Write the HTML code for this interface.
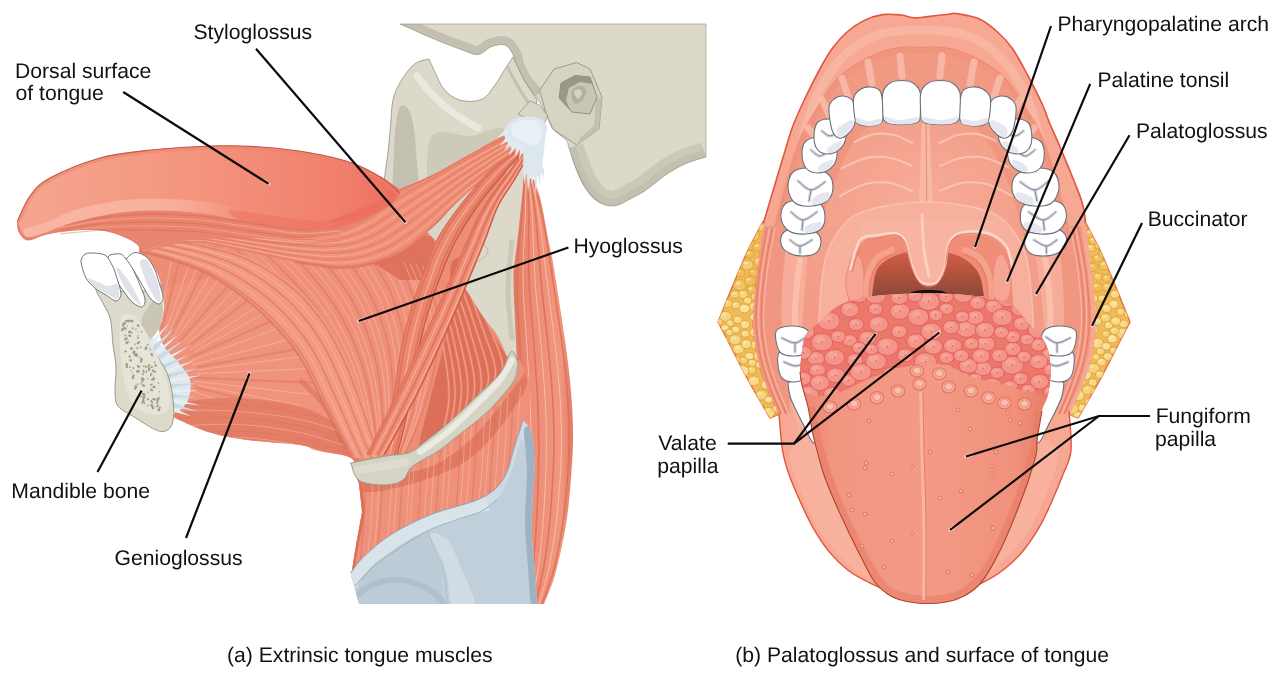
<!DOCTYPE html>
<html><head><meta charset="utf-8"><title>Tongue muscles</title>
<style>
html,body{margin:0;padding:0;background:#fff;}
body{width:1280px;height:677px;overflow:hidden;font-family:"Liberation Sans",sans-serif;}
svg{display:block;}
svg text{text-rendering:geometricPrecision;}
text{font-family:"Liberation Sans",sans-serif;font-size:21.15px;fill:#111;}
</style></head><body>
<svg width="1280" height="677" viewBox="0 0 1280 677">
<clipPath id="cSk"><path d="M400,24C405.5,26.4 423.1,34.4 433,38.6C442.9,42.8 452.2,46.4 459.7,49C467.2,51.6 472.7,54.9 478,54.5C483.3,54.1 487.1,48.2 491.6,46.6C496.1,45 501.4,43.7 505,45C508.6,46.3 511.2,51.2 513,54.5C514.8,57.8 513.9,60.6 515.6,65C517.4,69.4 520.1,75.8 523.5,81C526.9,86.2 533.9,93.5 536,96L546,113C547.2,115.7 549.7,124.5 553,129C556.3,133.5 563.3,136.8 566,140C568.7,143.2 567.5,143.7 569,148C570.5,152.3 572.5,159.7 575,166C577.5,172.3 580.3,180.2 584,186C587.7,191.8 592,197.7 597,201C602,204.3 608.2,206.5 614,206C619.8,205.5 626.7,200.7 632,198C637.3,195.3 640.2,194 646,190C651.8,186 660.3,178.4 667,174C673.7,169.6 679.5,166.3 686,163.5C692.5,160.7 702.7,158.1 706,157L706,24Z"/></clipPath>
<path d="M400,24C405.5,26.4 423.1,34.4 433,38.6C442.9,42.8 452.2,46.4 459.7,49C467.2,51.6 472.7,54.9 478,54.5C483.3,54.1 487.1,48.2 491.6,46.6C496.1,45 501.4,43.7 505,45C508.6,46.3 511.2,51.2 513,54.5C514.8,57.8 513.9,60.6 515.6,65C517.4,69.4 520.1,75.8 523.5,81C526.9,86.2 533.9,93.5 536,96L546,113C547.2,115.7 549.7,124.5 553,129C556.3,133.5 563.3,136.8 566,140C568.7,143.2 567.5,143.7 569,148C570.5,152.3 572.5,159.7 575,166C577.5,172.3 580.3,180.2 584,186C587.7,191.8 592,197.7 597,201C602,204.3 608.2,206.5 614,206C619.8,205.5 626.7,200.7 632,198C637.3,195.3 640.2,194 646,190C651.8,186 660.3,178.4 667,174C673.7,169.6 679.5,166.3 686,163.5C692.5,160.7 702.7,158.1 706,157L706,24Z" fill="#dcd9ca"/>
<g clip-path="url(#cSk)">
<path d="M400,24C405.5,26.4 423.1,34.4 433,38.6C442.9,42.8 452.2,46.4 459.7,49C467.2,51.6 472.7,54.9 478,54.5C483.3,54.1 487.1,48.2 491.6,46.6C496.1,45 501.4,43.7 505,45C508.6,46.3 511.2,51.2 513,54.5C514.8,57.8 513.9,60.6 515.6,65C517.4,69.4 520.1,75.8 523.5,81C526.9,86.2 533.9,93.5 536,96" fill="none" stroke="#c3c0b0" stroke-width="17" stroke-linejoin="round"/>
<path d="M569,148C570,151 572.5,159.7 575,166C577.5,172.3 580.3,180.2 584,186C587.7,191.8 592,197.7 597,201C602,204.3 608.2,206.5 614,206C619.8,205.5 626.7,200.7 632,198C637.3,195.3 640.2,194 646,190C651.8,186 660.3,178.4 667,174C673.7,169.6 679.5,166.3 686,163.5C692.5,160.7 702.7,158.1 706,157" fill="none" stroke="#cbc8b8" stroke-width="30"/>
<path d="M569,148C570,151 572.5,159.7 575,166C577.5,172.3 580.3,180.2 584,186C587.7,191.8 592,197.7 597,201C602,204.3 608.2,206.5 614,206C619.8,205.5 626.7,200.7 632,198C637.3,195.3 640.2,194 646,190C651.8,186 660.3,178.4 667,174C673.7,169.6 679.5,166.3 686,163.5C692.5,160.7 702.7,158.1 706,157" fill="none" stroke="#c3c0b0" stroke-width="14"/>
<path d="M560,140C562.5,145 570,160.7 575,170C580,179.3 583.5,189.3 590,196C596.5,202.7 605.7,209.3 614,210C622.3,210.7 635.7,201.7 640,200" fill="none" stroke="#b9b6a6" stroke-width="5"/>
</g>
<path d="M400,24C405.5,26.4 423.1,34.4 433,38.6C442.9,42.8 452.2,46.4 459.7,49C467.2,51.6 472.7,54.9 478,54.5C483.3,54.1 487.1,48.2 491.6,46.6C496.1,45 501.4,43.7 505,45C508.6,46.3 511.2,51.2 513,54.5C514.8,57.8 513.9,60.6 515.6,65C517.4,69.4 520.1,75.8 523.5,81C526.9,86.2 533.9,93.5 536,96L546,113C547.2,115.7 549.7,124.5 553,129C556.3,133.5 563.3,136.8 566,140C568.7,143.2 567.5,143.7 569,148C570.5,152.3 572.5,159.7 575,166C577.5,172.3 580.3,180.2 584,186C587.7,191.8 592,197.7 597,201C602,204.3 608.2,206.5 614,206C619.8,205.5 626.7,200.7 632,198C637.3,195.3 640.2,194 646,190C651.8,186 660.3,178.4 667,174C673.7,169.6 679.5,166.3 686,163.5C692.5,160.7 702.7,158.1 706,157L706,24Z" fill="none" stroke="#8e8d80" stroke-width="0.6"/>
<path d="M539.5,90.4L554,69L576.7,62.5L590,69L602,97L599,129L576.7,145L552.8,129L546,113Z" fill="#d6d3c3" stroke="#8e8d80" stroke-width="0.8" stroke-linejoin="round"/>
<path d="M602,97L599,129L576.7,145L580,138L594,126L596,99Z" fill="#c3c0b0"/>
<path d="M561,83L575,75.5L590,77L597,97L590,114L572,112L559,98Z" fill="#c9c6b6" stroke="#8a887b" stroke-width="0.9" stroke-linejoin="round"/>
<path d="M561,83L575,75.5L590,77L593,84L580,82L569,88L566,100L570,110L559,98Z" fill="#9a9787"/>
<path d="M572,90C573.3,88 577.7,86 580,86C582.3,86 585.3,88 586,90C586.7,92 585.7,95.7 584,98C582.3,100.3 578,104 576,104C574,104 572.7,100.3 572,98C571.3,95.7 570.7,92 572,90Z" fill="#b3b0a0"/>
<path d="M574,92C574.2,90.3 577.7,88.8 579,89C580.3,89.2 582.2,91.3 582,93C581.8,94.7 579.3,99.2 578,99C576.7,98.8 573.8,93.7 574,92Z" fill="#d5d2c3"/>
<clipPath id="cRam"><path d="M429,59C426.6,59.8 419.2,60.3 414.5,64C409.8,67.7 404.6,75 401,81C397.4,87 394.7,92.2 393,99.7C391.3,107.2 391.4,117.1 390.6,126C389.8,134.9 388.9,145 388,153C387.1,161 386,164.5 385,174C384,183.5 382.2,189 382,210C381.8,231 383.7,285 384,300L520,372L524,300L524,200L531,128L537,100L524,80L513,57L513,57C512.1,58.3 510.8,60.1 507.6,65C504.4,69.9 498.4,80.7 494,86.5C489.6,92.3 486.7,97.5 481,99.7C475.3,102 465.9,101.8 459.7,100C453.5,98.2 448.2,94.4 443.8,89C439.4,83.6 435.5,72.8 433,67.8C430.5,62.8 429.7,60.5 429,59Z"/></clipPath>
<path d="M429,59C426.6,59.8 419.2,60.3 414.5,64C409.8,67.7 404.6,75 401,81C397.4,87 394.7,92.2 393,99.7C391.3,107.2 391.4,117.1 390.6,126C389.8,134.9 388.9,145 388,153C387.1,161 386,164.5 385,174C384,183.5 382.2,189 382,210C381.8,231 383.7,285 384,300L520,372L524,300L524,200L531,128L537,100L524,80L513,57L513,57C512.1,58.3 510.8,60.1 507.6,65C504.4,69.9 498.4,80.7 494,86.5C489.6,92.3 486.7,97.5 481,99.7C475.3,102 465.9,101.8 459.7,100C453.5,98.2 448.2,94.4 443.8,89C439.4,83.6 435.5,72.8 433,67.8C430.5,62.8 429.7,60.5 429,59Z" fill="#dcd9ca" stroke="#8e8d80" stroke-width="0.8"/>
<g clip-path="url(#cRam)">
<path d="M398,112C399.8,104.7 402.7,105 405,106C407.3,107 410.2,110.7 412,118C413.8,125.3 415.2,136.3 416,150C416.8,163.7 420.5,191.7 417,200C413.5,208.3 398.8,208.3 395,200C391.2,191.7 393.5,164.7 394,150C394.5,135.3 396.2,119.3 398,112Z" fill="#c3c0b0"/>
<path d="M432,136C439,125.3 458.7,137.3 470,136C481.3,134.7 493,127.3 500,128C507,128.7 512,131.3 512,140C512,148.7 507,165 500,180C493,195 480,216.7 470,230C460,243.3 447,265 440,260C433,255 429.3,220.7 428,200C426.7,179.3 425,146.7 432,136Z" fill="#cdcab9"/>
<path d="M417,76C419.2,78.7 424.2,86 430,92C435.8,98 444,106 452,112C460,118 473.7,125.3 478,128" fill="none" stroke="#ebe9df" stroke-width="7" stroke-linecap="round"/>
<path d="M507,66C509.2,70 515.8,83 520,90C524.2,97 530,105 532,108" fill="none" stroke="#c3c0b0" stroke-width="3"/>
<path d="M512,240C511.3,248.3 508,273.3 508,290C508,306.7 511.3,331.7 512,340" fill="none" stroke="#cbc8b8" stroke-width="5"/>
<path d="M470,232C473,235 486.7,245 488,250C489.3,255 479.7,260 478,262" fill="none" stroke="#b9b6a6" stroke-width="1"/>
</g>
<path d="M518,114L530,101L539.5,105L547.5,115.7L543.5,126L530,120Z" fill="#d9d6c6" stroke="#8e8d80" stroke-width="0.7" stroke-linejoin="round"/>
<defs>
<linearGradient id="gTongue" x1="0" y1="0" x2="1" y2="0"><stop offset="0" stop-color="#f5a690"/><stop offset="0.45" stop-color="#f4957e"/><stop offset="0.8" stop-color="#f1826e"/><stop offset="1" stop-color="#ee6f60"/></linearGradient>
<linearGradient id="gCart" x1="0" y1="0" x2="1" y2="0"><stop offset="0" stop-color="#c9d6de"/><stop offset="0.6" stop-color="#bccbd5"/><stop offset="1" stop-color="#a9bcc9"/></linearGradient>
<linearGradient id="gB3" x1="0" y1="0" x2="1" y2="0"><stop offset="0" stop-color="#e07860"/><stop offset="0.3" stop-color="#ee8d76"/><stop offset="0.8" stop-color="#f19680"/><stop offset="1" stop-color="#e27a62"/></linearGradient>
</defs>
<path d="M524,176C523.2,184.3 520.5,212 519,226C517.5,240 515.9,250.8 515,260C514.1,269.2 513.3,267.7 513.5,281C513.7,294.3 515.2,322.3 516,340C516.8,357.7 517.3,368.7 518,387C518.7,405.3 519.7,413.8 520,450C520.3,486.2 520,578.3 520,604L544,604C545.8,599.2 551.5,587.3 555,575C558.5,562.7 562.5,544.2 565,530C567.5,515.8 568.7,505 570,490C571.3,475 572.8,456.3 573,440C573.2,423.7 572.3,408.7 571,392C569.7,375.3 567.5,358.5 565,340C562.5,321.5 558.1,294.3 556,281C553.9,267.7 553.7,266.7 552.5,260C551.3,253.3 550.5,250.8 548.6,241C546.7,231.2 543.4,211.2 541,201C538.6,190.8 535.2,183.5 534,180Z" fill="url(#gB3)"/>
<path d="M524.7,176.3C524.2,182.7 523,202.1 521.9,215C520.8,227.9 519.1,240.8 518.3,253.7C517.5,266.6 516.9,279.6 517,292.5C517.1,305.5 518.4,318.5 519.1,331.4C519.7,344.4 520.4,357.4 521,370.4C521.7,383.4 522.4,396.3 522.8,409.3C523.3,422.3 523.6,435.3 523.7,448.3C523.9,461.3 523.8,474.3 523.7,487.3C523.6,500.3 523.5,513.3 523.4,526.2C523.2,539.2 523,552.2 522.7,565.2C522.4,578.1 521.9,597.5 521.7,604" fill="none" stroke="#dc6f57" stroke-width="1.6" opacity="0.85"/>
<path d="M526.1,176.9C526,183.3 525.8,202.5 525.3,215.4C524.9,228.3 523.8,241.2 523.4,254.1C523.1,267 522.9,279.9 523.3,292.9C523.8,305.8 525.1,318.8 526,331.8C526.9,344.7 527.7,357.7 528.4,370.7C529.2,383.7 530,396.7 530.4,409.7C530.9,422.7 531.2,435.7 531.3,448.7C531.3,461.7 531.1,474.7 530.8,487.7C530.6,500.7 530.3,513.7 529.8,526.6C529.3,539.6 528.8,552.6 528,565.5C527.2,578.4 525.6,597.6 525.1,604" fill="none" stroke="#fbc9b6" stroke-width="0.9" opacity="0.85"/>
<path d="M527.6,177.4C527.8,183.8 528.6,203 528.8,215.8C529,228.7 528.4,241.6 528.6,254.5C528.7,267.4 528.9,280.3 529.7,293.2C530.4,306.2 531.9,319.2 532.9,332.1C534,345.1 535,358 535.8,371C536.7,384 537.6,397 538.1,410C538.6,423 538.8,436 538.8,449.1C538.8,462.1 538.4,475.1 538,488.1C537.5,501.1 537,514.1 536.2,527C535.5,540 534.6,552.9 533.3,565.8C532,578.6 529.4,597.6 528.6,604" fill="none" stroke="#dc6f57" stroke-width="1.6" opacity="0.85"/>
<path d="M529,178C529.5,184.4 531.5,203.4 532.3,216.2C533.1,229.1 533.1,242 533.7,254.9C534.4,267.7 535,280.7 536,293.6C537,306.5 538.7,319.5 539.9,332.5C541.1,345.4 542.3,358.4 543.2,371.4C544.2,384.3 545.2,397.3 545.7,410.4C546.2,423.4 546.5,436.4 546.4,449.4C546.3,462.5 545.7,475.5 545.1,488.5C544.5,501.5 543.8,514.5 542.7,527.4C541.6,540.3 540.4,553.3 538.6,566.1C536.8,578.8 533.1,597.7 532,604" fill="none" stroke="#fbc9b6" stroke-width="0.9" opacity="0.85"/>
<path d="M530.4,178.6C531.3,184.9 534.3,203.9 535.7,216.7C537.1,229.4 537.8,242.4 538.9,255.2C540,268.1 541,281 542.3,294C543.7,306.9 545.4,319.8 546.8,332.8C548.2,345.7 549.5,358.7 550.6,371.7C551.7,384.7 552.7,397.7 553.3,410.7C553.8,423.7 554.1,436.8 553.9,449.8C553.7,462.8 553,475.9 552.2,488.9C551.4,501.9 550.5,514.9 549.1,527.8C547.7,540.7 546.2,553.7 543.9,566.4C541.6,579.1 536.8,597.7 535.4,604" fill="none" stroke="#dc6f57" stroke-width="1.6" opacity="0.85"/>
<path d="M531.9,179.1C533.1,185.5 537.2,204.3 539.2,217.1C541.2,229.8 542.5,242.8 544,255.6C545.6,268.5 547.1,281.4 548.7,294.3C550.3,307.2 552.2,320.2 553.7,333.1C555.3,346.1 556.8,359 558,372C559.2,385 560.3,398 560.9,411.1C561.5,424.1 561.7,437.2 561.4,450.2C561.2,463.2 560.3,476.3 559.3,489.3C558.3,502.3 557.2,515.3 555.6,528.2C553.9,541.1 551.9,554 549.2,566.7C546.4,579.3 540.6,597.8 538.9,604" fill="none" stroke="#fbc9b6" stroke-width="0.9" opacity="0.85"/>
<path d="M533.3,179.7C534.8,186 540,204.8 542.6,217.5C545.3,230.2 547.1,243.1 549.2,256C551.3,268.9 553.1,281.8 555,294.7C556.9,307.6 558.9,320.5 560.6,333.5C562.4,346.4 564.1,359.4 565.4,372.3C566.7,385.3 567.9,398.4 568.5,411.4C569.1,424.4 569.3,437.5 569,450.6C568.6,463.6 567.6,476.7 566.4,489.7C565.3,502.7 564,515.7 562,528.6C560,541.5 557.7,554.4 554.5,567C551.2,579.5 544.3,597.8 542.3,604" fill="none" stroke="#dc6f57" stroke-width="1.6" opacity="0.85"/>
<clipPath id="cInf"><path d="M352,466L359,484L362,512L356,545L351,576L362,604L530,604L530,380L520,360Z"/></clipPath>
<path d="M352,466L359,484L362,512L356,545L351,576L362,604L530,604L530,380L520,360Z" fill="#ef917a"/>
<g clip-path="url(#cInf)">
<path d="M350,470C359.2,466.3 400,475 420,470C440,465 453.3,455 470,440C486.7,425 511,391.3 520,380C529,368.7 523.3,370 524,372C524.7,374 531.3,379 524,392C516.7,405 495.7,435.7 480,450C464.3,464.3 449.2,471 430,478C410.8,485 378.3,493.3 365,492C351.7,490.7 340.8,473.7 350,470Z" fill="#dc6f57" opacity="0.7"/>
<path d="M366.4,470C365.9,478.3 365.2,501.7 363.9,520C362.5,538.3 360.6,560 358.4,580C356.1,600 351.7,630 350.4,640" fill="none" stroke="#dc6f57" stroke-width="1.5" opacity="0.5"/>
<path d="M373.1,470C372.7,478.3 372.3,501.7 371,520C369.6,538.3 367.4,560 365.1,580C362.8,600 358.4,630 357.1,640" fill="none" stroke="#fbc9b6" stroke-width="0.9" opacity="0.5"/>
<path d="M379.1,470C378.8,478.3 378.3,501.7 377,520C375.6,538.3 373.4,560 371.1,580C368.8,600 364.5,630 363.1,640" fill="none" stroke="#fbc9b6" stroke-width="0.9" opacity="0.5"/>
<path d="M383.2,470C382.7,478.3 381.5,501.7 380.1,520C378.8,538.3 377.3,560 375.2,580C373,600 368.5,630 367.2,640" fill="none" stroke="#dc6f57" stroke-width="1.5" opacity="0.5"/>
<path d="M392.1,470C391.7,478.3 390.8,501.7 389.4,520C388.1,538.3 386.3,560 384.1,580C381.9,600 377.5,630 376.1,640" fill="none" stroke="#fbc9b6" stroke-width="0.9" opacity="0.5"/>
<path d="M398.2,470C397.6,478.3 395.8,501.7 394.4,520C393.1,538.3 392.2,560 390.2,580C388.2,600 383.5,630 382.2,640" fill="none" stroke="#fbc9b6" stroke-width="0.9" opacity="0.5"/>
<path d="M403.1,470C402.5,478.3 400.9,501.7 399.6,520C398.3,538.3 397.2,560 395.1,580C393,600 388.4,630 387.1,640" fill="none" stroke="#dc6f57" stroke-width="1.5" opacity="0.5"/>
<path d="M409.5,470C409.1,478.3 408,501.7 406.7,520C405.3,538.3 403.7,560 401.5,580C399.3,600 394.9,630 393.5,640" fill="none" stroke="#fbc9b6" stroke-width="0.9" opacity="0.5"/>
<path d="M414.1,466.9C413.5,475.2 411.9,498.6 410.6,516.9C409.2,535.2 408.2,556.9 406.1,576.9C404.1,596.9 399.5,626.9 398.1,636.9" fill="none" stroke="#fbc9b6" stroke-width="0.9" opacity="0.5"/>
<path d="M421.1,461.6C420.8,470 420.3,493.3 419,511.6C417.6,530 415.4,551.6 413.1,571.6C410.8,591.6 406.5,621.6 405.1,631.6" fill="none" stroke="#dc6f57" stroke-width="1.5" opacity="0.5"/>
<path d="M428.8,455.9C428.2,464.2 426.4,487.6 425.1,505.9C423.8,524.2 422.9,545.9 420.8,565.9C418.7,585.9 414.1,615.9 412.8,625.9" fill="none" stroke="#fbc9b6" stroke-width="0.9" opacity="0.5"/>
<path d="M435.1,451.2C434.5,459.5 432.7,482.8 431.4,501.2C430,519.5 429.1,541.2 427.1,561.2C425,581.2 420.4,611.2 419.1,621.2" fill="none" stroke="#fbc9b6" stroke-width="0.9" opacity="0.5"/>
<path d="M440.8,446.9C440.1,455.3 438.3,478.6 437,496.9C435.7,515.3 434.8,536.9 432.8,556.9C430.7,576.9 426.1,606.9 424.8,616.9" fill="none" stroke="#dc6f57" stroke-width="1.5" opacity="0.5"/>
<path d="M445.1,443.7C444.7,452 444.2,475.3 442.8,493.7C441.5,512 439.4,533.7 437.1,553.7C434.8,573.7 430.4,603.7 429.1,613.7" fill="none" stroke="#fbc9b6" stroke-width="0.9" opacity="0.5"/>
<path d="M451.9,438.6C451.3,446.9 449.7,470.2 448.4,488.6C447,506.9 446,528.6 443.9,548.6C441.9,568.6 437.3,598.6 435.9,608.6" fill="none" stroke="#fbc9b6" stroke-width="0.9" opacity="0.5"/>
<path d="M460.4,432.2C460.1,440.5 459.5,463.8 458.2,482.2C456.9,500.5 454.7,522.2 452.4,542.2C450.2,562.2 445.8,592.2 444.4,602.2" fill="none" stroke="#dc6f57" stroke-width="1.5" opacity="0.5"/>
<path d="M464.6,429.1C464.2,437.4 463.8,460.7 462.5,479.1C461.2,497.4 458.9,519.1 456.6,539.1C454.2,559.1 449.9,589.1 448.6,599.1" fill="none" stroke="#fbc9b6" stroke-width="0.9" opacity="0.5"/>
<path d="M471.5,423.9C471.1,432.2 470.2,455.5 468.9,473.9C467.5,492.2 465.7,513.9 463.5,533.9C461.3,553.9 456.9,583.9 455.5,593.9" fill="none" stroke="#fbc9b6" stroke-width="0.9" opacity="0.5"/>
<path d="M476.7,420C476.4,428.3 475.9,451.6 474.6,470C473.3,488.3 471,510 468.7,530C466.4,550 462,580 460.7,590" fill="none" stroke="#dc6f57" stroke-width="1.5" opacity="0.5"/>
<path d="M484.4,414.2C484,422.6 483.6,445.9 482.3,464.2C481,482.6 478.7,504.2 476.4,524.2C474,544.2 469.7,574.2 468.4,584.2" fill="none" stroke="#fbc9b6" stroke-width="0.9" opacity="0.5"/>
<path d="M491.2,409.1C490.6,417.4 489.1,440.8 487.8,459.1C486.4,477.4 485.3,499.1 483.2,519.1C481.1,539.1 476.5,569.1 475.2,579.1" fill="none" stroke="#fbc9b6" stroke-width="0.9" opacity="0.5"/>
<path d="M495.8,405.7C495.2,414 493.4,437.3 492.1,455.7C490.8,474 489.8,495.7 487.8,515.7C485.7,535.7 481.1,565.7 479.8,575.7" fill="none" stroke="#dc6f57" stroke-width="1.5" opacity="0.5"/>
<path d="M501.3,401.5C500.7,409.8 498.8,433.2 497.5,451.5C496.1,469.8 495.4,491.5 493.3,511.5C491.3,531.5 486.7,561.5 485.3,571.5" fill="none" stroke="#fbc9b6" stroke-width="0.9" opacity="0.5"/>
<path d="M508,396.5C507.5,404.8 506.5,428.2 505.2,446.5C503.9,464.8 502.2,486.5 500,506.5C497.8,526.5 493.3,556.5 492,566.5" fill="none" stroke="#fbc9b6" stroke-width="0.9" opacity="0.5"/>
<path d="M513.3,392.5C512.9,400.9 512,424.2 510.7,442.5C509.3,460.9 507.5,482.5 505.3,502.5C503.1,522.5 498.6,552.5 497.3,562.5" fill="none" stroke="#dc6f57" stroke-width="1.5" opacity="0.5"/>
<path d="M520.5,387.1C520,395.4 518.5,418.8 517.1,437.1C515.8,455.4 514.6,477.1 512.5,497.1C510.4,517.1 505.8,547.1 504.5,557.1" fill="none" stroke="#fbc9b6" stroke-width="0.9" opacity="0.5"/>
<path d="M359,484C359.5,488.7 362.5,501.8 362,512C361.5,522.2 357.8,534.3 356,545C354.2,555.7 351.8,570.8 351,576" fill="none" stroke="#dc6f57" stroke-width="5"/>
</g>
<clipPath id="cMass"><path d="M139,252C141.5,254.6 150.3,262.2 154,267.5C157.7,272.8 159.3,277.8 161,284C162.7,290.2 163.8,299 164,305C164.2,311 162.8,316 162,320C161.2,324 158.8,324.8 159,329C159.2,333.2 160.8,339.8 163,345C165.2,350.2 169.5,354.5 172,360C174.5,365.5 177,371.3 178,378C179,384.7 178.8,393.4 178,400C177.2,406.6 174.2,414.6 173.5,417.5L173.5,417.5C179.6,420 197.7,428.8 210,432.5C222.3,436.2 232.5,437.9 247.5,440C262.5,442.1 288.3,443.2 300,445C311.7,446.8 309.3,448.6 317.5,450.6C325.7,452.6 342.6,454.4 349,457C355.4,459.6 354.8,464.5 356,466L356,466L410,455L450,425L500,378L512,356L507.5,357.5C505.8,353.8 500.9,341.6 497,335C493.1,328.4 488.5,324.5 484,318C479.5,311.5 473.7,302.3 470,296C466.3,289.7 462,285.7 462,280C462,274.3 465.3,272.8 470,262C474.7,251.2 483.3,231.2 490,215C496.7,198.8 504.7,175.8 510,165C515.3,154.2 521.8,155.3 522,150C522.2,144.7 519.7,132.3 511,133C502.3,133.7 482.7,147.2 470,154C457.3,160.8 446.7,167.7 435,173.5C423.3,179.3 405.8,186.4 400,189L380,176L140,200Z"/></clipPath>
<path d="M139,252C141.5,254.6 150.3,262.2 154,267.5C157.7,272.8 159.3,277.8 161,284C162.7,290.2 163.8,299 164,305C164.2,311 162.8,316 162,320C161.2,324 158.8,324.8 159,329C159.2,333.2 160.8,339.8 163,345C165.2,350.2 169.5,354.5 172,360C174.5,365.5 177,371.3 178,378C179,384.7 178.8,393.4 178,400C177.2,406.6 174.2,414.6 173.5,417.5L173.5,417.5C179.6,420 197.7,428.8 210,432.5C222.3,436.2 232.5,437.9 247.5,440C262.5,442.1 288.3,443.2 300,445C311.7,446.8 309.3,448.6 317.5,450.6C325.7,452.6 342.6,454.4 349,457C355.4,459.6 354.8,464.5 356,466L356,466L410,455L450,425L500,378L512,356L507.5,357.5C505.8,353.8 500.9,341.6 497,335C493.1,328.4 488.5,324.5 484,318C479.5,311.5 473.7,302.3 470,296C466.3,289.7 462,285.7 462,280C462,274.3 465.3,272.8 470,262C474.7,251.2 483.3,231.2 490,215C496.7,198.8 504.7,175.8 510,165C515.3,154.2 521.8,155.3 522,150C522.2,144.7 519.7,132.3 511,133C502.3,133.7 482.7,147.2 470,154C457.3,160.8 446.7,167.7 435,173.5C423.3,179.3 405.8,186.4 400,189L380,176L140,200Z" fill="#ee8d76"/>
<g clip-path="url(#cMass)">
<path d="M452,262C455.3,255.7 466.2,255.7 470,262C473.8,268.3 468.8,284.1 475,300C481.2,315.9 501.3,348.2 507.5,357.5C513.7,366.8 513.2,352.6 512,356C510.8,359.4 510.3,366.5 500,378C489.7,389.5 463.3,413 450,425C436.7,437 423.3,454.2 420,450C416.7,445.8 425.8,418.3 430,400C434.2,381.7 441.7,356.7 445,340C448.3,323.3 448.8,313 450,300C451.2,287 448.7,268.3 452,262Z" fill="#dc6f57"/>
<path d="M160,300C163.3,283.3 185,281.7 200,280C215,278.3 235,283.3 250,290C265,296.7 278.3,306.7 290,320C301.7,333.3 311.7,353.3 320,370C328.3,386.7 343.3,408.3 340,420C336.7,431.7 323.3,440 300,440C276.7,440 220,430 200,420C180,410 186.7,400 180,380C173.3,360 156.7,316.7 160,300Z" fill="#f0937c"/>
<path d="M158.5,330L171.2,261.6" fill="none" stroke="#f8bca8" stroke-width="0.9" opacity="0.7"/>
<path d="M162.1,328.5L179.6,259.4" fill="none" stroke="#de735c" stroke-width="2.2" opacity="0.45"/>
<path d="M164,336.2L197.4,241" fill="none" stroke="#f8bca8" stroke-width="0.9" opacity="0.7"/>
<path d="M166.8,337.3L210.7,236.1" fill="none" stroke="#f8bca8" stroke-width="0.9" opacity="0.7"/>
<path d="M171.7,333.4L215.9,246.6" fill="none" stroke="#de735c" stroke-width="2.2" opacity="0.45"/>
<path d="M172.4,338.4L237.9,228.5" fill="none" stroke="#f8bca8" stroke-width="0.9" opacity="0.7"/>
<path d="M178.6,335.6L252.9,230.7" fill="none" stroke="#f8bca8" stroke-width="0.9" opacity="0.7"/>
<path d="M179.7,341.6L262.8,245.3" fill="none" stroke="#de735c" stroke-width="2.2" opacity="0.45"/>
<path d="M184.8,340.5L271,252.6" fill="none" stroke="#f8bca8" stroke-width="0.9" opacity="0.7"/>
<path d="M187.8,343.3L295,250.4" fill="none" stroke="#f8bca8" stroke-width="0.9" opacity="0.7"/>
<path d="M190.7,344.5L291.9,266.2" fill="none" stroke="#de735c" stroke-width="2.2" opacity="0.45"/>
<path d="M190.4,349.8L315.9,268.4" fill="none" stroke="#f8bca8" stroke-width="0.9" opacity="0.7"/>
<path d="M195,351.4L317.5,284.5" fill="none" stroke="#f8bca8" stroke-width="0.9" opacity="0.7"/>
<path d="M191.1,357.3L316.6,300.4" fill="none" stroke="#de735c" stroke-width="2.2" opacity="0.45"/>
<path d="M190.7,360.8L329.3,309" fill="none" stroke="#f8bca8" stroke-width="0.9" opacity="0.7"/>
<path d="M192.2,364.9L319.9,331.4" fill="none" stroke="#f8bca8" stroke-width="0.9" opacity="0.7"/>
<path d="M196.6,367.4L325.8,343.7" fill="none" stroke="#de735c" stroke-width="2.2" opacity="0.45"/>
<path d="M197.5,369.9L330.6,352.8" fill="none" stroke="#f8bca8" stroke-width="0.9" opacity="0.7"/>
<path d="M196.2,373.8L310.4,368.5" fill="none" stroke="#f8bca8" stroke-width="0.9" opacity="0.7"/>
<path d="M192.3,377.7L312.3,382.7" fill="none" stroke="#de735c" stroke-width="2.2" opacity="0.45"/>
<path d="M193,380.9L308.6,394.2" fill="none" stroke="#f8bca8" stroke-width="0.9" opacity="0.7"/>
<path d="M197.4,385.2L299.7,405.2" fill="none" stroke="#f8bca8" stroke-width="0.9" opacity="0.7"/>
<path d="M195,387.2L277.2,407.7" fill="none" stroke="#de735c" stroke-width="2.2" opacity="0.45"/>
<path d="M192.4,391L270.9,418.7" fill="none" stroke="#f8bca8" stroke-width="0.9" opacity="0.7"/>
<path d="M232,250C237,254.7 250.7,266.7 262,278C273.3,289.3 287.8,302.3 300,318C312.2,333.7 325.3,353.3 335,372C344.7,390.7 352.8,415.7 358,430C363.2,444.3 364.7,453.3 366,458L405,456C408.3,448.3 419.2,427.7 425,410C430.8,392.3 437.8,368.3 440,350C442.2,331.7 440.7,314.7 438,300C435.3,285.3 430.3,272.7 424,262C417.7,251.3 404,240.3 400,236Z" fill="#ef917a"/>
<path d="M235.8,249.7C237.9,251.6 244.1,257.2 248.2,261C252.3,264.8 256.4,268.6 260.5,272.5C264.5,276.4 268.4,280.4 272.4,284.3C276.3,288.3 280.4,292.2 284.2,296.2C288.1,300.2 291.9,304.3 295.6,308.5C299.2,312.8 302.6,317.2 306,321.6C309.3,326.1 312.5,330.7 315.6,335.3C318.7,339.9 321.7,344.6 324.6,349.4C327.5,354.1 330.4,359 333,363.9C335.6,368.8 338.2,373.7 340.5,378.8C342.8,383.9 344.8,389.1 346.8,394.2C348.9,399.4 350.7,404.7 352.5,410C354.4,415.2 356.2,420.5 357.9,425.8C359.6,431.1 361.5,436.3 363,441.7C364.5,447.1 366.2,455.2 366.9,458" fill="none" stroke="#de735c" stroke-width="1.8" opacity="0.55"/>
<path d="M243.5,249C245.5,250.9 251.7,256.5 255.8,260.3C259.9,264.2 264,268 268,271.9C272,275.8 275.8,279.8 279.7,283.8C283.6,287.8 287.5,291.7 291.2,295.8C295,299.9 298.7,304 302.2,308.3C305.7,312.6 309,317 312.2,321.5C315.4,326 318.5,330.6 321.4,335.3C324.4,339.9 327.3,344.7 330,349.4C332.7,354.2 335.4,359.1 337.8,364C340.3,368.9 342.6,373.9 344.8,378.9C346.9,384 348.8,389.2 350.7,394.4C352.5,399.6 354.2,404.8 355.9,410.1C357.5,415.3 359.2,420.6 360.7,425.9C362.3,431.1 363.9,436.4 365.2,441.7C366.6,447 368.1,455.2 368.7,457.9" fill="none" stroke="#f8bca8" stroke-width="0.9" opacity="0.7"/>
<path d="M251.1,248.4C253.1,250.3 259.4,255.9 263.4,259.7C267.5,263.5 271.6,267.3 275.5,271.2C279.4,275.2 283.2,279.2 287,283.3C290.8,287.3 294.6,291.3 298.3,295.4C301.9,299.5 305.5,303.7 308.9,308C312.2,312.4 315.4,316.9 318.5,321.4C321.5,325.9 324.5,330.6 327.3,335.3C330.1,340 332.8,344.7 335.4,349.5C337.9,354.3 340.4,359.2 342.7,364.1C345,369 347.1,374 349.1,379.1C351.1,384.2 352.8,389.3 354.5,394.5C356.2,399.7 357.7,405 359.2,410.2C360.7,415.4 362.1,420.7 363.5,425.9C364.9,431.2 366.3,436.4 367.5,441.7C368.6,447 369.9,455.1 370.4,457.8" fill="none" stroke="#f8bca8" stroke-width="0.9" opacity="0.7"/>
<path d="M258.7,247.8C260.8,249.7 267,255.2 271,259C275.1,262.9 279.1,266.7 283,270.6C286.9,274.6 290.6,278.7 294.3,282.7C298,286.8 301.7,290.8 305.3,295C308.8,299.2 312.3,303.4 315.5,307.8C318.8,312.2 321.8,316.7 324.7,321.3C327.7,325.8 330.4,330.5 333.1,335.3C335.8,340 338.3,344.8 340.7,349.6C343.1,354.4 345.4,359.3 347.5,364.2C349.6,369.2 351.6,374.2 353.4,379.2C355.2,384.3 356.8,389.5 358.3,394.7C359.8,399.8 361.2,405.1 362.5,410.3C363.9,415.5 365.1,420.7 366.3,426C367.5,431.2 368.8,436.4 369.8,441.7C370.7,447 371.8,455 372.2,457.7" fill="none" stroke="#de735c" stroke-width="1.8" opacity="0.55"/>
<path d="M266.4,247.1C268.4,249 274.6,254.6 278.6,258.4C282.6,262.2 286.7,266 290.5,270C294.4,273.9 298,278.1 301.6,282.2C305.3,286.3 308.9,290.4 312.3,294.6C315.7,298.9 319,303.1 322.2,307.5C325.3,312 328.2,316.5 331,321.2C333.8,325.8 336.4,330.5 338.9,335.2C341.4,340 343.8,344.8 346.1,349.6C348.3,354.5 350.4,359.4 352.4,364.3C354.3,369.3 356.1,374.3 357.8,379.4C359.4,384.5 360.8,389.6 362.1,394.8C363.5,400 364.7,405.2 365.9,410.4C367,415.6 368.1,420.8 369.1,426C370.2,431.3 371.2,436.4 372,441.7C372.8,446.9 373.7,454.9 374,457.6" fill="none" stroke="#f8bca8" stroke-width="0.9" opacity="0.7"/>
<path d="M274,246.5C276,248.4 282.2,253.9 286.2,257.7C290.2,261.5 294.2,265.4 298,269.3C301.8,273.3 305.4,277.5 308.9,281.7C312.5,285.8 316,290 319.3,294.2C322.6,298.5 325.8,302.8 328.8,307.3C331.8,311.8 334.6,316.4 337.2,321C339.9,325.7 342.4,330.4 344.8,335.2C347.1,340 349.4,344.8 351.4,349.7C353.5,354.6 355.4,359.5 357.2,364.5C359,369.4 360.6,374.4 362.1,379.5C363.5,384.6 364.8,389.8 366,394.9C367.1,400.1 368.2,405.3 369.2,410.5C370.2,415.7 371.1,420.9 372,426.1C372.8,431.3 373.7,436.5 374.3,441.7C374.9,446.9 375.5,454.9 375.8,457.5" fill="none" stroke="#f8bca8" stroke-width="0.9" opacity="0.7"/>
<path d="M281.6,245.9C283.7,247.7 289.8,253.3 293.8,257.1C297.8,260.9 301.8,264.7 305.5,268.7C309.3,272.7 312.8,276.9 316.3,281.1C319.7,285.3 323.1,289.5 326.3,293.8C329.5,298.2 332.6,302.5 335.5,307.1C338.3,311.6 341,316.2 343.5,320.9C346,325.6 348.4,330.4 350.6,335.2C352.8,340 354.9,344.9 356.8,349.8C358.7,354.7 360.5,359.6 362.1,364.6C363.7,369.6 365.1,374.6 366.4,379.7C367.7,384.7 368.8,389.9 369.8,395.1C370.8,400.2 371.7,405.4 372.5,410.6C373.4,415.8 374.1,421 374.8,426.2C375.4,431.3 376.1,436.5 376.6,441.7C377,446.9 377.4,454.8 377.5,457.4" fill="none" stroke="#de735c" stroke-width="1.8" opacity="0.55"/>
<path d="M289.3,245.2C291.3,247.1 297.4,252.6 301.4,256.4C305.3,260.2 309.4,264.1 313.1,268.1C316.8,272.1 320.2,276.4 323.6,280.6C327,284.8 330.3,289.1 333.3,293.4C336.4,297.8 339.4,302.3 342.1,306.8C344.9,311.4 347.4,316.1 349.8,320.8C352.2,325.5 354.4,330.3 356.4,335.2C358.5,340 360.4,344.9 362.2,349.8C363.9,354.8 365.5,359.7 366.9,364.7C368.3,369.7 369.6,374.7 370.7,379.8C371.8,384.9 372.8,390.1 373.6,395.2C374.5,400.4 375.2,405.6 375.9,410.7C376.5,415.9 377.1,421.1 377.6,426.2C378.1,431.4 378.6,436.5 378.9,441.7C379.1,446.9 379.2,454.7 379.3,457.3" fill="none" stroke="#f8bca8" stroke-width="0.9" opacity="0.7"/>
<path d="M296.9,244.6C298.9,246.5 305,252 309,255.8C312.9,259.6 316.9,263.4 320.6,267.4C324.2,271.5 327.6,275.8 330.9,280.1C334.2,284.3 337.4,288.6 340.4,293.1C343.3,297.5 346.2,302 348.8,306.6C351.4,311.2 353.8,315.9 356,320.7C358.3,325.4 360.3,330.3 362.3,335.2C364.2,340 365.9,345 367.5,349.9C369.1,354.9 370.5,359.8 371.8,364.8C373,369.8 374.1,374.9 375.1,380C376,385 376.7,390.2 377.4,395.3C378.1,400.5 378.7,405.7 379.2,410.9C379.7,416 380.1,421.2 380.4,426.3C380.7,431.4 381,436.5 381.1,441.7C381.2,446.8 381.1,454.6 381.1,457.2" fill="none" stroke="#f8bca8" stroke-width="0.9" opacity="0.7"/>
<path d="M304.5,244C306.6,245.8 312.7,251.3 316.6,255.1C320.5,258.9 324.5,262.8 328.1,266.8C331.7,270.9 335,275.2 338.2,279.5C341.4,283.8 344.5,288.2 347.4,292.7C350.3,297.1 352.9,301.7 355.4,306.3C357.9,311 360.2,315.7 362.3,320.5C364.4,325.4 366.3,330.3 368.1,335.2C369.9,340.1 371.5,345 372.9,350C374.3,354.9 375.5,359.9 376.6,364.9C377.7,370 378.6,375 379.4,380.1C380.2,385.2 380.7,390.3 381.3,395.5C381.8,400.6 382.2,405.8 382.5,411C382.9,416.1 383.1,421.2 383.2,426.4C383.4,431.5 383.5,436.5 383.4,441.7C383.3,446.8 382.9,454.6 382.8,457.1" fill="none" stroke="#de735c" stroke-width="1.8" opacity="0.55"/>
<path d="M312.2,243.3C314.2,245.2 320.3,250.7 324.2,254.5C328.1,258.3 332,262.1 335.6,266.2C339.1,270.3 342.4,274.6 345.5,279C348.7,283.3 351.6,287.8 354.4,292.3C357.2,296.8 359.7,301.4 362.1,306.1C364.4,310.8 366.6,315.6 368.5,320.4C370.5,325.3 372.3,330.2 373.9,335.1C375.5,340.1 377,345.1 378.2,350C379.5,355 380.5,360 381.4,365.1C382.4,370.1 383.1,375.2 383.7,380.2C384.3,385.3 384.7,390.5 385.1,395.6C385.4,400.8 385.7,405.9 385.9,411.1C386,416.2 386.1,421.3 386,426.4C386,431.5 385.9,436.6 385.7,441.7C385.4,446.8 384.8,454.5 384.6,457" fill="none" stroke="#f8bca8" stroke-width="0.9" opacity="0.7"/>
<path d="M319.8,242.7C321.8,244.5 327.9,250 331.8,253.8C335.6,257.6 339.6,261.4 343.1,265.6C346.6,269.7 349.8,274.1 352.8,278.5C355.9,282.8 358.8,287.3 361.4,291.9C364.1,296.4 366.5,301.1 368.7,305.8C371,310.6 373,315.4 374.8,320.3C376.6,325.2 378.3,330.2 379.8,335.1C381.2,340.1 382.5,345.1 383.6,350.1C384.7,355.1 385.6,360.1 386.3,365.2C387,370.2 387.6,375.3 388,380.4C388.5,385.5 388.7,390.6 388.9,395.8C389.1,400.9 389.2,406.1 389.2,411.2C389.2,416.3 389,421.4 388.8,426.5C388.6,431.6 388.3,436.6 387.9,441.7C387.5,446.7 386.6,454.4 386.4,457" fill="none" stroke="#f8bca8" stroke-width="0.9" opacity="0.7"/>
<path d="M327.5,242C329.4,243.9 335.5,249.4 339.4,253.2C343.2,257 347.2,260.8 350.6,264.9C354.1,269 357.2,273.5 360.1,277.9C363.1,282.3 365.9,286.9 368.4,291.5C371,296.1 373.3,300.8 375.4,305.6C377.5,310.4 379.4,315.3 381.1,320.2C382.8,325.1 384.3,330.1 385.6,335.1C386.9,340.1 388,345.1 389,350.2C389.9,355.2 390.6,360.2 391.1,365.3C391.7,370.4 392.1,375.4 392.4,380.5C392.6,385.6 392.7,390.8 392.7,395.9C392.8,401 392.7,406.2 392.5,411.3C392.4,416.4 392,421.5 391.6,426.5C391.3,431.6 390.8,436.6 390.2,441.7C389.6,446.7 388.5,454.3 388.2,456.9" fill="none" stroke="#de735c" stroke-width="1.8" opacity="0.55"/>
<path d="M335.1,241.4C337.1,243.3 343.1,248.7 346.9,252.5C350.8,256.3 354.7,260.1 358.1,264.3C361.5,268.4 364.6,272.9 367.5,277.4C370.3,281.8 373,286.4 375.5,291.1C377.9,295.8 380,300.5 382,305.3C384,310.2 385.7,315.1 387.3,320.1C388.9,325 390.3,330.1 391.4,335.1C392.6,340.1 393.6,345.2 394.3,350.2C395.1,355.3 395.6,360.4 396,365.4C396.4,370.5 396.6,375.6 396.7,380.7C396.8,385.8 396.7,390.9 396.6,396C396.4,401.2 396.2,406.3 395.9,411.4C395.5,416.5 395,421.6 394.5,426.6C393.9,431.6 393.2,436.6 392.5,441.7C391.7,446.7 390.4,454.3 389.9,456.8" fill="none" stroke="#f8bca8" stroke-width="0.9" opacity="0.7"/>
<path d="M342.7,240.8C344.7,242.6 350.7,248.1 354.5,251.9C358.4,255.7 362.3,259.5 365.6,263.7C369,267.8 372,272.3 374.8,276.8C377.6,281.4 380.2,286 382.5,290.7C384.8,295.4 386.8,300.2 388.7,305.1C390.5,310 392.1,315 393.6,319.9C395,324.9 396.2,330 397.3,335.1C398.3,340.1 399.1,345.2 399.7,350.3C400.3,355.4 400.6,360.5 400.8,365.6C401.1,370.6 401.1,375.7 401,380.8C400.9,385.9 400.7,391.1 400.4,396.2C400.1,401.3 399.7,406.4 399.2,411.5C398.7,416.6 398,421.6 397.3,426.7C396.5,431.7 395.7,436.6 394.8,441.6C393.8,446.7 392.2,454.2 391.7,456.7" fill="none" stroke="#f8bca8" stroke-width="0.9" opacity="0.7"/>
<path d="M350.4,240.1C352.3,242 358.3,247.4 362.1,251.2C365.9,255 369.8,258.8 373.2,263C376.5,267.2 379.4,271.8 382.1,276.3C384.8,280.9 387.3,285.5 389.5,290.3C391.7,295.1 393.6,299.9 395.3,304.9C397.1,309.8 398.5,314.8 399.8,319.8C401.1,324.9 402.2,330 403.1,335.1C404,340.1 404.6,345.3 405.1,350.4C405.5,355.5 405.6,360.6 405.7,365.7C405.7,370.8 405.6,375.9 405.3,381C405.1,386.1 404.7,391.2 404.2,396.3C403.7,401.4 403.2,406.6 402.5,411.6C401.8,416.7 401,421.7 400.1,426.7C399.2,431.7 398.1,436.7 397,441.6C395.9,446.6 394.1,454.1 393.5,456.6" fill="none" stroke="#de735c" stroke-width="1.8" opacity="0.55"/>
<path d="M358,239.5C360,241.3 366,246.8 369.7,250.6C373.5,254.4 377.4,258.2 380.7,262.4C383.9,266.6 386.8,271.2 389.4,275.8C392,280.4 394.4,285.1 396.5,289.9C398.6,294.7 400.4,299.6 402,304.6C403.6,309.6 404.9,314.6 406.1,319.7C407.2,324.8 408.2,329.9 408.9,335C409.6,340.2 410.1,345.3 410.4,350.4C410.7,355.6 410.7,360.7 410.5,365.8C410.4,370.9 410.1,376 409.7,381.1C409.2,386.2 408.7,391.3 408,396.4C407.4,401.6 406.7,406.7 405.9,411.7C405,416.8 404,421.8 402.9,426.8C401.8,431.8 400.6,436.7 399.3,441.6C398,446.6 395.9,454 395.2,456.5" fill="none" stroke="#f8bca8" stroke-width="0.9" opacity="0.7"/>
<path d="M365.6,238.9C367.6,240.7 373.6,246.1 377.3,249.9C381.1,253.7 384.9,257.5 388.2,261.8C391.4,266 394.2,270.6 396.7,275.2C399.3,279.9 401.5,284.7 403.5,289.5C405.5,294.4 407.2,299.4 408.6,304.4C410.1,309.4 411.3,314.5 412.3,319.6C413.4,324.7 414.2,329.9 414.8,335C415.3,340.2 415.7,345.4 415.8,350.5C415.9,355.6 415.7,360.8 415.4,365.9C415.1,371 414.6,376.2 414,381.3C413.4,386.4 412.6,391.5 411.9,396.6C411.1,401.7 410.2,406.8 409.2,411.8C408.2,416.9 407,421.9 405.7,426.9C404.4,431.8 403,436.7 401.6,441.6C400.1,446.6 397.8,453.9 397,456.4" fill="none" stroke="#f8bca8" stroke-width="0.9" opacity="0.7"/>
<path d="M373.3,238.2C375.2,240.1 381.2,245.5 384.9,249.3C388.7,253.1 392.5,256.9 395.7,261.1C398.9,265.4 401.6,270 404,274.7C406.5,279.4 408.7,284.2 410.6,289.1C412.4,294 413.9,299.1 415.3,304.1C416.6,309.2 417.7,314.3 418.6,319.5C419.5,324.6 420.2,329.8 420.6,335C421,340.2 421.2,345.4 421.1,350.6C421.1,355.7 420.7,360.9 420.2,366C419.7,371.2 419.1,376.3 418.3,381.4C417.5,386.5 416.6,391.6 415.7,396.7C414.7,401.8 413.7,406.9 412.5,412C411.3,417 410,422 408.5,426.9C407.1,431.9 405.5,436.7 403.8,441.6C402.2,446.5 399.6,453.9 398.8,456.3" fill="none" stroke="#de735c" stroke-width="1.8" opacity="0.55"/>
<path d="M380.9,237.6C382.8,239.4 388.8,244.8 392.5,248.6C396.2,252.4 400.1,256.2 403.2,260.5C406.3,264.8 408.9,269.5 411.3,274.2C413.7,278.9 415.8,283.8 417.6,288.7C419.3,293.7 420.7,298.8 421.9,303.9C423.2,309 424.1,314.2 424.9,319.3C425.6,324.5 426.2,329.8 426.4,335C426.7,340.2 426.7,345.4 426.5,350.6C426.3,355.8 425.7,361 425.1,366.2C424.4,371.3 423.6,376.4 422.6,381.6C421.7,386.7 420.6,391.8 419.5,396.9C418.4,401.9 417.2,407.1 415.9,412.1C414.5,417.1 413,422.1 411.3,427C409.7,431.9 407.9,436.8 406.1,441.6C404.3,446.5 401.5,453.8 400.6,456.2" fill="none" stroke="#f8bca8" stroke-width="0.9" opacity="0.7"/>
<path d="M388.5,237C390.5,238.8 396.4,244.1 400.1,248C403.8,251.8 407.6,255.6 410.7,259.9C413.8,264.1 416.3,268.9 418.7,273.6C421,278.4 422.9,283.3 424.6,288.3C426.2,293.3 427.5,298.5 428.6,303.6C429.7,308.8 430.5,314 431.1,319.2C431.7,324.4 432.1,329.7 432.3,335C432.4,340.2 432.3,345.5 431.9,350.7C431.5,355.9 430.7,361.1 429.9,366.3C429.1,371.4 428,376.6 426.9,381.7C425.9,386.8 424.6,391.9 423.3,397C422,402.1 420.7,407.2 419.2,412.2C417.7,417.2 416,422.1 414.1,427C412.3,432 410.3,436.8 408.4,441.6C406.4,446.5 403.3,453.7 402.3,456.1" fill="none" stroke="#f8bca8" stroke-width="0.9" opacity="0.7"/>
<path d="M396.2,236.3C398.1,238.2 404,243.5 407.7,247.3C411.4,251.1 415.2,254.9 418.2,259.2C421.3,263.5 423.7,268.3 426,273.1C428.2,277.9 430.1,282.9 431.6,287.9C433.2,293 434.3,298.2 435.2,303.4C436.2,308.6 436.9,313.8 437.4,319.1C437.9,324.4 438.1,329.7 438.1,334.9C438.1,340.2 437.8,345.5 437.2,350.8C436.7,356 435.7,361.2 434.8,366.4C433.8,371.6 432.5,376.7 431.3,381.8C430,387 428.6,392.1 427.1,397.1C425.7,402.2 424.2,407.3 422.5,412.3C420.8,417.3 418.9,422.2 417,427.1C415,432 412.8,436.8 410.6,441.6C408.5,446.4 405.2,453.6 404.1,456" fill="none" stroke="#de735c" stroke-width="1.8" opacity="0.55"/>
<path d="M372,262L400,236L432,236L436,246L428,280L400,280Z" fill="#dd6f58" opacity="0.9"/>
<path d="M404,262L416,292" fill="none" stroke="#f8bca8" stroke-width="0.8" opacity="0.7"/>
<path d="M410,263L422,292" fill="none" stroke="#f8bca8" stroke-width="0.8" opacity="0.7"/>
<path d="M416,264L428,292" fill="none" stroke="#f8bca8" stroke-width="0.8" opacity="0.7"/>
<path d="M422,265L434,292" fill="none" stroke="#f8bca8" stroke-width="0.8" opacity="0.7"/>
<path d="M428,266L440,292" fill="none" stroke="#f8bca8" stroke-width="0.8" opacity="0.7"/>
<path d="M176,404C185,400.7 211,398 230,398C249,398 273.3,400.3 290,404C306.7,407.7 319.7,413.2 330,420C340.3,426.8 347.7,437.3 352,445C356.3,452.7 364.7,465.2 356,466C347.3,466.8 318.2,454 300,450C281.8,446 262.8,445 247,442C231.2,439 216.8,436 205,432C193.2,428 180.8,422.7 176,418C171.2,413.3 167,407.3 176,404Z" fill="#e27a63" opacity="0.85"/>
<path d="M300,380C303.3,383.3 314.2,392.5 320,400C325.8,407.5 330.8,416.7 335,425C339.2,433.3 343.3,445.8 345,450" fill="none" stroke="#d96a53" stroke-width="5" opacity="0.5"/>
<path d="M180,402C190,402.5 220,403.2 240,405C260,406.8 281.7,409.2 300,413C318.3,416.8 341.7,425.5 350,428" fill="none" stroke="#de735c" stroke-width="0.9" opacity="0.6"/>
<path d="M180,410C190,410.2 220,409.9 240,411.5C260,413.1 281.7,415.7 300,419.5C318.3,423.3 341.7,432 350,434.5" fill="none" stroke="#f8bca8" stroke-width="0.9" opacity="0.6"/>
<path d="M180,418C190,418 220,416.7 240,418C260,419.3 281.7,422.2 300,426C318.3,429.8 341.7,438.5 350,441" fill="none" stroke="#de735c" stroke-width="0.9" opacity="0.6"/>
<path d="M180,426C190,425.8 220,423.4 240,424.5C260,425.6 281.7,428.7 300,432.5C318.3,436.3 341.7,445 350,447.5" fill="none" stroke="#f8bca8" stroke-width="0.9" opacity="0.6"/>
<path d="M180,434C190,433.5 220,430.2 240,431C260,431.8 281.7,435.2 300,439C318.3,442.8 341.7,451.5 350,454" fill="none" stroke="#de735c" stroke-width="0.9" opacity="0.6"/>
<path d="M180,442C190,441.2 220,436.9 240,437.5C260,438.1 281.7,441.7 300,445.5C318.3,449.3 341.7,458 350,460.5" fill="none" stroke="#f8bca8" stroke-width="0.9" opacity="0.6"/>
<path d="M139,251C144.5,252.5 160.2,256 172,260C183.8,264 197.3,268.2 210,275C222.7,281.8 237,292.3 248,301C259,309.7 267.3,317.7 276,327C284.7,336.3 292.3,344.8 300,357C307.7,369.2 315.3,387 322,400C328.7,413 335,425.3 340,435C345,444.7 350,454.2 352,458L382,458C380.7,454.3 377.3,445.7 374,436C370.7,426.3 366.8,413.3 362,400C357.2,386.7 351.7,370 345,356C338.3,342 330.8,328 322,316C313.2,304 304,293.7 292,284C280,274.3 265.3,264.7 250,258C234.7,251.3 216.7,247.7 200,244C183.3,240.3 158.3,237.3 150,236Z" fill="#f29a84"/>
<path d="M139.8,249.9C143.2,250.8 153.4,253.1 160.1,254.9C166.9,256.8 173.6,258.8 180.2,261C186.8,263.1 193.5,265.3 199.9,268C206.3,270.7 212.6,273.8 218.7,277.2C224.7,280.7 230.5,284.7 236.2,288.7C241.9,292.7 247.5,296.8 252.9,301.3C258.4,305.7 263.6,310.3 268.7,315.1C273.7,319.9 278.5,325.1 283.1,330.3C287.7,335.5 292.3,340.8 296.4,346.5C300.5,352.1 304.1,358.1 307.5,364.2C310.9,370.3 313.7,376.7 316.8,383C319.9,389.3 322.8,395.6 325.9,401.9C329,408.1 332.1,414.4 335.3,420.6C338.4,426.9 341.5,433.1 344.6,439.3C347.8,445.6 352.6,454.9 354.1,458" fill="none" stroke="#de735c" stroke-width="1.8" opacity="0.6"/>
<path d="M141.4,247.8C144.8,248.6 155.2,250.8 162.1,252.5C169,254.3 175.9,256.2 182.7,258.2C189.4,260.3 196.3,262.4 202.9,265C209.4,267.5 215.9,270.4 222.2,273.8C228.4,277.1 234.4,281 240.3,284.9C246.2,288.9 252,293.1 257.5,297.5C263.1,301.9 268.5,306.6 273.6,311.5C278.7,316.4 283.6,321.6 288.2,327C292.9,332.3 297.5,337.8 301.6,343.6C305.6,349.4 309.3,355.6 312.7,361.8C316.1,368 319,374.5 322.1,381C325.1,387.4 328,393.9 331,400.3C334,406.7 337.1,413.1 340.1,419.6C343.1,426 346.1,432.4 349.2,438.8C352.2,445.2 356.9,454.8 358.4,458" fill="none" stroke="#f8bca8" stroke-width="0.9" opacity="0.7"/>
<path d="M142.9,245.6C146.5,246.4 157.1,248.5 164.1,250.1C171.2,251.8 178.2,253.5 185.1,255.5C192.1,257.5 199,259.5 205.8,261.9C212.6,264.4 219.3,267.1 225.7,270.3C232.1,273.5 238.3,277.3 244.4,281.2C250.5,285.1 256.4,289.3 262.1,293.7C267.8,298.2 273.3,302.9 278.5,307.9C283.7,312.9 288.7,318.2 293.4,323.7C298.1,329.2 302.6,334.8 306.7,340.8C310.8,346.7 314.5,353 317.9,359.4C321.3,365.7 324.3,372.4 327.3,378.9C330.3,385.5 333.2,392.1 336.1,398.7C339,405.3 342,411.9 345,418.5C347.9,425.1 350.7,431.7 353.7,438.3C356.6,444.9 361.2,454.7 362.7,458" fill="none" stroke="#de735c" stroke-width="1.8" opacity="0.6"/>
<path d="M144.5,243.5C148.1,244.2 159,246.2 166.1,247.7C173.3,249.3 180.5,250.9 187.6,252.8C194.7,254.6 201.8,256.5 208.8,258.9C215.7,261.2 222.6,263.7 229.2,266.8C235.9,269.9 242.3,273.6 248.5,277.4C254.7,281.3 260.8,285.5 266.6,290C272.5,294.5 278.1,299.2 283.5,304.3C288.8,309.3 293.8,314.8 298.5,320.4C303.3,326 307.8,331.8 311.9,337.9C316,344 319.7,350.4 323.1,356.9C326.5,363.4 329.5,370.2 332.6,376.9C335.6,383.6 338.3,390.4 341.2,397.2C344.1,403.9 347,410.7 349.8,417.5C352.6,424.2 355.3,431 358.2,437.8C361.1,444.6 365.5,454.6 367,458" fill="none" stroke="#f8bca8" stroke-width="0.9" opacity="0.7"/>
<path d="M146.1,241.4C149.8,242 160.8,243.9 168.1,245.3C175.5,246.8 182.8,248.3 190.1,250C197.3,251.8 204.6,253.6 211.7,255.9C218.8,258.1 225.9,260.4 232.7,263.4C239.6,266.3 246.2,269.9 252.6,273.7C259,277.5 265.2,281.7 271.2,286.2C277.2,290.7 283,295.5 288.4,300.6C293.8,305.8 298.9,311.4 303.7,317.1C308.5,322.8 313,328.8 317.1,335.1C321.2,341.3 324.8,347.9 328.3,354.5C331.8,361.1 334.8,368 337.8,374.8C340.8,381.7 343.5,388.7 346.3,395.6C349.1,402.5 351.9,409.5 354.6,416.4C357.4,423.4 359.9,430.4 362.7,437.3C365.5,444.2 369.9,454.5 371.3,458" fill="none" stroke="#de735c" stroke-width="1.8" opacity="0.6"/>
<path d="M147.6,239.2C151.4,239.8 162.7,241.6 170.2,242.9C177.6,244.3 185.1,245.7 192.5,247.3C199.9,249 207.4,250.7 214.6,252.8C221.9,254.9 229.3,257 236.3,259.9C243.3,262.8 250.1,266.2 256.7,269.9C263.3,273.7 269.7,278 275.8,282.5C281.9,287 287.8,291.8 293.3,297C298.8,302.2 304,307.9 308.8,313.8C313.6,319.7 318.1,325.8 322.2,332.2C326.4,338.6 330,345.3 333.5,352.1C337,358.8 340.1,365.8 343.1,372.8C346,379.8 348.6,386.9 351.4,394C354.1,401.1 356.8,408.2 359.5,415.4C362.1,422.5 364.5,429.7 367.2,436.8C369.9,443.9 374.2,454.5 375.6,458" fill="none" stroke="#f8bca8" stroke-width="0.9" opacity="0.7"/>
<path d="M149.2,237.1C153,237.6 164.5,239.3 172.2,240.5C179.8,241.8 187.4,243 195,244.6C202.6,246.1 210.1,247.8 217.6,249.8C225.1,251.8 232.6,253.7 239.8,256.4C247,259.2 254,262.5 260.8,266.2C267.6,269.9 274.1,274.2 280.3,278.7C286.6,283.3 292.7,288.1 298.3,293.4C303.9,298.7 309.1,304.5 313.9,310.5C318.8,316.5 323.3,322.8 327.4,329.4C331.5,335.9 335.2,342.7 338.7,349.6C342.2,356.5 345.3,363.6 348.3,370.8C351.3,377.9 353.8,385.2 356.5,392.5C359.2,399.7 361.8,407 364.3,414.3C366.9,421.6 369.2,429 371.7,436.3C374.3,443.6 378.5,454.4 379.9,458" fill="none" stroke="#de735c" stroke-width="1.8" opacity="0.6"/>
<path d="M139,251C144.5,252.5 160.2,256 172,260C183.8,264 197.3,268.2 210,275C222.7,281.8 237,292.3 248,301C259,309.7 267.3,317.7 276,327C284.7,336.3 292.3,344.8 300,357C307.7,369.2 315.3,387 322,400C328.7,413 335,425.3 340,435C345,444.7 350,454.2 352,458" fill="none" stroke="#d96a53" stroke-width="2.2" opacity="0.6"/>
<path d="M511,135C504.2,138.5 482.7,149.2 470,156C457.3,162.8 447,168.8 435,175.5C423,182.2 412.2,187.6 398,196C383.8,204.4 366.3,220 350,226C333.7,232 316.7,231.3 300,232C283.3,232.7 266.7,231 250,230C233.3,229 216.7,225.7 200,226C183.3,226.3 160.5,228.3 150,232C139.5,235.7 139.2,245.3 137,248L145,252C152.5,250.3 174.2,242.3 190,242C205.8,241.7 222.5,246.7 240,250C257.5,253.3 277.5,259 295,262C312.5,265 329.2,268.7 345,268C360.8,267.3 376.8,263.3 390,258C403.2,252.7 413.2,244.7 424,236C434.8,227.3 444,216 455,206C466,196 478.8,185 490,176C501.2,167 516.7,156 522,152Z" fill="#f0917a"/>
<path d="M511.5,135.8C507.5,137.9 495.3,144 487.3,148.3C479.3,152.5 471.3,156.8 463.4,161.2C455.4,165.6 447.6,170.2 439.8,174.7C431.9,179.2 423.9,183.5 416.1,188C408.2,192.6 400.3,197.1 392.7,202C385.1,206.9 378.1,213 370.3,217.5C362.6,222.1 354.5,226.7 346,229.3C337.4,231.9 328.1,232.4 319,233.1C310,233.8 300.9,233.8 291.8,233.6C282.8,233.5 273.7,232.8 264.6,232.2C255.6,231.6 246.6,230.8 237.5,229.9C228.5,229.1 219.5,227.5 210.4,227.1C201.4,226.7 192.3,226.9 183.3,227.6C174.2,228.2 163.9,227.7 156.3,231.1C148.6,234.5 140.5,245.3 137.4,248.2" fill="none" stroke="#de735c" stroke-width="1.8" opacity="0.5"/>
<path d="M512.5,137.3C508.5,139.5 496.4,145.8 488.5,150.2C480.5,154.6 472.6,159 464.7,163.5C456.9,168.1 449.1,172.9 441.4,177.6C433.6,182.2 425.8,186.8 418,191.5C410.3,196.2 402.5,200.9 394.9,205.9C387.3,210.8 380.2,216.8 372.4,221.3C364.5,225.8 356.4,230.3 347.8,232.8C339.2,235.3 329.8,235.8 320.8,236.4C311.7,237 302.6,236.8 293.5,236.6C284.4,236.3 275.4,235.5 266.3,234.8C257.2,234.1 248.2,233.1 239.2,232.1C230.1,231.2 221.1,229.6 212,229.1C203,228.5 193.9,228.4 184.8,229C175.8,229.5 165.6,229.1 157.8,232.4C150,235.6 141.4,245.9 138.1,248.5" fill="none" stroke="#f8bca8" stroke-width="0.9" opacity="0.65"/>
<path d="M513.5,138.9C509.5,141.1 497.5,147.6 489.6,152.2C481.7,156.7 473.9,161.2 466.1,165.9C458.3,170.6 450.6,175.6 443,180.4C435.3,185.2 427.6,190.1 420,194.9C412.3,199.8 404.7,204.7 397.1,209.7C389.5,214.8 382.3,220.7 374.4,225.1C366.5,229.5 358.2,233.8 349.6,236.2C340.9,238.7 331.6,239.2 322.5,239.7C313.4,240.3 304.3,239.9 295.2,239.5C286.1,239.1 277,238.3 267.9,237.4C258.9,236.5 249.8,235.4 240.8,234.3C231.7,233.3 222.7,231.6 213.7,231C204.6,230.3 195.5,229.9 186.4,230.4C177.3,230.8 167.2,230.6 159.3,233.7C151.3,236.8 142.2,246.4 138.8,248.9" fill="none" stroke="#de735c" stroke-width="1.8" opacity="0.5"/>
<path d="M514.5,140.4C510.5,142.7 498.6,149.4 490.8,154.1C483,158.7 475.1,163.4 467.4,168.3C459.7,173.2 452.1,178.2 444.6,183.2C437,188.3 429.5,193.3 422,198.4C414.4,203.5 406.8,208.5 399.3,213.6C391.7,218.7 384.4,224.5 376.5,228.9C368.5,233.2 360.1,237.3 351.4,239.7C342.7,242 333.3,242.6 324.2,243.1C315.2,243.5 306,243 296.9,242.5C287.8,242 278.7,241 269.6,240C260.5,239 251.5,237.7 242.4,236.6C233.4,235.4 224.3,233.7 215.3,232.9C206.2,232.1 197.1,231.5 188,231.8C178.9,232.1 168.8,232 160.8,235C152.7,237.9 143.1,246.9 139.5,249.3" fill="none" stroke="#f8bca8" stroke-width="0.9" opacity="0.65"/>
<path d="M515.5,142C511.6,144.3 499.7,151.2 492,156C484.2,160.8 476.4,165.7 468.8,170.7C461.2,175.7 453.6,180.9 446.2,186.1C438.7,191.3 431.4,196.6 423.9,201.8C416.5,207.1 409,212.3 401.4,217.5C393.9,222.6 386.5,228.4 378.5,232.7C370.5,236.9 362,240.8 353.2,243.1C344.5,245.4 335.1,246 326,246.4C316.9,246.8 307.7,246 298.6,245.4C289.4,244.8 280.3,243.7 271.2,242.6C262.2,241.5 253.1,240.1 244.1,238.8C235,237.5 226,235.8 216.9,234.8C207.8,233.9 198.6,233 189.5,233.2C180.4,233.4 170.5,233.5 162.3,236.2C154.1,239 143.9,247.4 140.3,249.6" fill="none" stroke="#de735c" stroke-width="1.8" opacity="0.5"/>
<path d="M516.5,143.5C512.6,145.9 500.8,153 493.1,158C485.4,162.9 477.7,167.9 470.2,173.1C462.6,178.2 455.1,183.6 447.8,188.9C440.4,194.3 433.2,199.9 425.9,205.3C418.5,210.7 411.2,216.2 403.6,221.4C396.1,226.5 388.6,232.2 380.6,236.4C372.5,240.6 363.9,244.3 355.1,246.6C346.3,248.8 336.9,249.4 327.7,249.7C318.6,250 309.4,249.1 300.2,248.4C291.1,247.6 282,246.4 272.9,245.2C263.8,243.9 254.8,242.4 245.7,241C236.6,239.6 227.6,237.8 218.5,236.8C209.4,235.7 200.2,234.5 191.1,234.6C182,234.8 172.1,235 163.8,237.5C155.4,240.1 144.8,247.9 141,250" fill="none" stroke="#f8bca8" stroke-width="0.9" opacity="0.65"/>
<path d="M517.5,145C513.6,147.5 501.9,154.8 494.3,159.9C486.6,165 479,170.1 471.5,175.5C464,180.8 456.6,186.2 449.4,191.8C442.1,197.3 435.1,203.2 427.9,208.8C420.6,214.3 413.3,220 405.8,225.2C398.2,230.5 390.8,236.1 382.6,240.2C374.4,244.4 365.7,247.9 356.9,250C348,252.1 338.6,252.8 329.5,253C320.3,253.3 311.1,252.2 301.9,251.3C292.8,250.4 283.6,249.1 274.5,247.8C265.5,246.4 256.4,244.7 247.3,243.2C238.3,241.7 229.2,239.9 220.1,238.7C211,237.5 201.8,236 192.7,236C183.6,236.1 173.8,236.4 165.3,238.8C156.8,241.2 145.6,248.4 141.7,250.4" fill="none" stroke="#de735c" stroke-width="1.8" opacity="0.5"/>
<path d="M518.5,146.6C514.7,149.1 503,156.6 495.4,161.8C487.8,167.1 480.3,172.4 472.9,177.8C465.5,183.3 458.1,188.9 451,194.6C443.8,200.4 437,206.5 429.8,212.2C422.7,218 415.5,223.8 408,229.1C400.4,234.4 392.9,240 384.6,244C376.4,248.1 367.6,251.4 358.7,253.4C349.8,255.5 340.4,256.2 331.2,256.4C322,256.5 312.8,255.3 303.6,254.3C294.4,253.3 285.3,251.8 276.2,250.4C267.1,248.9 258.1,247 249,245.4C239.9,243.8 230.8,241.9 221.7,240.6C212.6,239.3 203.4,237.5 194.3,237.5C185.1,237.4 175.4,237.9 166.8,240.1C158.1,242.3 146.5,249 142.5,250.7" fill="none" stroke="#f8bca8" stroke-width="0.9" opacity="0.65"/>
<path d="M519.5,148.1C515.7,150.7 504.1,158.4 496.6,163.8C489,169.1 481.6,174.6 474.3,180.2C466.9,185.8 459.6,191.6 452.6,197.5C445.5,203.4 438.9,209.7 431.8,215.7C424.7,221.6 417.7,227.6 410.1,233C402.6,238.3 395,243.8 386.7,247.8C378.4,251.8 369.5,254.9 360.5,256.9C351.6,258.9 342.1,259.6 332.9,259.7C323.7,259.7 314.5,258.3 305.3,257.2C296.1,256.1 287,254.6 277.8,253C268.7,251.4 259.7,249.3 250.6,247.6C241.5,245.9 232.4,244 223.3,242.5C214.2,241.1 205,239.1 195.8,238.9C186.7,238.7 177,239.3 168.3,241.4C159.5,243.4 147.4,249.5 143.2,251.1" fill="none" stroke="#de735c" stroke-width="1.8" opacity="0.5"/>
<path d="M520.5,149.7C516.7,152.4 505.2,160.2 497.7,165.7C490.3,171.2 482.9,176.8 475.6,182.6C468.4,188.4 461.1,194.2 454.2,200.3C447.2,206.4 440.7,213 433.8,219.1C426.8,225.2 419.8,231.4 412.3,236.8C404.8,242.2 397.1,247.7 388.7,251.6C380.4,255.5 371.4,258.4 362.3,260.3C353.3,262.2 343.9,263 334.7,263C325.4,263 316.2,261.4 307,260.1C297.8,258.9 288.6,257.3 279.5,255.5C270.4,253.8 261.3,251.7 252.2,249.8C243.1,248 234,246.1 224.9,244.5C215.8,242.9 206.6,240.6 197.4,240.3C188.2,240 178.7,240.8 169.7,242.7C160.8,244.5 148.2,250 143.9,251.5" fill="none" stroke="#f8bca8" stroke-width="0.9" opacity="0.65"/>
<path d="M521.5,151.2C517.7,154 506.3,162 498.9,167.7C491.5,173.3 484.2,179.1 477,185C469.8,190.9 462.6,196.9 455.8,203.2C448.9,209.4 442.6,216.3 435.7,222.6C428.8,228.8 422,235.2 414.5,240.7C407,246.2 399.2,251.5 390.8,255.4C382.4,259.2 373.2,261.9 364.2,263.8C355.1,265.6 345.6,266.5 336.4,266.3C327.1,266.2 317.9,264.5 308.7,263.1C299.4,261.7 290.3,260 281.1,258.1C272,256.3 263,254 253.9,252C244.8,250.1 235.6,248.1 226.5,246.4C217.3,244.7 208.2,242.1 199,241.7C189.8,241.3 180.3,242.3 171.2,243.9C162.2,245.6 149.1,250.5 144.6,251.8" fill="none" stroke="#de735c" stroke-width="1.8" opacity="0.5"/>
<path d="M522,152C516.7,156 501.2,167 490,176C478.8,185 466,196 455,206C444,216 434.8,227.3 424,236C413.2,244.7 403.2,252.7 390,258C376.8,263.3 360.8,267.3 345,268C329.2,268.7 303.3,263 295,262" fill="none" stroke="#d96a53" stroke-width="2" opacity="0.55"/>
<path d="M430.3,298.3C431.3,301.7 434.5,311.8 436.4,318.5C438.3,325.3 440.1,332.1 441.7,338.9C443.2,345.7 444.4,352.7 445.5,359.6C446.6,366.5 447.7,373.5 448.3,380.4C448.8,387.4 449.3,394.5 448.8,401.4C448.3,408.3 446.8,415.2 445.2,422.1C443.7,428.9 440.5,439 439.6,442.3" fill="none" stroke="#ea856e" stroke-width="2.6" opacity="0.8"/>
<path d="M430.3,298.3C431.3,301.7 434.5,311.8 436.4,318.5C438.3,325.3 440.1,332.1 441.7,338.9C443.2,345.7 444.4,352.7 445.5,359.6C446.6,366.5 447.7,373.5 448.3,380.4C448.8,387.4 449.3,394.5 448.8,401.4C448.3,408.3 446.8,415.2 445.2,422.1C443.7,428.9 440.5,439 439.6,442.3" fill="none" stroke="#f8bca8" stroke-width="0.8" opacity="0.7"/>
<path d="M435,295C436,298.3 439.2,308.1 441.1,314.7C443,321.2 444.9,327.8 446.5,334.5C448,341.1 449.3,347.9 450.6,354.6C451.8,361.3 453.1,368.1 453.8,374.8C454.6,381.6 455.3,388.4 455.1,395.1C454.9,401.9 453.8,408.6 452.4,415.3C451,421.9 447.6,431.7 446.7,435" fill="none" stroke="#ea856e" stroke-width="2.6" opacity="0.8"/>
<path d="M435,295C436,298.3 439.2,308.1 441.1,314.7C443,321.2 444.9,327.8 446.5,334.5C448,341.1 449.3,347.9 450.6,354.6C451.8,361.3 453.1,368.1 453.8,374.8C454.6,381.6 455.3,388.4 455.1,395.1C454.9,401.9 453.8,408.6 452.4,415.3C451,421.9 447.6,431.7 446.7,435" fill="none" stroke="#f8bca8" stroke-width="0.8" opacity="0.7"/>
<path d="M439.7,291.7C440.7,294.9 443.8,304.4 445.8,310.8C447.7,317.2 449.6,323.6 451.3,330.1C452.9,336.5 454.3,343.1 455.7,349.6C457,356.1 458.4,362.7 459.4,369.2C460.3,375.7 461.4,382.3 461.4,388.9C461.4,395.4 460.8,402 459.6,408.5C458.3,415 454.7,424.5 453.8,427.7" fill="none" stroke="#ea856e" stroke-width="2.6" opacity="0.8"/>
<path d="M439.7,291.7C440.7,294.9 443.8,304.4 445.8,310.8C447.7,317.2 449.6,323.6 451.3,330.1C452.9,336.5 454.3,343.1 455.7,349.6C457,356.1 458.4,362.7 459.4,369.2C460.3,375.7 461.4,382.3 461.4,388.9C461.4,395.4 460.8,402 459.6,408.5C458.3,415 454.7,424.5 453.8,427.7" fill="none" stroke="#f8bca8" stroke-width="0.8" opacity="0.7"/>
<path d="M444.3,288.3C445.4,291.4 448.5,300.7 450.5,306.9C452.4,313.2 454.4,319.4 456.1,325.7C457.8,331.9 459.3,338.3 460.8,344.6C462.2,350.9 463.8,357.2 464.9,363.6C466.1,369.9 467.4,376.2 467.7,382.6C468,389 467.9,395.4 466.8,401.7C465.6,408 461.9,417.2 460.9,420.3" fill="none" stroke="#ea856e" stroke-width="2.6" opacity="0.8"/>
<path d="M444.3,288.3C445.4,291.4 448.5,300.7 450.5,306.9C452.4,313.2 454.4,319.4 456.1,325.7C457.8,331.9 459.3,338.3 460.8,344.6C462.2,350.9 463.8,357.2 464.9,363.6C466.1,369.9 467.4,376.2 467.7,382.6C468,389 467.9,395.4 466.8,401.7C465.6,408 461.9,417.2 460.9,420.3" fill="none" stroke="#f8bca8" stroke-width="0.8" opacity="0.7"/>
<path d="M449,285C450,288 453.2,297 455.2,303.1C457.1,309.1 459.1,315.2 460.9,321.3C462.7,327.3 464.3,333.5 465.9,339.6C467.5,345.7 469.1,351.8 470.5,358C471.8,364.1 473.4,370.2 474,376.3C474.6,382.5 474.9,388.8 473.9,394.9C472.9,401.1 469,410 468,413" fill="none" stroke="#ea856e" stroke-width="2.6" opacity="0.8"/>
<path d="M449,285C450,288 453.2,297 455.2,303.1C457.1,309.1 459.1,315.2 460.9,321.3C462.7,327.3 464.3,333.5 465.9,339.6C467.5,345.7 469.1,351.8 470.5,358C471.8,364.1 473.4,370.2 474,376.3C474.6,382.5 474.9,388.8 473.9,394.9C472.9,401.1 469,410 468,413" fill="none" stroke="#f8bca8" stroke-width="0.8" opacity="0.7"/>
<path d="M453.7,281.7C454.7,284.6 457.8,293.4 459.8,299.2C461.9,305.1 463.9,310.9 465.7,316.8C467.6,322.7 469.3,328.7 471,334.6C472.7,340.5 474.5,346.4 476,352.3C477.6,358.2 479.4,364.1 480.3,370.1C481.1,376 482,382.2 481.1,388.2C480.2,394.1 476.1,402.8 475.1,405.7" fill="none" stroke="#ea856e" stroke-width="2.6" opacity="0.8"/>
<path d="M453.7,281.7C454.7,284.6 457.8,293.4 459.8,299.2C461.9,305.1 463.9,310.9 465.7,316.8C467.6,322.7 469.3,328.7 471,334.6C472.7,340.5 474.5,346.4 476,352.3C477.6,358.2 479.4,364.1 480.3,370.1C481.1,376 482,382.2 481.1,388.2C480.2,394.1 476.1,402.8 475.1,405.7" fill="none" stroke="#f8bca8" stroke-width="0.8" opacity="0.7"/>
<path d="M458.3,278.3C459.4,281.2 462.5,289.7 464.5,295.4C466.6,301 468.6,306.7 470.5,312.4C472.5,318.1 474.2,323.9 476.1,329.6C477.9,335.3 479.8,341 481.6,346.7C483.3,352.4 485.4,358 486.6,363.8C487.7,369.6 489,375.6 488.3,381.4C487.6,387.1 483.2,395.5 482.2,398.3" fill="none" stroke="#ea856e" stroke-width="2.6" opacity="0.8"/>
<path d="M458.3,278.3C459.4,281.2 462.5,289.7 464.5,295.4C466.6,301 468.6,306.7 470.5,312.4C472.5,318.1 474.2,323.9 476.1,329.6C477.9,335.3 479.8,341 481.6,346.7C483.3,352.4 485.4,358 486.6,363.8C487.7,369.6 489,375.6 488.3,381.4C487.6,387.1 483.2,395.5 482.2,398.3" fill="none" stroke="#f8bca8" stroke-width="0.8" opacity="0.7"/>
<path d="M463,275C464,277.7 467.2,286 469.2,291.5C471.3,297 473.4,302.5 475.3,308C477.3,313.5 479.2,319.1 481.2,324.6C483.2,330.1 485.2,335.6 487.1,341.1C489.1,346.6 491.5,352 492.9,357.5C494.2,363.1 496,369 495.5,374.6C494.9,380.2 490.4,388.3 489.3,391" fill="none" stroke="#ea856e" stroke-width="2.6" opacity="0.8"/>
<path d="M463,275C464,277.7 467.2,286 469.2,291.5C471.3,297 473.4,302.5 475.3,308C477.3,313.5 479.2,319.1 481.2,324.6C483.2,330.1 485.2,335.6 487.1,341.1C489.1,346.6 491.5,352 492.9,357.5C494.2,363.1 496,369 495.5,374.6C494.9,380.2 490.4,388.3 489.3,391" fill="none" stroke="#f8bca8" stroke-width="0.8" opacity="0.7"/>
<path d="M467.7,271.7C468.7,274.3 471.9,282.3 473.9,287.6C476,293 478.1,298.3 480.2,303.6C482.2,308.9 484.2,314.3 486.3,319.6C488.4,324.9 490.6,330.2 492.7,335.5C494.8,340.8 497.5,345.9 499.1,351.3C500.8,356.7 503.1,362.4 502.6,367.8C502.2,373.2 497.5,381 496.4,383.7" fill="none" stroke="#ea856e" stroke-width="2.6" opacity="0.8"/>
<path d="M467.7,271.7C468.7,274.3 471.9,282.3 473.9,287.6C476,293 478.1,298.3 480.2,303.6C482.2,308.9 484.2,314.3 486.3,319.6C488.4,324.9 490.6,330.2 492.7,335.5C494.8,340.8 497.5,345.9 499.1,351.3C500.8,356.7 503.1,362.4 502.6,367.8C502.2,373.2 497.5,381 496.4,383.7" fill="none" stroke="#f8bca8" stroke-width="0.8" opacity="0.7"/>
</g>
<path d="M487,176C484.2,178.3 475.8,184.8 470,190C464.2,195.2 457.3,201.7 452,207C446.7,212.3 442.2,217.8 438,222C433.8,226.2 428.8,230.3 427,232L437,242C438.8,239 444,230 448,224C452,218 456.3,212 461,206C465.7,200 471.2,193.5 476,188C480.8,182.5 487.7,175.5 490,173Z" fill="#d9d6c6"/>
<path d="M487,176C484.2,178.3 475.8,184.8 470,190C464.2,195.2 457.3,201.7 452,207C446.7,212.3 442.2,217.8 438,222C433.8,226.2 428.8,230.3 427,232" fill="none" stroke="#c9553f" stroke-width="1" opacity="0.6"/>
<path d="M17.5,221C17.8,222.8 17.2,228.8 19,232C20.8,235.2 23.3,239.7 28,240C32.7,240.3 39.2,235.7 47,234C54.8,232.3 65.3,230.6 75,230C84.7,229.4 95.7,229 105,230.7C114.3,232.4 124.8,236.8 131,240C137.2,243.2 140.6,248.3 142.5,250L142.5,250C150.4,248.3 172.1,242 190,240C207.9,238 231.7,238.3 250,238C268.3,237.7 283.3,239.7 300,238C316.7,236.3 333.3,235.5 350,228C366.7,220.5 391.7,198.8 400,193L400,193C397,190.5 390,183 382,178C374,173 363.8,167.2 352,163C340.2,158.8 326.2,155.7 311,153C295.8,150.3 277.7,148.2 261,147C244.3,145.8 229.3,145.5 211,146C192.7,146.5 169.5,148 151,150C132.5,152 116.8,153.3 100,158C83.2,162.7 61.7,171.7 50,178C38.3,184.3 35.4,188.8 30,196C24.6,203.2 19.6,216.8 17.5,221Z" fill="#e9846e"/>
<path d="M60,226C66.7,224.6 85,219.6 100,217.6C115,215.6 133.3,214.3 150,214C166.7,213.7 183.3,214.5 200,216C216.7,217.5 233.3,220.7 250,223C266.7,225.3 285,229 300,229.8C315,230.6 333.3,228 340,227.6" fill="none" stroke="#d96a53" stroke-width="1.6" opacity="0.5"/>
<path d="M60,228C66.7,226.8 85,222.5 100,220.8C115,219.1 133.3,218.1 150,218C166.7,217.9 183.3,218.5 200,220C216.7,221.5 233.3,224.8 250,227C266.7,229.2 285,232.8 300,233.4C315,234 333.3,231.2 340,230.8" fill="none" stroke="#f6b09c" stroke-width="1.2" opacity="0.6"/>
<path d="M60,230C66.7,229 85,225.3 100,224C115,222.7 133.3,222 150,222C166.7,222 183.3,222.5 200,224C216.7,225.5 233.3,228.8 250,231C266.7,233.2 285,236.5 300,237C315,237.5 333.3,234.5 340,234" fill="none" stroke="#d96a53" stroke-width="1.4" opacity="0.45"/>
<path d="M60,232C66.7,231.2 85,228.2 100,227.2C115,226.2 133.3,225.9 150,226C166.7,226.1 183.3,226.5 200,228C216.7,229.5 233.3,232.9 250,235C266.7,237.1 285,240.2 300,240.6C315,241 333.3,237.8 340,237.2" fill="none" stroke="#f6b09c" stroke-width="1" opacity="0.6"/>
<path d="M60,234C66.7,233.4 85,231.1 100,230.4C115,229.7 133.3,229.7 150,230C166.7,230.3 183.3,230.5 200,232C216.7,233.5 233.3,237 250,239C266.7,241 285,244 300,244.2C315,244.4 333.3,241 340,240.4" fill="none" stroke="#d96a53" stroke-width="1.2" opacity="0.4"/>
<path d="M17.5,221C19.6,216.8 24.6,203.2 30,196C35.4,188.8 38.3,184.3 50,178C61.7,171.7 83.2,162.7 100,158C116.8,153.3 132.5,152 151,150C169.5,148 192.7,146.5 211,146C229.3,145.5 244.3,145.8 261,147C277.7,148.2 295.8,150.3 311,153C326.2,155.7 340.2,158.8 352,163C363.8,167.2 374,173 382,178C390,183 397,190.5 400,193L400,193C398.3,195 395,201.2 390,205C385,208.8 376.7,212.8 370,216C363.3,219.2 358.3,221.7 350,224C341.7,226.3 331.7,229.7 320,230C308.3,230.3 293.3,227.7 280,226C266.7,224.3 253.3,222.2 240,220C226.7,217.8 213.3,214.6 200,213C186.7,211.4 173.3,210.6 160,210.5C146.7,210.4 134.2,210.6 120,212.5C105.8,214.4 87.2,218.8 75,222C62.8,225.2 54.5,229.5 47,232C39.5,234.5 34.2,236.8 30,237C25.8,237.2 23.3,233.7 22,233Z" fill="url(#gTongue)"/>
<linearGradient id="gRim" gradientUnits="userSpaceOnUse" x1="20" y1="0" x2="250" y2="0"><stop offset="0" stop-color="#f8b8a5" stop-opacity="0.9"/><stop offset="0.6" stop-color="#f8b8a5" stop-opacity="0.8"/><stop offset="1" stop-color="#f8b8a5" stop-opacity="0"/></linearGradient>
<path d="M24,229C27.8,227.8 38.5,225.2 47,222C55.5,218.8 62.8,213.6 75,210C87.2,206.4 105.8,202.4 120,200.5C134.2,198.6 146.7,198.6 160,198.7C173.3,198.8 188.3,199.6 200,201C211.7,202.4 221.7,204.8 230,207C238.3,209.2 246.7,212.8 250,214L250,222C248.3,221.7 248.3,221.5 240,220C231.7,218.5 213.3,214.6 200,213C186.7,211.4 173.3,210.6 160,210.5C146.7,210.4 134.2,210.6 120,212.5C105.8,214.4 87.2,218.8 75,222C62.8,225.2 54.5,229.5 47,232C39.5,234.5 33.8,236.5 30,237C26.2,237.5 25,235.3 24,235Z" fill="url(#gRim)"/>
<path d="M230,210C235.3,209.6 268,215.5 280,217C292,218.5 310.7,221.3 320,221C329.3,220.7 343.3,216.9 350,215C356.7,213.1 364.9,209.4 370,207C375.1,204.6 384,198.9 388,197C392,195.1 399.7,191.9 400,193C400.3,194.1 394,201.9 390,205C386,208.1 375.3,213.5 370,216C364.7,218.5 356.7,222.1 350,224C343.3,225.9 329.3,229.7 320,230C310.7,230.3 290.7,227.3 280,226C269.3,224.7 246.7,222.1 240,220C233.3,217.9 224.7,210.4 230,210Z" fill="#ec6e5e" opacity="0.5"/>
<path d="M330,222C331.7,222.7 354.7,218 365,214C375.3,210 386.2,201.5 392,198C397.8,194.5 400,195 400,193C400,191 395.3,184.8 392,186C388.7,187.2 386.2,196 380,200C373.8,204 363.3,206.3 355,210C346.7,213.7 328.3,221.3 330,222Z" fill="#ee6a5c" opacity="0.6"/>
<clipPath id="cTd"><path d="M17.5,221C19.6,216.8 24.6,203.2 30,196C35.4,188.8 38.3,184.3 50,178C61.7,171.7 83.2,162.7 100,158C116.8,153.3 132.5,152 151,150C169.5,148 192.7,146.5 211,146C229.3,145.5 244.3,145.8 261,147C277.7,148.2 295.8,150.3 311,153C326.2,155.7 340.2,158.8 352,163C363.8,167.2 374,173 382,178C390,183 397,190.5 400,193L400,193C398.3,195 395,201.2 390,205C385,208.8 376.7,212.8 370,216C363.3,219.2 358.3,221.7 350,224C341.7,226.3 331.7,229.7 320,230C308.3,230.3 293.3,227.7 280,226C266.7,224.3 253.3,222.2 240,220C226.7,217.8 213.3,214.6 200,213C186.7,211.4 173.3,210.6 160,210.5C146.7,210.4 134.2,210.6 120,212.5C105.8,214.4 87.2,218.8 75,222C62.8,225.2 54.5,229.5 47,232C39.5,234.5 34.2,236.8 30,237C25.8,237.2 23.3,233.7 22,233Z"/></clipPath>
<path d="M17.5,221C19.6,216.8 24.6,203.2 30,196C35.4,188.8 38.3,184.3 50,178C61.7,171.7 83.2,162.7 100,158C116.8,153.3 132.5,152 151,150C169.5,148 192.7,146.5 211,146C229.3,145.5 244.3,145.8 261,147C277.7,148.2 295.8,150.3 311,153C326.2,155.7 340.2,158.8 352,163C363.8,167.2 374,173 382,178C390,183 397,190.5 400,193" fill="none" stroke="#ea806a" stroke-width="7" opacity="0.45" clip-path="url(#cTd)"/>
<path d="M17.5,221C19.6,216.8 24.6,203.2 30,196C35.4,188.8 38.3,184.3 50,178C61.7,171.7 83.2,162.7 100,158C116.8,153.3 132.5,152 151,150C169.5,148 192.7,146.5 211,146C229.3,145.5 244.3,145.8 261,147C277.7,148.2 295.8,150.3 311,153C326.2,155.7 340.2,158.8 352,163C363.8,167.2 374,173 382,178C390,183 397,190.5 400,193" fill="none" stroke="#c25a48" stroke-width="1.1"/>
<path d="M17.5,221C17.8,222.8 17.2,228.8 19,232C20.8,235.2 23.3,239.7 28,240C32.7,240.3 39.2,235.7 47,234C54.8,232.3 65.3,230.6 75,230C84.7,229.4 95.7,229 105,230.7C114.3,232.4 124.8,236.8 131,240C137.2,243.2 140.6,248.3 142.5,250" fill="none" stroke="#d4705c" stroke-width="0.8"/>
<path d="M515,152C510.8,155.2 499.2,162 490,171C480.8,180 468.8,194.5 460,206C451.2,217.5 442.8,229.3 437,240C431.2,250.7 429.3,258.3 425,270C420.7,281.7 415,296.7 411,310C407,323.3 403.7,336.7 401,350C398.3,363.3 397,377.5 395,390C393,402.5 391.2,414.2 389,425C386.8,435.8 383.2,450 382,455L397,455C398.2,450.3 401.7,437.5 404,427C406.3,416.5 408.7,404.5 411,392C413.3,379.5 415.2,365.3 418,352C420.8,338.7 424,325.3 428,312C432,298.7 437.5,283.7 442,272C446.5,260.3 449.3,252.7 455,242C460.7,231.3 468.5,218.7 476,208C483.5,197.3 492.5,187 500,178C507.5,169 517.5,158 521,154Z" fill="#ec8770"/>
<path d="M516,152.3C512.6,155 501.9,162.6 495.5,168.4C489.2,174.3 483.4,181 477.7,187.6C472.1,194.2 466.7,201 461.5,208C456.3,215 451,222 446.5,229.4C442,236.8 437.8,244.6 434.3,252.5C430.8,260.4 428.3,268.8 425.3,277C422.4,285.2 419.3,293.4 416.6,301.7C413.9,310 411.4,318.3 409.3,326.8C407.1,335.2 405.1,343.7 403.5,352.2C401.8,360.8 400.8,369.5 399.5,378.1C398.1,386.7 396.9,395.3 395.4,403.9C393.9,412.5 392.4,421.1 390.6,429.6C388.8,438.1 385.5,450.8 384.5,455" fill="none" stroke="#dc6f57" stroke-width="1.8" opacity="0.8"/>
<path d="M518,153C514.8,155.9 505,164.2 499,170.3C492.9,176.4 487.3,183 481.7,189.6C476.2,196.2 470.9,203.1 465.9,210.1C460.8,217.1 455.9,224.2 451.5,231.6C447.1,239 443.1,246.7 439.6,254.6C436.1,262.4 433.5,270.7 430.6,278.8C427.6,286.9 424.6,295 421.9,303.2C419.3,311.4 416.9,319.7 414.8,328.1C412.6,336.5 410.7,344.9 409,353.3C407.4,361.8 406.3,370.4 404.9,378.9C403.5,387.4 402.2,396 400.6,404.4C399.1,412.9 397.5,421.4 395.7,429.9C393.8,438.3 390.5,450.8 389.5,455" fill="none" stroke="#f9c3b0" stroke-width="1" opacity="0.8"/>
<path d="M520,153.7C517.1,156.8 508.1,165.9 502.4,172.2C496.7,178.5 491.1,185 485.7,191.7C480.4,198.3 475.1,205.1 470.3,212.1C465.4,219.1 460.7,226.3 456.5,233.7C452.3,241.2 448.4,248.8 445,256.6C441.5,264.4 438.7,272.6 435.8,280.6C432.9,288.6 429.9,296.6 427.3,304.8C424.7,312.9 422.4,321.2 420.3,329.4C418.2,337.7 416.3,346.1 414.6,354.5C412.9,362.8 411.8,371.3 410.3,379.7C408.9,388.2 407.5,396.6 405.9,405C404.3,413.4 402.6,421.8 400.7,430.1C398.8,438.5 395.5,450.9 394.5,455" fill="none" stroke="#dc6f57" stroke-width="1.8" opacity="0.8"/>
<path d="M515,152C510.8,155.2 499.2,162 490,171C480.8,180 468.8,194.5 460,206C451.2,217.5 442.8,229.3 437,240C431.2,250.7 429.3,258.3 425,270C420.7,281.7 415,296.7 411,310C407,323.3 403.7,336.7 401,350C398.3,363.3 397,377.5 395,390C393,402.5 391.2,414.2 389,425C386.8,435.8 383.2,450 382,455" fill="none" stroke="#dc6f57" stroke-width="1.4"/>
<path d="M521,154C517.5,158 507.5,169 500,178C492.5,187 483.5,197.3 476,208C468.5,218.7 460.7,231.3 455,242C449.3,252.7 446.5,260.3 442,272C437.5,283.7 432,298.7 428,312C424,325.3 420.8,338.7 418,352C415.2,365.3 413.3,379.5 411,392C408.7,404.5 406.3,416.5 404,427C401.7,437.5 398.2,450.3 397,455" fill="none" stroke="#cc5a44" stroke-width="1.4"/>
<path d="M522,154C518.8,158.3 509.7,170.7 503,180C496.3,189.3 488.2,199.3 482,210C475.8,220.7 471,233 466,244C461,255 457,264.7 452,276C447,287.3 441.7,299.7 436,312C430.3,324.3 424,337.3 418,350C412,362.7 406,375.5 400,388C394,400.5 387.5,413.8 382,425C376.5,436.2 369.5,450 367,455L384,455C386.5,450.5 393.3,438.5 399,428C404.7,417.5 411.7,404.7 418,392C424.3,379.3 430.8,365.3 437,352C443.2,338.7 449.3,325 455,312C460.7,299 466,286 471,274C476,262 480.5,251.3 485,240C489.5,228.7 493.3,215.7 498,206C502.7,196.3 508,190.3 513,182C518,173.7 525.5,160.3 528,156Z" fill="#ef8d76"/>
<path d="M522.8,154.2C520.2,157.8 512.7,168.4 507.6,175.5C502.6,182.5 497.1,189.3 492.4,196.6C487.7,203.8 483.2,211.3 479.2,219C475.3,226.7 472.2,234.9 468.7,242.8C465.2,250.8 461.8,258.7 458.3,266.7C454.8,274.6 451.4,282.6 447.9,290.6C444.4,298.5 440.9,306.5 437.3,314.4C433.7,322.3 429.9,330.1 426.2,337.9C422.5,345.8 418.8,353.6 415.1,361.5C411.4,369.3 407.7,377.2 403.9,385C400.2,392.9 396.4,400.7 392.5,408.5C388.7,416.2 384.8,424 380.9,431.8C377,439.5 371.1,451.1 369.1,455" fill="none" stroke="#dc6f57" stroke-width="1.8" opacity="0.8"/>
<path d="M524.2,154.8C521.8,158.3 514.7,169.1 509.8,176.2C504.9,183.4 499.5,190.1 495,197.5C490.5,204.8 486.4,212.4 482.7,220.2C478.9,227.9 476,236.1 472.6,244C469.2,252 465.8,259.9 462.3,267.8C458.9,275.8 455.6,283.7 452.1,291.6C448.7,299.5 445.2,307.5 441.6,315.3C438.1,323.2 434.4,331 430.7,338.8C427.1,346.7 423.4,354.5 419.7,362.3C416,370.1 412.4,377.9 408.6,385.7C404.8,393.5 401,401.2 397.1,408.9C393.2,416.7 389.3,424.4 385.4,432C381.4,439.7 375.4,451.2 373.4,455" fill="none" stroke="#f9c3b0" stroke-width="1" opacity="0.8"/>
<path d="M525.8,155.2C523.5,158.9 516.7,169.8 512,177C507.3,184.2 501.9,191 497.6,198.3C493.2,205.7 489.6,213.5 486.1,221.3C482.5,229.1 479.7,237.3 476.4,245.2C473.1,253.1 469.7,261 466.4,268.9C463,276.9 459.7,284.8 456.3,292.7C452.9,300.6 449.5,308.5 446,316.3C442.5,324.1 438.8,331.9 435.2,339.7C431.6,347.5 428,355.3 424.3,363.1C420.7,370.9 417,378.7 413.3,386.4C409.5,394.1 405.6,401.8 401.7,409.4C397.8,417.1 393.8,424.7 389.8,432.3C385.8,439.9 379.7,451.2 377.6,455" fill="none" stroke="#dc6f57" stroke-width="1.8" opacity="0.8"/>
<path d="M527.2,155.8C525.1,159.4 518.7,170.5 514.2,177.8C509.7,185 504.2,191.8 500.1,199.2C496,206.7 492.8,214.6 489.5,222.5C486.2,230.3 483.4,238.5 480.3,246.4C477.1,254.3 473.7,262.2 470.4,270.1C467.1,278 463.8,285.9 460.5,293.7C457.1,301.6 453.8,309.4 450.3,317.3C446.9,325.1 443.3,332.9 439.8,340.6C436.2,348.4 432.6,356.2 429,363.9C425.3,371.6 421.7,379.4 417.9,387.1C414.2,394.7 410.3,402.3 406.3,409.9C402.4,417.5 398.3,425 394.2,432.5C390.2,440.1 383.9,451.3 381.9,455" fill="none" stroke="#f9c3b0" stroke-width="1" opacity="0.8"/>
<path d="M522,154C518.8,158.3 509.7,170.7 503,180C496.3,189.3 488.2,199.3 482,210C475.8,220.7 471,233 466,244C461,255 457,264.7 452,276C447,287.3 441.7,299.7 436,312C430.3,324.3 424,337.3 418,350C412,362.7 406,375.5 400,388C394,400.5 387.5,413.8 382,425C376.5,436.2 369.5,450 367,455" fill="none" stroke="#dc6f57" stroke-width="1.4"/>
<path d="M528,156C525.5,160.3 518,173.7 513,182C508,190.3 502.7,196.3 498,206C493.3,215.7 489.5,228.7 485,240C480.5,251.3 476,262 471,274C466,286 460.7,299 455,312C449.3,325 443.2,338.7 437,352C430.8,365.3 424.3,379.3 418,392C411.7,404.7 404.7,417.5 399,428C393.3,438.5 386.5,450.5 384,455" fill="none" stroke="#cc5a44" stroke-width="1.4"/>
<path d="M511,134C504.2,137.5 482.7,148.2 470,155C457.3,161.8 446.7,168.7 435,174.5C423.3,180.3 405.8,187.4 400,190" fill="none" stroke="#d9735c" stroke-width="1"/>
<path d="M504,131C504.4,128.7 507.1,124.7 509,123C510.9,121.3 515.2,118.9 518,118C520.8,117.1 526.9,116.4 530,116.5C533.1,116.6 538.7,117.7 541,119C543.3,120.3 546.5,123.2 547,126C547.5,128.8 545.5,135.5 545,140C544.5,144.5 543.7,155.2 543,160C542.3,164.8 542.5,174.4 540,176C537.5,177.6 526.3,175.5 524,172C521.7,168.5 524.6,153.2 523,150C521.4,146.8 514.3,149.3 512,148C509.7,146.7 507.1,142.3 506,140C504.9,137.7 503.6,133.3 504,131Z" fill="#dde7ee"/>
<path d="M505.5,130L497,138L509,133.5Z" fill="#e3ecf2"/>
<path d="M507.5,135L500,146L511,138.5Z" fill="#e3ecf2"/>
<path d="M510.5,139L504,151L514,142.5Z" fill="#e3ecf2"/>
<path d="M513.5,142L509,156L517,145.5Z" fill="#e3ecf2"/>
<path d="M517.5,144L514,158L521,147.5Z" fill="#e3ecf2"/>
<path d="M520.5,145L519,160L524,148.5Z" fill="#e3ecf2"/>
<path d="M522.8,168L524.5,184L527.2,168Z" fill="#dde7ee"/>
<path d="M526.3,168L528,193L530.7,168Z" fill="#dde7ee"/>
<path d="M529.8,168L532,186L534.2,168Z" fill="#dde7ee"/>
<path d="M533.3,168L536,196L537.7,168Z" fill="#dde7ee"/>
<path d="M536.8,168L540,186L541.2,168Z" fill="#dde7ee"/>
<path d="M539.8,168L543.5,178L544.2,168Z" fill="#dde7ee"/>
<path d="M512,126C513.7,123.3 519.7,120.7 524,120C528.3,119.3 535,120 538,122C541,124 542.3,128 542,132C541.7,136 539,144.3 536,146C533,147.7 527.7,143.7 524,142C520.3,140.3 516,138.7 514,136C512,133.3 510.3,128.7 512,126Z" fill="#e9f0f5"/>
<clipPath id="cHy"><path d="M351.5,465C350.5,461.9 348.2,464 354,462.5C359.8,461 376.8,457.7 386,456C395.2,454.3 402.7,455 409.4,452.5C416.1,450 419.4,446 426,441C432.6,436 440.5,430 449,422.5C457.5,415 468.6,404.1 477,396C485.4,387.9 494.3,380.5 499.5,374C504.7,367.5 506.1,360.7 508,357C509.9,353.3 509.6,352.7 510.6,352C511.6,351.3 512.8,350.9 514,353C515.2,355.1 518.2,359.4 518,364.4C517.8,369.4 517.8,374.9 512.5,383C507.2,391.1 495.1,404.2 486,413C476.9,421.8 465.8,429.3 458,435.6C450.2,441.9 444.9,446.5 439,450.6C433.1,454.7 427.2,457.1 422.5,460C417.8,462.9 413.9,464.7 410.6,468C407.4,471.3 407.1,477.2 403,480C398.9,482.8 393.2,484.8 386,485C378.8,485.2 365.8,484.3 360,481C354.2,477.7 352.5,468.1 351.5,465Z"/></clipPath>
<path d="M351.5,465C350.5,461.9 348.2,464 354,462.5C359.8,461 376.8,457.7 386,456C395.2,454.3 402.7,455 409.4,452.5C416.1,450 419.4,446 426,441C432.6,436 440.5,430 449,422.5C457.5,415 468.6,404.1 477,396C485.4,387.9 494.3,380.5 499.5,374C504.7,367.5 506.1,360.7 508,357C509.9,353.3 509.6,352.7 510.6,352C511.6,351.3 512.8,350.9 514,353C515.2,355.1 518.2,359.4 518,364.4C517.8,369.4 517.8,374.9 512.5,383C507.2,391.1 495.1,404.2 486,413C476.9,421.8 465.8,429.3 458,435.6C450.2,441.9 444.9,446.5 439,450.6C433.1,454.7 427.2,457.1 422.5,460C417.8,462.9 413.9,464.7 410.6,468C407.4,471.3 407.1,477.2 403,480C398.9,482.8 393.2,484.8 386,485C378.8,485.2 365.8,484.3 360,481C354.2,477.7 352.5,468.1 351.5,465Z" fill="#d5d3c4" stroke="#9a998b" stroke-width="1"/>
<g clip-path="url(#cHy)">
<path d="M420,452C424.2,449 435.8,441.7 445,434C454.2,426.3 465.8,415 475,406C484.2,397 493.8,387.7 500,380C506.2,372.3 510,363.3 512,360" fill="none" stroke="#ecebe2" stroke-width="6" stroke-linecap="round"/>
<path d="M358,470C362.5,469.3 377.2,467.3 385,466C392.8,464.7 401.7,462.7 405,462" fill="none" stroke="#dedcce" stroke-width="8" stroke-linecap="round"/>
<path d="M422.5,462C425.2,460.4 433.1,456.7 439,452.6C444.9,448.5 450.2,443.9 458,437.6C465.8,431.3 476.9,423.8 486,415C495.1,406.2 507.2,393.2 512.5,385C517.8,376.8 517.1,369.2 518,366" fill="none" stroke="#bcb9a9" stroke-width="3"/>
</g>
<clipPath id="cCa"><path d="M523,420C521.7,424.2 518.2,435.3 515,445C511.8,454.7 509.6,469.2 504,478C498.4,486.8 493.7,491.9 481.5,498C469.3,504.1 445.9,508.5 431,514.5C416.1,520.5 403.1,527.1 392,534C380.9,540.9 371.4,549.5 364.5,556C357.6,562.5 352.9,570.2 350.6,573L359,604L537,604L537,604C536.6,597.8 535.4,580.5 534.5,567C533.6,553.5 531.7,539.7 531.7,523C531.7,506.3 534.5,481.9 534.5,467C534.5,452.1 533.6,441.5 531.7,433.7C529.8,425.9 524.5,422.3 523,420Z"/></clipPath>
<path d="M523,420C521.7,424.2 518.2,435.3 515,445C511.8,454.7 509.6,469.2 504,478C498.4,486.8 493.7,491.9 481.5,498C469.3,504.1 445.9,508.5 431,514.5C416.1,520.5 403.1,527.1 392,534C380.9,540.9 371.4,549.5 364.5,556C357.6,562.5 352.9,570.2 350.6,573L359,604L537,604L537,604C536.6,597.8 535.4,580.5 534.5,567C533.6,553.5 531.7,539.7 531.7,523C531.7,506.3 534.5,481.9 534.5,467C534.5,452.1 533.6,441.5 531.7,433.7C529.8,425.9 524.5,422.3 523,420Z" fill="#cfdbe3"/>
<g clip-path="url(#cCa)">
<path d="M427,530L436,553L443,568L449,604L355,604L350,575L380,552Z" fill="#bccbd6"/>
<path d="M427.5,530C430.8,525.7 452,523 460,520C468,517 482.3,510.8 487.6,507.5C492.9,504.2 496.7,500 500,495C503.3,490 509.1,477.3 512,470C514.9,462.7 519.9,440 522,440C524.1,440 527.3,458 528,470C528.7,482 526.7,512.1 527,530C527.3,547.9 540.5,594.1 530,604C519.5,613.9 459.7,608.9 448,604C436.3,599.1 444.2,573.9 442.5,567C440.8,560.1 437,557.4 435,552.5C433,547.6 424.2,534.3 427.5,530Z" fill="#c0cfd9"/>
<path d="M430,533C428.9,535.1 437.7,550.4 440,556C442.3,561.6 445.4,568.6 447,575C448.6,581.4 448.3,600.1 452,604C455.7,607.9 473.7,608.5 475,604C476.3,599.5 465.6,578.5 462,570C458.4,561.5 452.3,544.9 448,540C443.7,535.1 431.1,530.9 430,533Z" fill="#d3dfe7" opacity="0.8"/>
<path d="M352,600C355.3,597.5 364,588.3 372,585C380,581.7 390.3,579.2 400,580C409.7,580.8 422.5,586 430,590C437.5,594 442.5,601.7 445,604" fill="none" stroke="#a5b9c7" stroke-width="6" opacity="0.6"/>
<path d="M524,430C523.3,434 526.9,460.7 527,470C527.1,479.3 524.9,513.3 525,523C525.1,532.7 527.4,558.9 528,567C528.6,575.1 529.8,600.3 531,604C532.2,607.7 539.5,614.4 540,604C540.5,593.6 536.6,517.4 536,500C535.4,482.6 535.2,437 534,430C532.8,423 524.7,426 524,430Z" fill="#9db3c3"/>
<path d="M350,584C352,581 357,571.7 362,566C367,560.3 371.8,556 380,550C388.2,544 400.2,535.7 411,530C421.8,524.3 435.2,519.7 445,516C454.8,512.3 462.9,510.2 470,508C477.1,505.8 484.7,503.8 487.6,503" fill="none" stroke="#d8e3ea" stroke-width="15"/>
<path d="M355,586C357.2,583.7 363.7,576.2 368,572C372.3,567.8 371.4,567.3 381,560.6C390.6,553.9 413,538.8 425.5,532C438,525.2 446.9,523.3 456,520C465.1,516.7 473.2,515.3 480,512C486.8,508.7 494.2,502 497,500" fill="none" stroke="#a3b7c5" stroke-width="1.1"/>
<path d="M427.5,531C428.9,534.7 433.4,546.8 436,553C438.6,559.2 441,559.5 443,568C445,576.5 447.2,598 448,604" fill="none" stroke="#aebfca" stroke-width="1"/>
</g>
<path d="M523,420C521.7,424.2 518.2,435.3 515,445C511.8,454.7 509.6,469.2 504,478C498.4,486.8 493.7,491.9 481.5,498C469.3,504.1 445.9,508.5 431,514.5C416.1,520.5 403.1,527.1 392,534C380.9,540.9 371.4,549.5 364.5,556C357.6,562.5 352.9,570.2 350.6,573" fill="none" stroke="#8ea3b0" stroke-width="1"/>
<path d="M148,336C149,335 155,339.7 160,344C165,348.3 173,356 178,362C183,368 188.3,373.7 190,380C191.7,386.3 190.3,394.7 188,400C185.7,405.3 179,412.8 176,412C173,411.2 172.2,402 170,395C167.8,388 165.7,377.5 163,370C160.3,362.5 156.5,355.7 154,350C151.5,344.3 147,337 148,336Z" fill="#dfe8ee"/>
<path d="M147.5,346L162.4,320.3L143.3,343.1Z" fill="#c9d9e4"/>
<path d="M149.3,350.6L168.2,324L145.3,347.3Z" fill="#e8eff4"/>
<path d="M151,355.1L175.7,326.8L147.3,351.4Z" fill="#c9d9e4"/>
<path d="M152.7,359.5L178.3,334.7L149.4,355.6Z" fill="#e8eff4"/>
<path d="M154.3,363.9L183.5,340.3L151.3,359.7Z" fill="#c9d9e4"/>
<path d="M155.8,368.3L188.6,346.3L153.2,363.7Z" fill="#e8eff4"/>
<path d="M157.3,372.5L189.7,354.6L155.1,367.8Z" fill="#c9d9e4"/>
<path d="M158.5,376.8L195.3,360.6L156.8,371.9Z" fill="#e8eff4"/>
<path d="M159.7,381L198.6,367.9L158.4,376Z" fill="#c9d9e4"/>
<path d="M160.8,385.1L201.5,375.3L159.9,380Z" fill="#e8eff4"/>
<path d="M161.7,389.3L196.8,383.6L161.3,384.1Z" fill="#c9d9e4"/>
<path d="M162.6,393.4L198.4,390.8L162.6,388.2Z" fill="#e8eff4"/>
<path d="M163.4,397.5L196.1,397.7L163.8,392.3Z" fill="#c9d9e4"/>
<path d="M164.1,401.6L200.6,405.4L165,396.5Z" fill="#e8eff4"/>
<path d="M164.8,405.6L198,411.8L166.2,400.6Z" fill="#c9d9e4"/>
<path d="M165.6,409.7L191.3,416.3L167.4,404.8Z" fill="#e8eff4"/>
<path d="M110.6,320C112.1,326.7 112.1,337.2 113,345C113.9,352.8 115.7,359.3 116,367C116.3,374.7 114.7,384.5 115,391C115.3,397.5 114.7,401.6 118,406C121.3,410.4 128.4,413.4 135,417.5C141.6,421.6 151.8,428.7 157.5,430.6C163.2,432.5 166.3,431.2 169,429C171.7,426.8 172.9,423.2 173.5,417.5C174.1,411.8 173.6,402.5 172.5,395C171.4,387.5 169.8,379.3 167,372.5C164.2,365.7 159.1,360.1 155.6,354C152.1,347.9 148.2,341.3 146,336C143.8,330.7 141.8,326.3 142.5,322C143.2,317.7 147.1,313.7 150,310C152.9,306.3 158.2,304.3 160,300C161.8,295.7 162.7,285.7 161,284C159.3,282.3 156,288.7 150,290C144,291.3 133.3,292.8 125,292C116.7,291.2 104.8,285.3 100,285C95.2,284.7 95.3,286.7 96,290C96.7,293.3 101.6,300 104,305C106.4,310 109.1,313.3 110.6,320Z" fill="#dddacb" stroke="#9a998b" stroke-width="1"/>
<path d="M142,322C141.3,317.3 143.3,314.3 146,310C148.7,305.7 155.2,296.8 158,296C160.8,295.2 162.7,300 163,305C163.3,310 162.2,320.5 160,326C157.8,331.5 153,338.7 150,338C147,337.3 142.7,326.7 142,322Z" fill="#c9c6b6"/>
<path d="M121,318C122.7,312.8 126.8,313.3 130,314C133.2,314.7 136.3,316.8 140,322C143.7,327.2 148,336.7 152,345C156,353.3 161,363.2 164,372C167,380.8 169.7,391.3 170,398C170.3,404.7 169.3,409.3 166,412C162.7,414.7 155.5,415.3 150,414C144.5,412.7 137.3,409.7 133,404C128.7,398.3 126.2,389.8 124,380C121.8,370.2 120.5,355.3 120,345C119.5,334.7 119.3,323.2 121,318Z" fill="#e6e4d8"/>
<ellipse cx="159.5" cy="408.4" rx="1.1" ry="1.7" fill="#9f9c88" transform="rotate(40 159.5 408.4)"/>
<ellipse cx="153.5" cy="376.1" rx="0.6" ry="0.5" fill="#9f9c88" transform="rotate(61 153.5 376.1)"/>
<ellipse cx="151.5" cy="374" rx="0.8" ry="1.3" fill="#9f9c88" transform="rotate(50 151.5 374)"/>
<ellipse cx="145.7" cy="366.7" rx="1" ry="1.6" fill="#9f9c88" transform="rotate(117 145.7 366.7)"/>
<ellipse cx="142.1" cy="378.9" rx="1" ry="1.9" fill="#9f9c88" transform="rotate(21 142.1 378.9)"/>
<ellipse cx="141.1" cy="383.7" rx="0.8" ry="0.9" fill="#9f9c88" transform="rotate(17 141.1 383.7)"/>
<ellipse cx="130.9" cy="370.7" rx="0.7" ry="0.8" fill="#9f9c88" transform="rotate(17 130.9 370.7)"/>
<ellipse cx="157.6" cy="406.2" rx="0.6" ry="0.6" fill="#9f9c88" transform="rotate(13 157.6 406.2)"/>
<ellipse cx="154.7" cy="362.3" rx="0.9" ry="0.8" fill="#9f9c88" transform="rotate(161 154.7 362.3)"/>
<ellipse cx="137.8" cy="337.9" rx="0.9" ry="1" fill="#9f9c88" transform="rotate(3 137.8 337.9)"/>
<ellipse cx="156.2" cy="406.8" rx="0.7" ry="0.8" fill="#9f9c88" transform="rotate(25 156.2 406.8)"/>
<ellipse cx="128.8" cy="321" rx="1" ry="1.6" fill="#9f9c88" transform="rotate(48 128.8 321)"/>
<ellipse cx="130.5" cy="360.3" rx="1.1" ry="1.1" fill="#9f9c88" transform="rotate(164 130.5 360.3)"/>
<ellipse cx="135.2" cy="354.5" rx="1.3" ry="1.1" fill="#9f9c88" transform="rotate(151 135.2 354.5)"/>
<ellipse cx="146.7" cy="347.4" rx="0.8" ry="1" fill="#9f9c88" transform="rotate(154 146.7 347.4)"/>
<ellipse cx="133" cy="377.8" rx="1.3" ry="1.4" fill="#9f9c88" transform="rotate(66 133 377.8)"/>
<ellipse cx="130.8" cy="320.9" rx="1.2" ry="1.5" fill="#9f9c88" transform="rotate(19 130.8 320.9)"/>
<ellipse cx="132.7" cy="328.1" rx="0.8" ry="1.2" fill="#9f9c88" transform="rotate(95 132.7 328.1)"/>
<ellipse cx="133.2" cy="376" rx="1" ry="1.9" fill="#9f9c88" transform="rotate(34 133.2 376)"/>
<ellipse cx="143.3" cy="398" rx="0.7" ry="1.4" fill="#9f9c88" transform="rotate(156 143.3 398)"/>
<ellipse cx="127.1" cy="342.5" rx="1.2" ry="2.2" fill="#9f9c88" transform="rotate(50 127.1 342.5)"/>
<ellipse cx="142.4" cy="381.8" rx="1" ry="0.9" fill="#9f9c88" transform="rotate(12 142.4 381.8)"/>
<ellipse cx="122.7" cy="329.3" rx="1.3" ry="1.4" fill="#9f9c88" transform="rotate(180 122.7 329.3)"/>
<ellipse cx="136.1" cy="355.2" rx="1.3" ry="1.8" fill="#9f9c88" transform="rotate(133 136.1 355.2)"/>
<ellipse cx="138.1" cy="335.8" rx="0.7" ry="0.7" fill="#9f9c88" transform="rotate(143 138.1 335.8)"/>
<ellipse cx="147.9" cy="378.8" rx="0.7" ry="0.7" fill="#9f9c88" transform="rotate(52 147.9 378.8)"/>
<ellipse cx="136" cy="387.4" rx="0.9" ry="1" fill="#9f9c88" transform="rotate(11 136 387.4)"/>
<ellipse cx="130.3" cy="335.9" rx="1" ry="1" fill="#9f9c88" transform="rotate(92 130.3 335.9)"/>
<ellipse cx="131.3" cy="332.5" rx="0.8" ry="1.4" fill="#9f9c88" transform="rotate(133 131.3 332.5)"/>
<ellipse cx="132.4" cy="372.6" rx="0.6" ry="0.5" fill="#9f9c88" transform="rotate(91 132.4 372.6)"/>
<ellipse cx="158.3" cy="383.1" rx="0.6" ry="1" fill="#9f9c88" transform="rotate(123 158.3 383.1)"/>
<ellipse cx="127.3" cy="326.1" rx="0.7" ry="0.6" fill="#9f9c88" transform="rotate(115 127.3 326.1)"/>
<ellipse cx="149.2" cy="369.1" rx="1.3" ry="2.1" fill="#9f9c88" transform="rotate(180 149.2 369.1)"/>
<ellipse cx="141.5" cy="331.7" rx="0.9" ry="0.8" fill="#9f9c88" transform="rotate(121 141.5 331.7)"/>
<ellipse cx="157.6" cy="401.1" rx="0.9" ry="1.6" fill="#9f9c88" transform="rotate(127 157.6 401.1)"/>
<ellipse cx="146.4" cy="371.6" rx="0.9" ry="1.3" fill="#9f9c88" transform="rotate(155 146.4 371.6)"/>
<ellipse cx="123.5" cy="326.5" rx="0.7" ry="0.8" fill="#9f9c88" transform="rotate(106 123.5 326.5)"/>
<ellipse cx="143.6" cy="385.5" rx="1.2" ry="1.7" fill="#9f9c88" transform="rotate(112 143.6 385.5)"/>
<ellipse cx="141.3" cy="361.6" rx="1" ry="1.4" fill="#9f9c88" transform="rotate(79 141.3 361.6)"/>
<ellipse cx="142.9" cy="374.1" rx="0.8" ry="1.3" fill="#9f9c88" transform="rotate(127 142.9 374.1)"/>
<ellipse cx="151.6" cy="390.2" rx="1" ry="1.8" fill="#9f9c88" transform="rotate(94 151.6 390.2)"/>
<ellipse cx="141" cy="347.1" rx="0.8" ry="0.8" fill="#9f9c88" transform="rotate(87 141 347.1)"/>
<ellipse cx="143.2" cy="379.4" rx="1.3" ry="1.5" fill="#9f9c88" transform="rotate(170 143.2 379.4)"/>
<ellipse cx="138.4" cy="342.6" rx="1.2" ry="2.1" fill="#9f9c88" transform="rotate(51 138.4 342.6)"/>
<ellipse cx="147.8" cy="399.2" rx="1" ry="1.2" fill="#9f9c88" transform="rotate(34 147.8 399.2)"/>
<ellipse cx="129.2" cy="332.1" rx="1.3" ry="1.1" fill="#9f9c88" transform="rotate(16 129.2 332.1)"/>
<ellipse cx="148.1" cy="405.5" rx="0.7" ry="1" fill="#9f9c88" transform="rotate(70 148.1 405.5)"/>
<ellipse cx="157.1" cy="403.3" rx="0.9" ry="1.3" fill="#9f9c88" transform="rotate(172 157.1 403.3)"/>
<ellipse cx="145.9" cy="348.4" rx="1.3" ry="1.8" fill="#9f9c88" transform="rotate(19 145.9 348.4)"/>
<ellipse cx="144" cy="394.6" rx="1.1" ry="1.7" fill="#9f9c88" transform="rotate(71 144 394.6)"/>
<ellipse cx="137" cy="371.4" rx="1.2" ry="1" fill="#9f9c88" transform="rotate(34 137 371.4)"/>
<ellipse cx="129.6" cy="356.5" rx="1.2" ry="1.3" fill="#9f9c88" transform="rotate(36 129.6 356.5)"/>
<ellipse cx="159.5" cy="391.7" rx="0.7" ry="0.6" fill="#9f9c88" transform="rotate(137 159.5 391.7)"/>
<ellipse cx="153.4" cy="379" rx="1.3" ry="2.1" fill="#9f9c88" transform="rotate(51 153.4 379)"/>
<ellipse cx="143.3" cy="394.1" rx="1.1" ry="1.9" fill="#9f9c88" transform="rotate(136 143.3 394.1)"/>
<ellipse cx="137.6" cy="384.3" rx="0.8" ry="1" fill="#9f9c88" transform="rotate(178 137.6 384.3)"/>
<ellipse cx="151.7" cy="405.2" rx="1.3" ry="1.3" fill="#9f9c88" transform="rotate(179 151.7 405.2)"/>
<ellipse cx="143" cy="401.6" rx="1.3" ry="2.2" fill="#9f9c88" transform="rotate(33 143 401.6)"/>
<ellipse cx="130.8" cy="360.5" rx="1.3" ry="1" fill="#9f9c88" transform="rotate(140 130.8 360.5)"/>
<ellipse cx="153.9" cy="371.2" rx="1.2" ry="2.3" fill="#9f9c88" transform="rotate(118 153.9 371.2)"/>
<ellipse cx="150.2" cy="349.4" rx="0.7" ry="1.2" fill="#9f9c88" transform="rotate(164 150.2 349.4)"/>
<ellipse cx="144.5" cy="403.2" rx="0.8" ry="1" fill="#9f9c88" transform="rotate(22 144.5 403.2)"/>
<ellipse cx="153" cy="408" rx="1.2" ry="1.4" fill="#9f9c88" transform="rotate(4 153 408)"/>
<ellipse cx="125.6" cy="351.4" rx="0.9" ry="1.4" fill="#9f9c88" transform="rotate(70 125.6 351.4)"/>
<ellipse cx="126.6" cy="363.9" rx="1.2" ry="1.1" fill="#9f9c88" transform="rotate(8 126.6 363.9)"/>
<ellipse cx="129.5" cy="335.6" rx="1.2" ry="1.2" fill="#9f9c88" transform="rotate(38 129.5 335.6)"/>
<ellipse cx="158.6" cy="410" rx="1" ry="1.6" fill="#9f9c88" transform="rotate(112 158.6 410)"/>
<ellipse cx="151.6" cy="405.1" rx="1.3" ry="1.2" fill="#9f9c88" transform="rotate(56 151.6 405.1)"/>
<ellipse cx="141.3" cy="359.5" rx="1.2" ry="1.8" fill="#9f9c88" transform="rotate(42 141.3 359.5)"/>
<ellipse cx="151.8" cy="367.1" rx="1" ry="1.2" fill="#9f9c88" transform="rotate(97 151.8 367.1)"/>
<ellipse cx="157.9" cy="405.9" rx="1.1" ry="1.2" fill="#9f9c88" transform="rotate(36 157.9 405.9)"/>
<ellipse cx="152.6" cy="407.2" rx="1" ry="1.1" fill="#9f9c88" transform="rotate(137 152.6 407.2)"/>
<ellipse cx="122" cy="330.3" rx="0.9" ry="1.3" fill="#9f9c88" transform="rotate(11 122 330.3)"/>
<ellipse cx="138.4" cy="366.4" rx="1.2" ry="1.8" fill="#9f9c88" transform="rotate(125 138.4 366.4)"/>
<ellipse cx="125" cy="328.4" rx="1.3" ry="1.8" fill="#9f9c88" transform="rotate(103 125 328.4)"/>
<ellipse cx="134.8" cy="344.2" rx="0.7" ry="0.9" fill="#9f9c88" transform="rotate(121 134.8 344.2)"/>
<ellipse cx="129.9" cy="367.2" rx="0.9" ry="0.8" fill="#9f9c88" transform="rotate(66 129.9 367.2)"/>
<ellipse cx="137.8" cy="331.7" rx="0.6" ry="0.6" fill="#9f9c88" transform="rotate(58 137.8 331.7)"/>
<ellipse cx="126.1" cy="321.1" rx="1.1" ry="1.2" fill="#9f9c88" transform="rotate(127 126.1 321.1)"/>
<ellipse cx="135.9" cy="329.4" rx="0.7" ry="1" fill="#9f9c88" transform="rotate(64 135.9 329.4)"/>
<ellipse cx="151.5" cy="384.6" rx="1.3" ry="1" fill="#9f9c88" transform="rotate(162 151.5 384.6)"/>
<ellipse cx="139.8" cy="357.2" rx="0.7" ry="0.8" fill="#9f9c88" transform="rotate(161 139.8 357.2)"/>
<ellipse cx="133.4" cy="368.1" rx="0.8" ry="1.1" fill="#9f9c88" transform="rotate(150 133.4 368.1)"/>
<ellipse cx="144" cy="397.1" rx="1.2" ry="2" fill="#9f9c88" transform="rotate(46 144 397.1)"/>
<ellipse cx="131.5" cy="348.4" rx="1.3" ry="1.4" fill="#9f9c88" transform="rotate(49 131.5 348.4)"/>
<ellipse cx="143.1" cy="399.9" rx="0.8" ry="1.3" fill="#9f9c88" transform="rotate(66 143.1 399.9)"/>
<ellipse cx="136.4" cy="354.9" rx="1.3" ry="1.9" fill="#9f9c88" transform="rotate(180 136.4 354.9)"/>
<ellipse cx="130.1" cy="331.3" rx="1.1" ry="0.9" fill="#9f9c88" transform="rotate(51 130.1 331.3)"/>
<ellipse cx="138.5" cy="371.3" rx="1.2" ry="1.5" fill="#9f9c88" transform="rotate(180 138.5 371.3)"/>
<ellipse cx="148.9" cy="365.5" rx="1" ry="1.6" fill="#9f9c88" transform="rotate(48 148.9 365.5)"/>
<ellipse cx="147.9" cy="392.3" rx="0.6" ry="1.1" fill="#9f9c88" transform="rotate(157 147.9 392.3)"/>
<ellipse cx="143.4" cy="366.3" rx="0.7" ry="0.7" fill="#9f9c88" transform="rotate(52 143.4 366.3)"/>
<ellipse cx="125.5" cy="335.5" rx="0.8" ry="1.3" fill="#9f9c88" transform="rotate(148 125.5 335.5)"/>
<ellipse cx="138.2" cy="325.6" rx="0.9" ry="1.6" fill="#9f9c88" transform="rotate(83 138.2 325.6)"/>
<ellipse cx="136.2" cy="355.2" rx="0.9" ry="0.9" fill="#9f9c88" transform="rotate(95 136.2 355.2)"/>
<ellipse cx="132.3" cy="321.2" rx="1.2" ry="1.3" fill="#9f9c88" transform="rotate(116 132.3 321.2)"/>
<ellipse cx="133.9" cy="352.4" rx="1.3" ry="2" fill="#9f9c88" transform="rotate(24 133.9 352.4)"/>
<ellipse cx="126.8" cy="366.1" rx="1.3" ry="2.2" fill="#9f9c88" transform="rotate(180 126.8 366.1)"/>
<ellipse cx="158.2" cy="398.8" rx="1.3" ry="1.9" fill="#9f9c88" transform="rotate(48 158.2 398.8)"/>
<ellipse cx="155.6" cy="365.4" rx="1.2" ry="1.3" fill="#9f9c88" transform="rotate(29 155.6 365.4)"/>
<ellipse cx="154" cy="387" rx="1.2" ry="1.6" fill="#9f9c88" transform="rotate(84 154 387)"/>
<ellipse cx="154" cy="399.2" rx="1.2" ry="2" fill="#9f9c88" transform="rotate(103 154 399.2)"/>
<ellipse cx="126.5" cy="338.6" rx="1.2" ry="1.4" fill="#9f9c88" transform="rotate(25 126.5 338.6)"/>
<ellipse cx="127.2" cy="321" rx="1.1" ry="1.7" fill="#9f9c88" transform="rotate(59 127.2 321)"/>
<ellipse cx="147.6" cy="344.6" rx="0.8" ry="0.9" fill="#9f9c88" transform="rotate(103 147.6 344.6)"/>
<ellipse cx="143.6" cy="371.3" rx="0.9" ry="1.8" fill="#9f9c88" transform="rotate(164 143.6 371.3)"/>
<ellipse cx="125" cy="339.2" rx="0.9" ry="1.3" fill="#9f9c88" transform="rotate(29 125 339.2)"/>
<ellipse cx="150.7" cy="375.4" rx="0.8" ry="1" fill="#9f9c88" transform="rotate(12 150.7 375.4)"/>
<ellipse cx="151" cy="388.5" rx="0.6" ry="0.7" fill="#9f9c88" transform="rotate(70 151 388.5)"/>
<ellipse cx="151.7" cy="401.5" rx="1" ry="1.9" fill="#9f9c88" transform="rotate(145 151.7 401.5)"/>
<ellipse cx="140.7" cy="396.2" rx="0.9" ry="1.5" fill="#9f9c88" transform="rotate(140 140.7 396.2)"/>
<ellipse cx="150.9" cy="373.8" rx="0.6" ry="1.2" fill="#9f9c88" transform="rotate(40 150.9 373.8)"/>
<ellipse cx="151.9" cy="354.7" rx="1.2" ry="1.8" fill="#9f9c88" transform="rotate(152 151.9 354.7)"/>
<ellipse cx="137.9" cy="325.3" rx="0.9" ry="1.3" fill="#9f9c88" transform="rotate(153 137.9 325.3)"/>
<ellipse cx="137.3" cy="348.1" rx="1" ry="1.1" fill="#9f9c88" transform="rotate(72 137.3 348.1)"/>
<ellipse cx="151.8" cy="379.7" rx="0.6" ry="1.1" fill="#9f9c88" transform="rotate(149 151.8 379.7)"/>
<ellipse cx="124.5" cy="323.8" rx="1.2" ry="1.5" fill="#9f9c88" transform="rotate(80 124.5 323.8)"/>
<ellipse cx="135.5" cy="387.4" rx="1.3" ry="2.6" fill="#9f9c88" transform="rotate(18 135.5 387.4)"/>
<ellipse cx="141.6" cy="391.8" rx="1.1" ry="1.3" fill="#9f9c88" transform="rotate(62 141.6 391.8)"/>
<ellipse cx="123.6" cy="324.1" rx="1.2" ry="2.3" fill="#9f9c88" transform="rotate(36 123.6 324.1)"/>
<path d="M126,260C126.5,257.7 131.9,252.9 135,252.5C138.1,252.1 143.7,254.7 146.5,257C149.3,259.3 152.3,264.7 154,268C155.7,271.3 156.7,274.6 158,279C159.3,283.4 162.8,293.2 163,297C163.2,300.8 160.8,303.7 159,304C157.2,304.3 153.1,301.1 151,299C148.9,296.9 146.7,292.7 145,290C143.3,287.3 141.9,284.3 140,281C138.1,277.7 134.1,271.1 132,268C129.9,264.9 125.5,262.3 126,260Z" fill="#ffffff" stroke="#6f737a" stroke-width="1"/>
<path d="M140,262C140.4,259.6 144.6,257.6 147,260C149.4,262.4 153.9,272.3 156,278C158.1,283.7 160.7,294.4 161,298C161.3,301.6 159.7,303.2 158,302C156.3,300.8 152.1,293.9 150,290C147.9,286.1 145.5,280.2 144,276C142.5,271.8 139.6,264.4 140,262Z" fill="#dfe2e8"/>
<path d="M108,257C108.5,254.6 112.8,254.3 115,254C117.2,253.7 120.1,253.2 122.5,255C124.9,256.8 128.8,262.6 131,266C133.2,269.4 134.9,273.1 137,278C139.1,282.9 144.3,294.6 145,299C145.7,303.4 143.6,306.6 141.7,307C139.8,307.4 134.5,304.1 132,302C129.5,299.9 127,295.6 125,293C123,290.4 121,287.9 119,284.5C117,281.1 113.7,274.1 112,270C110.3,265.9 107.5,259.4 108,257Z" fill="#ffffff" stroke="#6f737a" stroke-width="1"/>
<path d="M116,268C115.7,265.9 119.6,269.3 122,272C124.4,274.7 129.3,281.5 132,286C134.7,290.5 138.5,299 140,302C141.5,305 142.9,306.3 142,306C141.1,305.7 136.7,303 134,300C131.3,297 126.7,290.8 124,286C121.3,281.2 116.3,270.1 116,268Z" fill="#dfe2e8"/>
<path d="M81,262C80.7,258.6 82.7,256.4 84,255C85.3,253.7 86.8,253 90,253C93.2,253 101.7,253.2 105,255C108.3,256.8 110.3,262 112,265C113.7,268 114.7,270.6 116,275C117.3,279.4 121,290.1 121,294C121,297.9 118.2,300.9 116,301C113.8,301.1 109.2,296.9 106,295C102.8,293.1 98,290.6 95,288C92,285.4 88.1,281.9 86,278C83.9,274.1 81.3,265.4 81,262Z" fill="#ffffff" stroke="#6f737a" stroke-width="1"/>
<path d="M88,278C88.5,277.2 95,280.8 98,282C101,283.2 105,285.7 108,286C111,286.3 116.3,282.5 118,284C119.7,285.5 119.3,293.8 119,296C118.7,298.2 118,299.4 116,299C114,298.6 109.2,294.8 106,293C102.8,291.2 97.7,289.2 95,287C92.3,284.8 87.5,278.8 88,278Z" fill="#dfe2e8"/>
<defs>
<linearGradient id="gPh" x1="0" y1="0" x2="0" y2="1"><stop offset="0" stop-color="#d2604a"/><stop offset="0.5" stop-color="#b5523d"/><stop offset="1" stop-color="#8a4a38"/></linearGradient>
<linearGradient id="gTg" x1="0" y1="0" x2="1" y2="0"><stop offset="0" stop-color="#ec8670"/><stop offset="0.15" stop-color="#f29682"/><stop offset="0.5" stop-color="#f39a86"/><stop offset="0.85" stop-color="#f0917c"/><stop offset="1" stop-color="#e67c66"/></linearGradient>
<radialGradient id="gPal" cx="0.5" cy="0.45" r="0.6"><stop offset="0" stop-color="#f7ad99"/><stop offset="1" stop-color="#f29b85"/></radialGradient>
</defs>
<clipPath id="cFatL"><path d="M763,221.5C761.5,224.3 751,243.7 748,250C745,256.4 736,277.8 733,285C730,292.2 719.5,318.3 718,322L718,322C719.2,324.3 727,339.2 730,345C733,350.8 744,372.7 748,380C752,387.3 767.8,414.2 770,418L779,414C776.8,409.2 769.7,394.8 766,385C762.3,375.2 759.2,365.8 757,355C754.8,344.2 753,333.3 753,320C753,306.7 755.2,290.7 757,275C758.8,259.3 762.8,234.2 764,226Z"/></clipPath>
<path d="M763,221.5C761.5,224.3 751,243.7 748,250C745,256.4 736,277.8 733,285C730,292.2 719.5,318.3 718,322L718,322C719.2,324.3 727,339.2 730,345C733,350.8 744,372.7 748,380C752,387.3 767.8,414.2 770,418L779,414C776.8,409.2 769.7,394.8 766,385C762.3,375.2 759.2,365.8 757,355C754.8,344.2 753,333.3 753,320C753,306.7 755.2,290.7 757,275C758.8,259.3 762.8,234.2 764,226Z" fill="#efbb58" stroke="#e2703f" stroke-width="1.4" stroke-linejoin="round"/>
<g clip-path="url(#cFatL)">
<ellipse cx="728.1" cy="358.6" rx="5.5" ry="4.7" fill="#f9e09c" stroke="#e2a23a" stroke-width="0.9"/>
<ellipse cx="726.8" cy="357" rx="2" ry="1.3" fill="#fbe7b0" opacity="0.8"/>
<ellipse cx="747.2" cy="264.8" rx="5.9" ry="5.1" fill="#f4cc74" stroke="#e2a23a" stroke-width="0.9"/>
<ellipse cx="745.8" cy="263.1" rx="2.2" ry="1.4" fill="#fbe7b0" opacity="0.8"/>
<ellipse cx="767.3" cy="323.5" rx="5.2" ry="4.4" fill="#f5d27c" stroke="#e2a23a" stroke-width="0.9"/>
<ellipse cx="766.1" cy="322" rx="1.9" ry="1.2" fill="#fbe7b0" opacity="0.8"/>
<ellipse cx="732.4" cy="222.6" rx="4.8" ry="4.1" fill="#f4cc74" stroke="#e2a23a" stroke-width="0.9"/>
<ellipse cx="731.3" cy="221.3" rx="1.8" ry="1.1" fill="#fbe7b0" opacity="0.8"/>
<ellipse cx="753.7" cy="235.7" rx="5.9" ry="5.1" fill="#f2c465" stroke="#e2a23a" stroke-width="0.9"/>
<ellipse cx="752.3" cy="234.1" rx="2.2" ry="1.4" fill="#fbe7b0" opacity="0.8"/>
<ellipse cx="732.2" cy="268.1" rx="4" ry="3.4" fill="#f2c465" stroke="#e2a23a" stroke-width="0.9"/>
<ellipse cx="731.2" cy="267" rx="1.5" ry="0.9" fill="#fbe7b0" opacity="0.8"/>
<ellipse cx="778.9" cy="368.3" rx="6.2" ry="5.2" fill="#f7d98a" stroke="#e2a23a" stroke-width="0.9"/>
<ellipse cx="777.4" cy="366.6" rx="2.3" ry="1.4" fill="#fbe7b0" opacity="0.8"/>
<ellipse cx="748.4" cy="244.9" rx="6.4" ry="5.4" fill="#f0bd5a" stroke="#e2a23a" stroke-width="0.9"/>
<ellipse cx="746.9" cy="243.2" rx="2.4" ry="1.5" fill="#fbe7b0" opacity="0.8"/>
<ellipse cx="740.5" cy="252.7" rx="6" ry="5.1" fill="#f2c465" stroke="#e2a23a" stroke-width="0.9"/>
<ellipse cx="739.1" cy="251" rx="2.2" ry="1.4" fill="#fbe7b0" opacity="0.8"/>
<ellipse cx="725.6" cy="405.7" rx="5.1" ry="4.3" fill="#f6d684" stroke="#e2a23a" stroke-width="0.9"/>
<ellipse cx="724.4" cy="404.3" rx="1.9" ry="1.2" fill="#fbe7b0" opacity="0.8"/>
<ellipse cx="751.7" cy="289.9" rx="5.1" ry="4.4" fill="#f0bd5a" stroke="#e2a23a" stroke-width="0.9"/>
<ellipse cx="750.5" cy="288.5" rx="1.9" ry="1.2" fill="#fbe7b0" opacity="0.8"/>
<ellipse cx="732.3" cy="376.5" rx="4.4" ry="3.8" fill="#f6d684" stroke="#e2a23a" stroke-width="0.9"/>
<ellipse cx="731.3" cy="375.3" rx="1.6" ry="1" fill="#fbe7b0" opacity="0.8"/>
<ellipse cx="777.1" cy="399" rx="5.8" ry="5" fill="#f7d98a" stroke="#e2a23a" stroke-width="0.9"/>
<ellipse cx="775.7" cy="397.4" rx="2.2" ry="1.4" fill="#fbe7b0" opacity="0.8"/>
<ellipse cx="764.5" cy="337" rx="5.8" ry="4.9" fill="#f9e09c" stroke="#e2a23a" stroke-width="0.9"/>
<ellipse cx="763.2" cy="335.4" rx="2.1" ry="1.3" fill="#fbe7b0" opacity="0.8"/>
<ellipse cx="725.5" cy="316.3" rx="6" ry="5.1" fill="#f6d684" stroke="#e2a23a" stroke-width="0.9"/>
<ellipse cx="724.1" cy="314.6" rx="2.2" ry="1.4" fill="#fbe7b0" opacity="0.8"/>
<ellipse cx="743" cy="294.3" rx="5.1" ry="4.3" fill="#f5d27c" stroke="#e2a23a" stroke-width="0.9"/>
<ellipse cx="741.8" cy="292.9" rx="1.9" ry="1.2" fill="#fbe7b0" opacity="0.8"/>
<ellipse cx="741.5" cy="419" rx="4.9" ry="4.2" fill="#f9e09c" stroke="#e2a23a" stroke-width="0.9"/>
<ellipse cx="740.4" cy="417.6" rx="1.8" ry="1.1" fill="#fbe7b0" opacity="0.8"/>
<ellipse cx="719.6" cy="240.5" rx="5.7" ry="4.9" fill="#f4cc74" stroke="#e2a23a" stroke-width="0.9"/>
<ellipse cx="718.3" cy="238.9" rx="2.1" ry="1.3" fill="#fbe7b0" opacity="0.8"/>
<ellipse cx="778.6" cy="320.2" rx="5.2" ry="4.4" fill="#f6d684" stroke="#e2a23a" stroke-width="0.9"/>
<ellipse cx="777.4" cy="318.8" rx="1.9" ry="1.2" fill="#fbe7b0" opacity="0.8"/>
<ellipse cx="751.6" cy="370.1" rx="4.5" ry="3.8" fill="#f5d27c" stroke="#e2a23a" stroke-width="0.9"/>
<ellipse cx="750.5" cy="368.9" rx="1.7" ry="1" fill="#fbe7b0" opacity="0.8"/>
<ellipse cx="755.1" cy="332.2" rx="5.5" ry="4.7" fill="#f7d98a" stroke="#e2a23a" stroke-width="0.9"/>
<ellipse cx="753.9" cy="330.7" rx="2" ry="1.3" fill="#fbe7b0" opacity="0.8"/>
<ellipse cx="729" cy="255.7" rx="4.8" ry="4.1" fill="#f4cc74" stroke="#e2a23a" stroke-width="0.9"/>
<ellipse cx="727.9" cy="254.3" rx="1.8" ry="1.1" fill="#fbe7b0" opacity="0.8"/>
<ellipse cx="774.6" cy="290.6" rx="5.4" ry="4.6" fill="#f9e09c" stroke="#e2a23a" stroke-width="0.9"/>
<ellipse cx="773.3" cy="289.1" rx="2" ry="1.3" fill="#fbe7b0" opacity="0.8"/>
<ellipse cx="736.7" cy="242.4" rx="4.1" ry="3.5" fill="#f2c465" stroke="#e2a23a" stroke-width="0.9"/>
<ellipse cx="735.8" cy="241.3" rx="1.5" ry="0.9" fill="#fbe7b0" opacity="0.8"/>
<ellipse cx="767.6" cy="375.8" rx="4.9" ry="4.1" fill="#f9e09c" stroke="#e2a23a" stroke-width="0.9"/>
<ellipse cx="766.5" cy="374.5" rx="1.8" ry="1.1" fill="#fbe7b0" opacity="0.8"/>
<ellipse cx="759.7" cy="355.8" rx="6.2" ry="5.3" fill="#f6d684" stroke="#e2a23a" stroke-width="0.9"/>
<ellipse cx="758.2" cy="354.1" rx="2.3" ry="1.4" fill="#fbe7b0" opacity="0.8"/>
<ellipse cx="776.5" cy="302.6" rx="6.5" ry="5.5" fill="#f7d98a" stroke="#e2a23a" stroke-width="0.9"/>
<ellipse cx="775" cy="300.8" rx="2.4" ry="1.5" fill="#fbe7b0" opacity="0.8"/>
<ellipse cx="776.6" cy="338.9" rx="6.2" ry="5.3" fill="#f6d684" stroke="#e2a23a" stroke-width="0.9"/>
<ellipse cx="775.2" cy="337.2" rx="2.3" ry="1.4" fill="#fbe7b0" opacity="0.8"/>
<ellipse cx="771.4" cy="254.1" rx="4.1" ry="3.5" fill="#f4cc74" stroke="#e2a23a" stroke-width="0.9"/>
<ellipse cx="770.5" cy="253" rx="1.5" ry="0.9" fill="#fbe7b0" opacity="0.8"/>
<ellipse cx="769.1" cy="232.3" rx="4.6" ry="3.9" fill="#f2c465" stroke="#e2a23a" stroke-width="0.9"/>
<ellipse cx="768" cy="231.1" rx="1.7" ry="1.1" fill="#fbe7b0" opacity="0.8"/>
<ellipse cx="735.7" cy="305.1" rx="4.3" ry="3.7" fill="#f6d684" stroke="#e2a23a" stroke-width="0.9"/>
<ellipse cx="734.7" cy="303.9" rx="1.6" ry="1" fill="#fbe7b0" opacity="0.8"/>
<ellipse cx="722.2" cy="288.9" rx="6.2" ry="5.3" fill="#f4cc74" stroke="#e2a23a" stroke-width="0.9"/>
<ellipse cx="720.8" cy="287.2" rx="2.3" ry="1.4" fill="#fbe7b0" opacity="0.8"/>
<ellipse cx="733.4" cy="411.9" rx="5.3" ry="4.5" fill="#f7d98a" stroke="#e2a23a" stroke-width="0.9"/>
<ellipse cx="732.2" cy="410.4" rx="1.9" ry="1.2" fill="#fbe7b0" opacity="0.8"/>
<ellipse cx="762.4" cy="227.6" rx="4.4" ry="3.8" fill="#f2c465" stroke="#e2a23a" stroke-width="0.9"/>
<ellipse cx="761.4" cy="226.4" rx="1.6" ry="1" fill="#fbe7b0" opacity="0.8"/>
<ellipse cx="754.7" cy="306.4" rx="5.4" ry="4.6" fill="#f7d98a" stroke="#e2a23a" stroke-width="0.9"/>
<ellipse cx="753.4" cy="304.9" rx="2" ry="1.2" fill="#fbe7b0" opacity="0.8"/>
<ellipse cx="769.8" cy="283" rx="5.3" ry="4.5" fill="#f2c465" stroke="#e2a23a" stroke-width="0.9"/>
<ellipse cx="768.6" cy="281.5" rx="2" ry="1.2" fill="#fbe7b0" opacity="0.8"/>
<ellipse cx="759.8" cy="410.9" rx="3.9" ry="3.4" fill="#f9e09c" stroke="#e2a23a" stroke-width="0.9"/>
<ellipse cx="758.9" cy="409.8" rx="1.5" ry="0.9" fill="#fbe7b0" opacity="0.8"/>
<ellipse cx="753.6" cy="272.9" rx="4.9" ry="4.2" fill="#f0bd5a" stroke="#e2a23a" stroke-width="0.9"/>
<ellipse cx="752.5" cy="271.6" rx="1.8" ry="1.1" fill="#fbe7b0" opacity="0.8"/>
<ellipse cx="758" cy="247.1" rx="5.3" ry="4.5" fill="#f0bd5a" stroke="#e2a23a" stroke-width="0.9"/>
<ellipse cx="756.8" cy="245.6" rx="2" ry="1.2" fill="#fbe7b0" opacity="0.8"/>
<ellipse cx="737.8" cy="319.8" rx="4.5" ry="3.8" fill="#f7d98a" stroke="#e2a23a" stroke-width="0.9"/>
<ellipse cx="736.7" cy="318.5" rx="1.7" ry="1" fill="#fbe7b0" opacity="0.8"/>
<ellipse cx="761.4" cy="395" rx="5.9" ry="5" fill="#f5d27c" stroke="#e2a23a" stroke-width="0.9"/>
<ellipse cx="760" cy="393.4" rx="2.2" ry="1.4" fill="#fbe7b0" opacity="0.8"/>
<ellipse cx="721.9" cy="373.3" rx="4.3" ry="3.7" fill="#f9e09c" stroke="#e2a23a" stroke-width="0.9"/>
<ellipse cx="720.9" cy="372" rx="1.6" ry="1" fill="#fbe7b0" opacity="0.8"/>
<ellipse cx="737.1" cy="230.3" rx="4.9" ry="4.2" fill="#f2c465" stroke="#e2a23a" stroke-width="0.9"/>
<ellipse cx="736" cy="228.9" rx="1.8" ry="1.1" fill="#fbe7b0" opacity="0.8"/>
<ellipse cx="736.9" cy="400.3" rx="4.7" ry="4" fill="#f5d27c" stroke="#e2a23a" stroke-width="0.9"/>
<ellipse cx="735.8" cy="399.1" rx="1.7" ry="1.1" fill="#fbe7b0" opacity="0.8"/>
<ellipse cx="724" cy="341" rx="5.2" ry="4.4" fill="#f6d684" stroke="#e2a23a" stroke-width="0.9"/>
<ellipse cx="722.8" cy="339.6" rx="1.9" ry="1.2" fill="#fbe7b0" opacity="0.8"/>
<ellipse cx="721.9" cy="383.3" rx="6.4" ry="5.5" fill="#f6d684" stroke="#e2a23a" stroke-width="0.9"/>
<ellipse cx="720.4" cy="381.5" rx="2.4" ry="1.5" fill="#fbe7b0" opacity="0.8"/>
<ellipse cx="739.7" cy="285" rx="6.5" ry="5.5" fill="#f2c465" stroke="#e2a23a" stroke-width="0.9"/>
<ellipse cx="738.2" cy="283.2" rx="2.4" ry="1.5" fill="#fbe7b0" opacity="0.8"/>
<ellipse cx="745" cy="324.5" rx="4.9" ry="4.2" fill="#f7d98a" stroke="#e2a23a" stroke-width="0.9"/>
<ellipse cx="743.9" cy="323.1" rx="1.8" ry="1.1" fill="#fbe7b0" opacity="0.8"/>
<ellipse cx="767.9" cy="365.3" rx="5.1" ry="4.3" fill="#f7d98a" stroke="#e2a23a" stroke-width="0.9"/>
<ellipse cx="766.7" cy="363.9" rx="1.9" ry="1.2" fill="#fbe7b0" opacity="0.8"/>
<ellipse cx="768.3" cy="412.8" rx="6.5" ry="5.5" fill="#f7d98a" stroke="#e2a23a" stroke-width="0.9"/>
<ellipse cx="766.8" cy="411" rx="2.4" ry="1.5" fill="#fbe7b0" opacity="0.8"/>
<ellipse cx="763.3" cy="313.5" rx="4.2" ry="3.6" fill="#f9e09c" stroke="#e2a23a" stroke-width="0.9"/>
<ellipse cx="762.3" cy="312.4" rx="1.5" ry="1" fill="#fbe7b0" opacity="0.8"/>
<ellipse cx="738.5" cy="349" rx="5.7" ry="4.8" fill="#f7d98a" stroke="#e2a23a" stroke-width="0.9"/>
<ellipse cx="737.1" cy="347.5" rx="2.1" ry="1.3" fill="#fbe7b0" opacity="0.8"/>
<ellipse cx="733.5" cy="389.4" rx="4.3" ry="3.7" fill="#f9e09c" stroke="#e2a23a" stroke-width="0.9"/>
<ellipse cx="732.5" cy="388.2" rx="1.6" ry="1" fill="#fbe7b0" opacity="0.8"/>
<ellipse cx="759.6" cy="261.6" rx="5.4" ry="4.6" fill="#f4cc74" stroke="#e2a23a" stroke-width="0.9"/>
<ellipse cx="758.3" cy="260.1" rx="2" ry="1.3" fill="#fbe7b0" opacity="0.8"/>
<ellipse cx="766.3" cy="384.8" rx="5.3" ry="4.5" fill="#f7d98a" stroke="#e2a23a" stroke-width="0.9"/>
<ellipse cx="765.1" cy="383.4" rx="1.9" ry="1.2" fill="#fbe7b0" opacity="0.8"/>
<ellipse cx="721" cy="259.1" rx="4.9" ry="4.2" fill="#f2c465" stroke="#e2a23a" stroke-width="0.9"/>
<ellipse cx="719.9" cy="257.8" rx="1.8" ry="1.1" fill="#fbe7b0" opacity="0.8"/>
<ellipse cx="755" cy="344.8" rx="5.1" ry="4.4" fill="#f5d27c" stroke="#e2a23a" stroke-width="0.9"/>
<ellipse cx="753.8" cy="343.4" rx="1.9" ry="1.2" fill="#fbe7b0" opacity="0.8"/>
<ellipse cx="749.2" cy="356.2" rx="4.4" ry="3.7" fill="#f9e09c" stroke="#e2a23a" stroke-width="0.9"/>
<ellipse cx="748.2" cy="355" rx="1.6" ry="1" fill="#fbe7b0" opacity="0.8"/>
<ellipse cx="768.5" cy="264.3" rx="4" ry="3.4" fill="#f0bd5a" stroke="#e2a23a" stroke-width="0.9"/>
<ellipse cx="767.5" cy="263.2" rx="1.5" ry="0.9" fill="#fbe7b0" opacity="0.8"/>
<ellipse cx="773.3" cy="356.5" rx="4.5" ry="3.8" fill="#f5d27c" stroke="#e2a23a" stroke-width="0.9"/>
<ellipse cx="772.3" cy="355.3" rx="1.6" ry="1" fill="#fbe7b0" opacity="0.8"/>
<ellipse cx="719.6" cy="305.7" rx="5.4" ry="4.6" fill="#f9e09c" stroke="#e2a23a" stroke-width="0.9"/>
<ellipse cx="718.4" cy="304.2" rx="2" ry="1.2" fill="#fbe7b0" opacity="0.8"/>
<ellipse cx="719.6" cy="353.8" rx="4.4" ry="3.8" fill="#f9e09c" stroke="#e2a23a" stroke-width="0.9"/>
<ellipse cx="718.6" cy="352.5" rx="1.6" ry="1" fill="#fbe7b0" opacity="0.8"/>
<ellipse cx="746" cy="229" rx="6" ry="5.1" fill="#f4cc74" stroke="#e2a23a" stroke-width="0.9"/>
<ellipse cx="744.6" cy="227.4" rx="2.2" ry="1.4" fill="#fbe7b0" opacity="0.8"/>
<ellipse cx="753.8" cy="380.9" rx="5.8" ry="4.9" fill="#f7d98a" stroke="#e2a23a" stroke-width="0.9"/>
<ellipse cx="752.4" cy="379.3" rx="2.1" ry="1.3" fill="#fbe7b0" opacity="0.8"/>
<ellipse cx="740.6" cy="385.6" rx="5.2" ry="4.4" fill="#f9e09c" stroke="#e2a23a" stroke-width="0.9"/>
<ellipse cx="739.4" cy="384.2" rx="1.9" ry="1.2" fill="#fbe7b0" opacity="0.8"/>
<ellipse cx="763.8" cy="296.2" rx="4.5" ry="3.9" fill="#f5d27c" stroke="#e2a23a" stroke-width="0.9"/>
<ellipse cx="762.8" cy="295" rx="1.7" ry="1.1" fill="#fbe7b0" opacity="0.8"/>
<ellipse cx="759.6" cy="280.6" rx="4.5" ry="3.8" fill="#f0bd5a" stroke="#e2a23a" stroke-width="0.9"/>
<ellipse cx="758.6" cy="279.3" rx="1.6" ry="1" fill="#fbe7b0" opacity="0.8"/>
<ellipse cx="726.6" cy="233.4" rx="5.7" ry="4.8" fill="#f4cc74" stroke="#e2a23a" stroke-width="0.9"/>
<ellipse cx="725.3" cy="231.9" rx="2.1" ry="1.3" fill="#fbe7b0" opacity="0.8"/>
<ellipse cx="723.2" cy="270" rx="5.4" ry="4.6" fill="#f0bd5a" stroke="#e2a23a" stroke-width="0.9"/>
<ellipse cx="721.9" cy="268.5" rx="2" ry="1.3" fill="#fbe7b0" opacity="0.8"/>
<ellipse cx="721.3" cy="278.9" rx="4.1" ry="3.5" fill="#f2c465" stroke="#e2a23a" stroke-width="0.9"/>
<ellipse cx="720.3" cy="277.7" rx="1.5" ry="1" fill="#fbe7b0" opacity="0.8"/>
<ellipse cx="735.1" cy="339.7" rx="6" ry="5.1" fill="#f6d684" stroke="#e2a23a" stroke-width="0.9"/>
<ellipse cx="733.7" cy="338" rx="2.2" ry="1.4" fill="#fbe7b0" opacity="0.8"/>
<ellipse cx="739.1" cy="264.2" rx="4" ry="3.4" fill="#f4cc74" stroke="#e2a23a" stroke-width="0.9"/>
<ellipse cx="738.2" cy="263.1" rx="1.5" ry="0.9" fill="#fbe7b0" opacity="0.8"/>
<ellipse cx="762.5" cy="270.3" rx="4.7" ry="4" fill="#f2c465" stroke="#e2a23a" stroke-width="0.9"/>
<ellipse cx="761.4" cy="269" rx="1.7" ry="1.1" fill="#fbe7b0" opacity="0.8"/>
<ellipse cx="778.8" cy="238.6" rx="6.4" ry="5.4" fill="#f4cc74" stroke="#e2a23a" stroke-width="0.9"/>
<ellipse cx="777.3" cy="236.8" rx="2.4" ry="1.5" fill="#fbe7b0" opacity="0.8"/>
<ellipse cx="729.4" cy="281.1" rx="5.9" ry="5" fill="#f0bd5a" stroke="#e2a23a" stroke-width="0.9"/>
<ellipse cx="728" cy="279.4" rx="2.2" ry="1.4" fill="#fbe7b0" opacity="0.8"/>
<ellipse cx="727.7" cy="303.4" rx="4.7" ry="4" fill="#f5d27c" stroke="#e2a23a" stroke-width="0.9"/>
<ellipse cx="726.6" cy="302.1" rx="1.7" ry="1.1" fill="#fbe7b0" opacity="0.8"/>
<ellipse cx="725.1" cy="327.6" rx="4" ry="3.4" fill="#f9e09c" stroke="#e2a23a" stroke-width="0.9"/>
<ellipse cx="724.1" cy="326.5" rx="1.5" ry="0.9" fill="#fbe7b0" opacity="0.8"/>
<ellipse cx="747.3" cy="392.2" rx="5.4" ry="4.6" fill="#f5d27c" stroke="#e2a23a" stroke-width="0.9"/>
<ellipse cx="746.1" cy="390.6" rx="2" ry="1.3" fill="#fbe7b0" opacity="0.8"/>
<ellipse cx="742.5" cy="370.8" rx="6.4" ry="5.5" fill="#f9e09c" stroke="#e2a23a" stroke-width="0.9"/>
<ellipse cx="741" cy="369" rx="2.4" ry="1.5" fill="#fbe7b0" opacity="0.8"/>
<ellipse cx="728.3" cy="366.6" rx="4" ry="3.4" fill="#f5d27c" stroke="#e2a23a" stroke-width="0.9"/>
<ellipse cx="727.3" cy="365.5" rx="1.5" ry="0.9" fill="#fbe7b0" opacity="0.8"/>
<ellipse cx="752.6" cy="405.6" rx="4.6" ry="3.9" fill="#f9e09c" stroke="#e2a23a" stroke-width="0.9"/>
<ellipse cx="751.5" cy="404.3" rx="1.7" ry="1.1" fill="#fbe7b0" opacity="0.8"/>
<ellipse cx="727" cy="394.8" rx="5.2" ry="4.5" fill="#f5d27c" stroke="#e2a23a" stroke-width="0.9"/>
<ellipse cx="725.8" cy="393.4" rx="1.9" ry="1.2" fill="#fbe7b0" opacity="0.8"/>
<ellipse cx="755.2" cy="296.6" rx="4.1" ry="3.5" fill="#f6d684" stroke="#e2a23a" stroke-width="0.9"/>
<ellipse cx="754.2" cy="295.4" rx="1.5" ry="0.9" fill="#fbe7b0" opacity="0.8"/>
<ellipse cx="778.3" cy="377.9" rx="4.1" ry="3.5" fill="#f6d684" stroke="#e2a23a" stroke-width="0.9"/>
<ellipse cx="777.4" cy="376.7" rx="1.5" ry="1" fill="#fbe7b0" opacity="0.8"/>
<ellipse cx="772.8" cy="348.2" rx="5.1" ry="4.3" fill="#f5d27c" stroke="#e2a23a" stroke-width="0.9"/>
<ellipse cx="771.7" cy="346.7" rx="1.9" ry="1.2" fill="#fbe7b0" opacity="0.8"/>
<ellipse cx="745.2" cy="333.6" rx="4.3" ry="3.6" fill="#f7d98a" stroke="#e2a23a" stroke-width="0.9"/>
<ellipse cx="744.3" cy="332.4" rx="1.6" ry="1" fill="#fbe7b0" opacity="0.8"/>
<ellipse cx="754.5" cy="316.9" rx="4.7" ry="4" fill="#f9e09c" stroke="#e2a23a" stroke-width="0.9"/>
<ellipse cx="753.4" cy="315.6" rx="1.8" ry="1.1" fill="#fbe7b0" opacity="0.8"/>
<ellipse cx="722" cy="222.7" rx="6.5" ry="5.5" fill="#f4cc74" stroke="#e2a23a" stroke-width="0.9"/>
<ellipse cx="720.5" cy="220.9" rx="2.4" ry="1.5" fill="#fbe7b0" opacity="0.8"/>
<ellipse cx="777.7" cy="248.1" rx="4" ry="3.4" fill="#f0bd5a" stroke="#e2a23a" stroke-width="0.9"/>
<ellipse cx="776.8" cy="247" rx="1.5" ry="0.9" fill="#fbe7b0" opacity="0.8"/>
<ellipse cx="751.1" cy="416" rx="4.3" ry="3.6" fill="#f7d98a" stroke="#e2a23a" stroke-width="0.9"/>
<ellipse cx="750.1" cy="414.8" rx="1.6" ry="1" fill="#fbe7b0" opacity="0.8"/>
<ellipse cx="758.7" cy="364.9" rx="3.9" ry="3.3" fill="#f7d98a" stroke="#e2a23a" stroke-width="0.9"/>
<ellipse cx="757.8" cy="363.8" rx="1.4" ry="0.9" fill="#fbe7b0" opacity="0.8"/>
<ellipse cx="720" cy="363.8" rx="5.1" ry="4.3" fill="#f9e09c" stroke="#e2a23a" stroke-width="0.9"/>
<ellipse cx="718.8" cy="362.4" rx="1.9" ry="1.2" fill="#fbe7b0" opacity="0.8"/>
<ellipse cx="741.9" cy="408.4" rx="4.5" ry="3.9" fill="#f5d27c" stroke="#e2a23a" stroke-width="0.9"/>
<ellipse cx="740.9" cy="407.2" rx="1.7" ry="1" fill="#fbe7b0" opacity="0.8"/>
<ellipse cx="749.8" cy="281" rx="5.6" ry="4.8" fill="#f0bd5a" stroke="#e2a23a" stroke-width="0.9"/>
<ellipse cx="748.5" cy="279.5" rx="2.1" ry="1.3" fill="#fbe7b0" opacity="0.8"/>
<ellipse cx="768.5" cy="246.6" rx="5.6" ry="4.8" fill="#f0bd5a" stroke="#e2a23a" stroke-width="0.9"/>
<ellipse cx="767.2" cy="245" rx="2.1" ry="1.3" fill="#fbe7b0" opacity="0.8"/>
<ellipse cx="775.6" cy="275.6" rx="6" ry="5.1" fill="#f0bd5a" stroke="#e2a23a" stroke-width="0.9"/>
<ellipse cx="774.2" cy="274" rx="2.2" ry="1.4" fill="#fbe7b0" opacity="0.8"/>
<ellipse cx="776.6" cy="408.4" rx="4.1" ry="3.5" fill="#f7d98a" stroke="#e2a23a" stroke-width="0.9"/>
<ellipse cx="775.7" cy="407.3" rx="1.5" ry="0.9" fill="#fbe7b0" opacity="0.8"/>
<ellipse cx="778.7" cy="257.7" rx="5" ry="4.2" fill="#f4cc74" stroke="#e2a23a" stroke-width="0.9"/>
<ellipse cx="777.6" cy="256.3" rx="1.8" ry="1.1" fill="#fbe7b0" opacity="0.8"/>
<ellipse cx="773.6" cy="389.2" rx="5" ry="4.2" fill="#f6d684" stroke="#e2a23a" stroke-width="0.9"/>
<ellipse cx="772.5" cy="387.9" rx="1.8" ry="1.2" fill="#fbe7b0" opacity="0.8"/>
<ellipse cx="775.8" cy="328.5" rx="3.9" ry="3.3" fill="#f5d27c" stroke="#e2a23a" stroke-width="0.9"/>
<ellipse cx="774.9" cy="327.4" rx="1.5" ry="0.9" fill="#fbe7b0" opacity="0.8"/>
<ellipse cx="749.7" cy="254" rx="4.3" ry="3.7" fill="#f0bd5a" stroke="#e2a23a" stroke-width="0.9"/>
<ellipse cx="748.6" cy="252.8" rx="1.6" ry="1" fill="#fbe7b0" opacity="0.8"/>
<ellipse cx="763.1" cy="347.3" rx="5" ry="4.2" fill="#f9e09c" stroke="#e2a23a" stroke-width="0.9"/>
<ellipse cx="761.9" cy="346" rx="1.8" ry="1.1" fill="#fbe7b0" opacity="0.8"/>
<ellipse cx="723.1" cy="414.3" rx="5.7" ry="4.8" fill="#f7d98a" stroke="#e2a23a" stroke-width="0.9"/>
<ellipse cx="721.8" cy="412.7" rx="2.1" ry="1.3" fill="#fbe7b0" opacity="0.8"/>
<ellipse cx="734.8" cy="294.4" rx="4.6" ry="3.9" fill="#f5d27c" stroke="#e2a23a" stroke-width="0.9"/>
<ellipse cx="733.8" cy="293.2" rx="1.7" ry="1.1" fill="#fbe7b0" opacity="0.8"/>
<ellipse cx="744.5" cy="308.5" rx="5.3" ry="4.5" fill="#f9e09c" stroke="#e2a23a" stroke-width="0.9"/>
<ellipse cx="743.3" cy="307" rx="2" ry="1.2" fill="#fbe7b0" opacity="0.8"/>
<ellipse cx="730" cy="243.5" rx="4.3" ry="3.7" fill="#f4cc74" stroke="#e2a23a" stroke-width="0.9"/>
<ellipse cx="729" cy="242.3" rx="1.6" ry="1" fill="#fbe7b0" opacity="0.8"/>
<ellipse cx="761.4" cy="287.5" rx="3.9" ry="3.3" fill="#f4cc74" stroke="#e2a23a" stroke-width="0.9"/>
<ellipse cx="760.5" cy="286.4" rx="1.4" ry="0.9" fill="#fbe7b0" opacity="0.8"/>
<ellipse cx="770.9" cy="314.3" rx="4.5" ry="3.8" fill="#f9e09c" stroke="#e2a23a" stroke-width="0.9"/>
<ellipse cx="769.8" cy="313.1" rx="1.7" ry="1" fill="#fbe7b0" opacity="0.8"/>
<ellipse cx="724.4" cy="249.2" rx="4.8" ry="4.1" fill="#f0bd5a" stroke="#e2a23a" stroke-width="0.9"/>
<ellipse cx="723.3" cy="247.9" rx="1.8" ry="1.1" fill="#fbe7b0" opacity="0.8"/>
<ellipse cx="743.6" cy="360.4" rx="4.1" ry="3.5" fill="#f5d27c" stroke="#e2a23a" stroke-width="0.9"/>
<ellipse cx="742.6" cy="359.2" rx="1.5" ry="1" fill="#fbe7b0" opacity="0.8"/>
<ellipse cx="778.2" cy="418.6" rx="4.6" ry="3.9" fill="#f9e09c" stroke="#e2a23a" stroke-width="0.9"/>
<ellipse cx="777.1" cy="417.3" rx="1.7" ry="1.1" fill="#fbe7b0" opacity="0.8"/>
<ellipse cx="730.2" cy="323.1" rx="3.9" ry="3.4" fill="#f7d98a" stroke="#e2a23a" stroke-width="0.9"/>
<ellipse cx="729.3" cy="322" rx="1.5" ry="0.9" fill="#fbe7b0" opacity="0.8"/>
<ellipse cx="736.4" cy="359.7" rx="3.9" ry="3.3" fill="#f6d684" stroke="#e2a23a" stroke-width="0.9"/>
<ellipse cx="735.5" cy="358.6" rx="1.4" ry="0.9" fill="#fbe7b0" opacity="0.8"/>
<ellipse cx="774.4" cy="222.6" rx="5.5" ry="4.7" fill="#f4cc74" stroke="#e2a23a" stroke-width="0.9"/>
<ellipse cx="773.1" cy="221.1" rx="2" ry="1.3" fill="#fbe7b0" opacity="0.8"/>
<ellipse cx="740.2" cy="272.6" rx="4.9" ry="4.1" fill="#f0bd5a" stroke="#e2a23a" stroke-width="0.9"/>
<ellipse cx="739.1" cy="271.3" rx="1.8" ry="1.1" fill="#fbe7b0" opacity="0.8"/>
<ellipse cx="761.9" cy="303.7" rx="4" ry="3.4" fill="#f5d27c" stroke="#e2a23a" stroke-width="0.9"/>
<ellipse cx="761" cy="302.6" rx="1.5" ry="0.9" fill="#fbe7b0" opacity="0.8"/>
<ellipse cx="763.4" cy="253.1" rx="4" ry="3.4" fill="#f2c465" stroke="#e2a23a" stroke-width="0.9"/>
<ellipse cx="762.5" cy="252" rx="1.5" ry="0.9" fill="#fbe7b0" opacity="0.8"/>
<ellipse cx="756" cy="222.8" rx="4" ry="3.4" fill="#f2c465" stroke="#e2a23a" stroke-width="0.9"/>
<ellipse cx="755" cy="221.7" rx="1.5" ry="0.9" fill="#fbe7b0" opacity="0.8"/>
<ellipse cx="746.3" cy="344" rx="5.3" ry="4.6" fill="#f7d98a" stroke="#e2a23a" stroke-width="0.9"/>
<ellipse cx="745" cy="342.5" rx="2" ry="1.2" fill="#fbe7b0" opacity="0.8"/>
<ellipse cx="759.6" cy="403.5" rx="3.9" ry="3.3" fill="#f5d27c" stroke="#e2a23a" stroke-width="0.9"/>
<ellipse cx="758.7" cy="402.4" rx="1.4" ry="0.9" fill="#fbe7b0" opacity="0.8"/>
<ellipse cx="719.1" cy="394.9" rx="3.9" ry="3.3" fill="#f7d98a" stroke="#e2a23a" stroke-width="0.9"/>
<ellipse cx="718.2" cy="393.8" rx="1.5" ry="0.9" fill="#fbe7b0" opacity="0.8"/>
<ellipse cx="729.6" cy="332.3" rx="4" ry="3.4" fill="#f6d684" stroke="#e2a23a" stroke-width="0.9"/>
<ellipse cx="728.6" cy="331.2" rx="1.5" ry="0.9" fill="#fbe7b0" opacity="0.8"/>
<ellipse cx="718.8" cy="333.9" rx="5" ry="4.2" fill="#f6d684" stroke="#e2a23a" stroke-width="0.9"/>
<ellipse cx="717.7" cy="332.5" rx="1.8" ry="1.1" fill="#fbe7b0" opacity="0.8"/>
<ellipse cx="727.7" cy="348.7" rx="4.5" ry="3.8" fill="#f7d98a" stroke="#e2a23a" stroke-width="0.9"/>
<ellipse cx="726.7" cy="347.5" rx="1.7" ry="1" fill="#fbe7b0" opacity="0.8"/>
<ellipse cx="718.2" cy="322" rx="4.5" ry="3.8" fill="#f5d27c" stroke="#e2a23a" stroke-width="0.9"/>
<ellipse cx="717.2" cy="320.7" rx="1.7" ry="1" fill="#fbe7b0" opacity="0.8"/>
<ellipse cx="735.7" cy="329.4" rx="4" ry="3.4" fill="#f9e09c" stroke="#e2a23a" stroke-width="0.9"/>
<ellipse cx="734.7" cy="328.3" rx="1.5" ry="0.9" fill="#fbe7b0" opacity="0.8"/>
<ellipse cx="768.5" cy="399.7" rx="4" ry="3.4" fill="#f9e09c" stroke="#e2a23a" stroke-width="0.9"/>
<ellipse cx="767.6" cy="398.6" rx="1.5" ry="0.9" fill="#fbe7b0" opacity="0.8"/>
<ellipse cx="730.4" cy="419.1" rx="3.9" ry="3.3" fill="#f9e09c" stroke="#e2a23a" stroke-width="0.9"/>
<ellipse cx="729.5" cy="418" rx="1.5" ry="0.9" fill="#fbe7b0" opacity="0.8"/>
<ellipse cx="752.2" cy="362.8" rx="4.3" ry="3.6" fill="#f6d684" stroke="#e2a23a" stroke-width="0.9"/>
<ellipse cx="751.2" cy="361.6" rx="1.6" ry="1" fill="#fbe7b0" opacity="0.8"/>
<ellipse cx="747.6" cy="300.6" rx="4.1" ry="3.5" fill="#f7d98a" stroke="#e2a23a" stroke-width="0.9"/>
<ellipse cx="746.6" cy="299.4" rx="1.5" ry="1" fill="#fbe7b0" opacity="0.8"/>
<ellipse cx="758.1" cy="417.6" rx="4.2" ry="3.6" fill="#f7d98a" stroke="#e2a23a" stroke-width="0.9"/>
<ellipse cx="757.1" cy="416.5" rx="1.6" ry="1" fill="#fbe7b0" opacity="0.8"/>
<ellipse cx="775.6" cy="265.2" rx="4.5" ry="3.8" fill="#f2c465" stroke="#e2a23a" stroke-width="0.9"/>
<ellipse cx="774.6" cy="264" rx="1.7" ry="1" fill="#fbe7b0" opacity="0.8"/>
</g>
<clipPath id="cFatR"><path d="M1085,221.5C1086.5,224.3 1097,243.7 1100,250C1103,256.4 1112,277.8 1115,285C1118,292.2 1128.5,318.3 1130,322L1130,322C1128.8,324.3 1121,339.2 1118,345C1115,350.8 1104,372.7 1100,380C1096,387.3 1080.2,414.2 1078,418L1069,414C1071.2,409.2 1078.3,394.8 1082,385C1085.7,375.2 1088.8,365.8 1091,355C1093.2,344.2 1095,333.3 1095,320C1095,306.7 1092.8,290.7 1091,275C1089.2,259.3 1085.2,234.2 1084,226Z"/></clipPath>
<path d="M1085,221.5C1086.5,224.3 1097,243.7 1100,250C1103,256.4 1112,277.8 1115,285C1118,292.2 1128.5,318.3 1130,322L1130,322C1128.8,324.3 1121,339.2 1118,345C1115,350.8 1104,372.7 1100,380C1096,387.3 1080.2,414.2 1078,418L1069,414C1071.2,409.2 1078.3,394.8 1082,385C1085.7,375.2 1088.8,365.8 1091,355C1093.2,344.2 1095,333.3 1095,320C1095,306.7 1092.8,290.7 1091,275C1089.2,259.3 1085.2,234.2 1084,226Z" fill="#efbb58" stroke="#e2703f" stroke-width="1.4" stroke-linejoin="round"/>
<g clip-path="url(#cFatR)">
<ellipse cx="1081.6" cy="308.9" rx="5" ry="4.3" fill="#f9e09c" stroke="#e2a23a" stroke-width="0.9"/>
<ellipse cx="1080.5" cy="307.5" rx="1.9" ry="1.2" fill="#fbe7b0" opacity="0.8"/>
<ellipse cx="1127.8" cy="281.9" rx="6.2" ry="5.3" fill="#f4cc74" stroke="#e2a23a" stroke-width="0.9"/>
<ellipse cx="1126.4" cy="280.2" rx="2.3" ry="1.4" fill="#fbe7b0" opacity="0.8"/>
<ellipse cx="1085.4" cy="374.3" rx="6.2" ry="5.3" fill="#f9e09c" stroke="#e2a23a" stroke-width="0.9"/>
<ellipse cx="1084" cy="372.6" rx="2.3" ry="1.4" fill="#fbe7b0" opacity="0.8"/>
<ellipse cx="1083.1" cy="324.4" rx="5.7" ry="4.8" fill="#f7d98a" stroke="#e2a23a" stroke-width="0.9"/>
<ellipse cx="1081.8" cy="322.8" rx="2.1" ry="1.3" fill="#fbe7b0" opacity="0.8"/>
<ellipse cx="1097.4" cy="343.2" rx="6.2" ry="5.3" fill="#f7d98a" stroke="#e2a23a" stroke-width="0.9"/>
<ellipse cx="1095.9" cy="341.5" rx="2.3" ry="1.4" fill="#fbe7b0" opacity="0.8"/>
<ellipse cx="1078.1" cy="395.3" rx="6.3" ry="5.4" fill="#f7d98a" stroke="#e2a23a" stroke-width="0.9"/>
<ellipse cx="1076.6" cy="393.5" rx="2.3" ry="1.5" fill="#fbe7b0" opacity="0.8"/>
<ellipse cx="1077.6" cy="299.8" rx="5.4" ry="4.6" fill="#f6d684" stroke="#e2a23a" stroke-width="0.9"/>
<ellipse cx="1076.3" cy="298.3" rx="2" ry="1.3" fill="#fbe7b0" opacity="0.8"/>
<ellipse cx="1071.9" cy="222.4" rx="4.5" ry="3.8" fill="#f2c465" stroke="#e2a23a" stroke-width="0.9"/>
<ellipse cx="1070.9" cy="221.2" rx="1.7" ry="1" fill="#fbe7b0" opacity="0.8"/>
<ellipse cx="1120.8" cy="414.8" rx="5.2" ry="4.4" fill="#f7d98a" stroke="#e2a23a" stroke-width="0.9"/>
<ellipse cx="1119.6" cy="413.4" rx="1.9" ry="1.2" fill="#fbe7b0" opacity="0.8"/>
<ellipse cx="1102.1" cy="298.3" rx="4.2" ry="3.5" fill="#f5d27c" stroke="#e2a23a" stroke-width="0.9"/>
<ellipse cx="1101.2" cy="297.2" rx="1.5" ry="1" fill="#fbe7b0" opacity="0.8"/>
<ellipse cx="1111.1" cy="409.9" rx="4.5" ry="3.8" fill="#f5d27c" stroke="#e2a23a" stroke-width="0.9"/>
<ellipse cx="1110" cy="408.6" rx="1.6" ry="1" fill="#fbe7b0" opacity="0.8"/>
<ellipse cx="1082.3" cy="242.2" rx="5.8" ry="4.9" fill="#f0bd5a" stroke="#e2a23a" stroke-width="0.9"/>
<ellipse cx="1080.9" cy="240.6" rx="2.1" ry="1.3" fill="#fbe7b0" opacity="0.8"/>
<ellipse cx="1090.3" cy="233.3" rx="5.2" ry="4.4" fill="#f0bd5a" stroke="#e2a23a" stroke-width="0.9"/>
<ellipse cx="1089.1" cy="231.9" rx="1.9" ry="1.2" fill="#fbe7b0" opacity="0.8"/>
<ellipse cx="1111.2" cy="259.6" rx="5.2" ry="4.4" fill="#f4cc74" stroke="#e2a23a" stroke-width="0.9"/>
<ellipse cx="1110" cy="258.2" rx="1.9" ry="1.2" fill="#fbe7b0" opacity="0.8"/>
<ellipse cx="1113.6" cy="272.3" rx="5.6" ry="4.7" fill="#f0bd5a" stroke="#e2a23a" stroke-width="0.9"/>
<ellipse cx="1112.3" cy="270.8" rx="2.1" ry="1.3" fill="#fbe7b0" opacity="0.8"/>
<ellipse cx="1106.5" cy="278.1" rx="4.1" ry="3.5" fill="#f2c465" stroke="#e2a23a" stroke-width="0.9"/>
<ellipse cx="1105.6" cy="276.9" rx="1.5" ry="1" fill="#fbe7b0" opacity="0.8"/>
<ellipse cx="1121.2" cy="289" rx="4.7" ry="4" fill="#f0bd5a" stroke="#e2a23a" stroke-width="0.9"/>
<ellipse cx="1120.2" cy="287.7" rx="1.7" ry="1.1" fill="#fbe7b0" opacity="0.8"/>
<ellipse cx="1092.5" cy="298.5" rx="5.3" ry="4.5" fill="#f7d98a" stroke="#e2a23a" stroke-width="0.9"/>
<ellipse cx="1091.3" cy="297" rx="2" ry="1.2" fill="#fbe7b0" opacity="0.8"/>
<ellipse cx="1069.2" cy="418.5" rx="5.9" ry="5" fill="#f6d684" stroke="#e2a23a" stroke-width="0.9"/>
<ellipse cx="1067.8" cy="416.9" rx="2.2" ry="1.4" fill="#fbe7b0" opacity="0.8"/>
<ellipse cx="1119.9" cy="378.1" rx="5.5" ry="4.6" fill="#f6d684" stroke="#e2a23a" stroke-width="0.9"/>
<ellipse cx="1118.6" cy="376.5" rx="2" ry="1.3" fill="#fbe7b0" opacity="0.8"/>
<ellipse cx="1107.7" cy="356.5" rx="4.6" ry="3.9" fill="#f7d98a" stroke="#e2a23a" stroke-width="0.9"/>
<ellipse cx="1106.6" cy="355.2" rx="1.7" ry="1.1" fill="#fbe7b0" opacity="0.8"/>
<ellipse cx="1093.6" cy="368.3" rx="6.1" ry="5.2" fill="#f5d27c" stroke="#e2a23a" stroke-width="0.9"/>
<ellipse cx="1092.1" cy="366.6" rx="2.3" ry="1.4" fill="#fbe7b0" opacity="0.8"/>
<ellipse cx="1109.1" cy="240.4" rx="5.8" ry="4.9" fill="#f0bd5a" stroke="#e2a23a" stroke-width="0.9"/>
<ellipse cx="1107.8" cy="238.8" rx="2.1" ry="1.3" fill="#fbe7b0" opacity="0.8"/>
<ellipse cx="1092.6" cy="308.6" rx="4.5" ry="3.9" fill="#f6d684" stroke="#e2a23a" stroke-width="0.9"/>
<ellipse cx="1091.6" cy="307.3" rx="1.7" ry="1" fill="#fbe7b0" opacity="0.8"/>
<ellipse cx="1126.4" cy="362.9" rx="5.6" ry="4.8" fill="#f9e09c" stroke="#e2a23a" stroke-width="0.9"/>
<ellipse cx="1125.1" cy="361.4" rx="2.1" ry="1.3" fill="#fbe7b0" opacity="0.8"/>
<ellipse cx="1125.5" cy="252.2" rx="5.5" ry="4.7" fill="#f2c465" stroke="#e2a23a" stroke-width="0.9"/>
<ellipse cx="1124.2" cy="250.7" rx="2" ry="1.3" fill="#fbe7b0" opacity="0.8"/>
<ellipse cx="1113.5" cy="304.2" rx="4.8" ry="4.1" fill="#f9e09c" stroke="#e2a23a" stroke-width="0.9"/>
<ellipse cx="1112.4" cy="302.8" rx="1.8" ry="1.1" fill="#fbe7b0" opacity="0.8"/>
<ellipse cx="1106" cy="333.9" rx="3.9" ry="3.3" fill="#f5d27c" stroke="#e2a23a" stroke-width="0.9"/>
<ellipse cx="1105.1" cy="332.8" rx="1.4" ry="0.9" fill="#fbe7b0" opacity="0.8"/>
<ellipse cx="1073.7" cy="327.4" rx="4.1" ry="3.5" fill="#f9e09c" stroke="#e2a23a" stroke-width="0.9"/>
<ellipse cx="1072.7" cy="326.3" rx="1.5" ry="0.9" fill="#fbe7b0" opacity="0.8"/>
<ellipse cx="1097.3" cy="287.1" rx="5.6" ry="4.7" fill="#f0bd5a" stroke="#e2a23a" stroke-width="0.9"/>
<ellipse cx="1096" cy="285.6" rx="2.1" ry="1.3" fill="#fbe7b0" opacity="0.8"/>
<ellipse cx="1105.6" cy="317.8" rx="5.2" ry="4.4" fill="#f5d27c" stroke="#e2a23a" stroke-width="0.9"/>
<ellipse cx="1104.4" cy="316.3" rx="1.9" ry="1.2" fill="#fbe7b0" opacity="0.8"/>
<ellipse cx="1128.5" cy="313.9" rx="4.2" ry="3.6" fill="#f7d98a" stroke="#e2a23a" stroke-width="0.9"/>
<ellipse cx="1127.5" cy="312.7" rx="1.6" ry="1" fill="#fbe7b0" opacity="0.8"/>
<ellipse cx="1077.4" cy="365.4" rx="5.2" ry="4.4" fill="#f6d684" stroke="#e2a23a" stroke-width="0.9"/>
<ellipse cx="1076.2" cy="364" rx="1.9" ry="1.2" fill="#fbe7b0" opacity="0.8"/>
<ellipse cx="1126.9" cy="301.5" rx="4.6" ry="3.9" fill="#f9e09c" stroke="#e2a23a" stroke-width="0.9"/>
<ellipse cx="1125.8" cy="300.3" rx="1.7" ry="1.1" fill="#fbe7b0" opacity="0.8"/>
<ellipse cx="1120.6" cy="369.5" rx="4.7" ry="4" fill="#f9e09c" stroke="#e2a23a" stroke-width="0.9"/>
<ellipse cx="1119.5" cy="368.2" rx="1.7" ry="1.1" fill="#fbe7b0" opacity="0.8"/>
<ellipse cx="1109.9" cy="398.6" rx="4.6" ry="3.9" fill="#f7d98a" stroke="#e2a23a" stroke-width="0.9"/>
<ellipse cx="1108.8" cy="397.4" rx="1.7" ry="1.1" fill="#fbe7b0" opacity="0.8"/>
<ellipse cx="1089.7" cy="402.4" rx="4.6" ry="3.9" fill="#f9e09c" stroke="#e2a23a" stroke-width="0.9"/>
<ellipse cx="1088.7" cy="401.1" rx="1.7" ry="1.1" fill="#fbe7b0" opacity="0.8"/>
<ellipse cx="1087.8" cy="281.4" rx="4.7" ry="4" fill="#f0bd5a" stroke="#e2a23a" stroke-width="0.9"/>
<ellipse cx="1086.7" cy="280" rx="1.8" ry="1.1" fill="#fbe7b0" opacity="0.8"/>
<ellipse cx="1122.7" cy="231.7" rx="4.6" ry="4" fill="#f4cc74" stroke="#e2a23a" stroke-width="0.9"/>
<ellipse cx="1121.7" cy="230.4" rx="1.7" ry="1.1" fill="#fbe7b0" opacity="0.8"/>
<ellipse cx="1107.3" cy="375.3" rx="4.3" ry="3.7" fill="#f9e09c" stroke="#e2a23a" stroke-width="0.9"/>
<ellipse cx="1106.3" cy="374.1" rx="1.6" ry="1" fill="#fbe7b0" opacity="0.8"/>
<ellipse cx="1073.6" cy="377.3" rx="5.5" ry="4.7" fill="#f5d27c" stroke="#e2a23a" stroke-width="0.9"/>
<ellipse cx="1072.3" cy="375.7" rx="2" ry="1.3" fill="#fbe7b0" opacity="0.8"/>
<ellipse cx="1069.1" cy="394" rx="4.4" ry="3.8" fill="#f7d98a" stroke="#e2a23a" stroke-width="0.9"/>
<ellipse cx="1068.1" cy="392.8" rx="1.6" ry="1" fill="#fbe7b0" opacity="0.8"/>
<ellipse cx="1102.3" cy="404.3" rx="6.4" ry="5.5" fill="#f6d684" stroke="#e2a23a" stroke-width="0.9"/>
<ellipse cx="1100.8" cy="402.5" rx="2.4" ry="1.5" fill="#fbe7b0" opacity="0.8"/>
<ellipse cx="1083.6" cy="292.9" rx="4" ry="3.4" fill="#f6d684" stroke="#e2a23a" stroke-width="0.9"/>
<ellipse cx="1082.7" cy="291.8" rx="1.5" ry="0.9" fill="#fbe7b0" opacity="0.8"/>
<ellipse cx="1078.9" cy="348.2" rx="5.5" ry="4.7" fill="#f7d98a" stroke="#e2a23a" stroke-width="0.9"/>
<ellipse cx="1077.6" cy="346.7" rx="2" ry="1.3" fill="#fbe7b0" opacity="0.8"/>
<ellipse cx="1088.8" cy="347.2" rx="4.3" ry="3.7" fill="#f9e09c" stroke="#e2a23a" stroke-width="0.9"/>
<ellipse cx="1087.8" cy="346" rx="1.6" ry="1" fill="#fbe7b0" opacity="0.8"/>
<ellipse cx="1108.6" cy="325.1" rx="4.3" ry="3.7" fill="#f7d98a" stroke="#e2a23a" stroke-width="0.9"/>
<ellipse cx="1107.6" cy="323.9" rx="1.6" ry="1" fill="#fbe7b0" opacity="0.8"/>
<ellipse cx="1097.5" cy="258.2" rx="4.5" ry="3.8" fill="#f2c465" stroke="#e2a23a" stroke-width="0.9"/>
<ellipse cx="1096.5" cy="257" rx="1.7" ry="1" fill="#fbe7b0" opacity="0.8"/>
<ellipse cx="1123.6" cy="323.9" rx="4.7" ry="4" fill="#f6d684" stroke="#e2a23a" stroke-width="0.9"/>
<ellipse cx="1122.5" cy="322.6" rx="1.8" ry="1.1" fill="#fbe7b0" opacity="0.8"/>
<ellipse cx="1098.7" cy="245.1" rx="4.3" ry="3.7" fill="#f4cc74" stroke="#e2a23a" stroke-width="0.9"/>
<ellipse cx="1097.7" cy="243.9" rx="1.6" ry="1" fill="#fbe7b0" opacity="0.8"/>
<ellipse cx="1104.4" cy="265.3" rx="5.4" ry="4.6" fill="#f2c465" stroke="#e2a23a" stroke-width="0.9"/>
<ellipse cx="1103.1" cy="263.8" rx="2" ry="1.2" fill="#fbe7b0" opacity="0.8"/>
<ellipse cx="1087.7" cy="389.8" rx="5.7" ry="4.9" fill="#f5d27c" stroke="#e2a23a" stroke-width="0.9"/>
<ellipse cx="1086.3" cy="388.2" rx="2.1" ry="1.3" fill="#fbe7b0" opacity="0.8"/>
<ellipse cx="1079" cy="265.5" rx="5.6" ry="4.8" fill="#f2c465" stroke="#e2a23a" stroke-width="0.9"/>
<ellipse cx="1077.7" cy="263.9" rx="2.1" ry="1.3" fill="#fbe7b0" opacity="0.8"/>
<ellipse cx="1122.9" cy="333.4" rx="6.4" ry="5.5" fill="#f5d27c" stroke="#e2a23a" stroke-width="0.9"/>
<ellipse cx="1121.4" cy="331.6" rx="2.4" ry="1.5" fill="#fbe7b0" opacity="0.8"/>
<ellipse cx="1071" cy="234.2" rx="4.3" ry="3.6" fill="#f2c465" stroke="#e2a23a" stroke-width="0.9"/>
<ellipse cx="1070" cy="233" rx="1.6" ry="1" fill="#fbe7b0" opacity="0.8"/>
<ellipse cx="1105.8" cy="385.4" rx="4.5" ry="3.8" fill="#f7d98a" stroke="#e2a23a" stroke-width="0.9"/>
<ellipse cx="1104.8" cy="384.2" rx="1.7" ry="1" fill="#fbe7b0" opacity="0.8"/>
<ellipse cx="1113.7" cy="250.2" rx="6.5" ry="5.5" fill="#f0bd5a" stroke="#e2a23a" stroke-width="0.9"/>
<ellipse cx="1112.2" cy="248.4" rx="2.4" ry="1.5" fill="#fbe7b0" opacity="0.8"/>
<ellipse cx="1122.5" cy="344.8" rx="4.9" ry="4.2" fill="#f5d27c" stroke="#e2a23a" stroke-width="0.9"/>
<ellipse cx="1121.4" cy="343.5" rx="1.8" ry="1.1" fill="#fbe7b0" opacity="0.8"/>
<ellipse cx="1070.5" cy="251.3" rx="5.8" ry="4.9" fill="#f2c465" stroke="#e2a23a" stroke-width="0.9"/>
<ellipse cx="1069.1" cy="249.7" rx="2.1" ry="1.3" fill="#fbe7b0" opacity="0.8"/>
<ellipse cx="1083.8" cy="272.6" rx="4.6" ry="3.9" fill="#f2c465" stroke="#e2a23a" stroke-width="0.9"/>
<ellipse cx="1082.8" cy="271.3" rx="1.7" ry="1.1" fill="#fbe7b0" opacity="0.8"/>
<ellipse cx="1126.3" cy="394.4" rx="4.7" ry="4" fill="#f5d27c" stroke="#e2a23a" stroke-width="0.9"/>
<ellipse cx="1125.2" cy="393.1" rx="1.7" ry="1.1" fill="#fbe7b0" opacity="0.8"/>
<ellipse cx="1090.6" cy="247.8" rx="4.4" ry="3.8" fill="#f4cc74" stroke="#e2a23a" stroke-width="0.9"/>
<ellipse cx="1089.6" cy="246.5" rx="1.6" ry="1" fill="#fbe7b0" opacity="0.8"/>
<ellipse cx="1070.1" cy="285.1" rx="4.6" ry="3.9" fill="#f2c465" stroke="#e2a23a" stroke-width="0.9"/>
<ellipse cx="1069.1" cy="283.8" rx="1.7" ry="1.1" fill="#fbe7b0" opacity="0.8"/>
<ellipse cx="1088.3" cy="357.3" rx="5" ry="4.3" fill="#f6d684" stroke="#e2a23a" stroke-width="0.9"/>
<ellipse cx="1087.1" cy="355.9" rx="1.9" ry="1.2" fill="#fbe7b0" opacity="0.8"/>
<ellipse cx="1125.7" cy="242.8" rx="5.5" ry="4.7" fill="#f4cc74" stroke="#e2a23a" stroke-width="0.9"/>
<ellipse cx="1124.4" cy="241.3" rx="2.1" ry="1.3" fill="#fbe7b0" opacity="0.8"/>
<ellipse cx="1096.2" cy="356.9" rx="3.9" ry="3.3" fill="#f6d684" stroke="#e2a23a" stroke-width="0.9"/>
<ellipse cx="1095.3" cy="355.8" rx="1.4" ry="0.9" fill="#fbe7b0" opacity="0.8"/>
<ellipse cx="1072.8" cy="292.8" rx="4.3" ry="3.6" fill="#f6d684" stroke="#e2a23a" stroke-width="0.9"/>
<ellipse cx="1071.8" cy="291.6" rx="1.6" ry="1" fill="#fbe7b0" opacity="0.8"/>
<ellipse cx="1091.6" cy="329.7" rx="6.5" ry="5.5" fill="#f5d27c" stroke="#e2a23a" stroke-width="0.9"/>
<ellipse cx="1090.1" cy="327.9" rx="2.4" ry="1.5" fill="#fbe7b0" opacity="0.8"/>
<ellipse cx="1082.4" cy="407.7" rx="4.1" ry="3.5" fill="#f9e09c" stroke="#e2a23a" stroke-width="0.9"/>
<ellipse cx="1081.5" cy="406.6" rx="1.5" ry="1" fill="#fbe7b0" opacity="0.8"/>
<ellipse cx="1087.8" cy="259.6" rx="4.3" ry="3.7" fill="#f4cc74" stroke="#e2a23a" stroke-width="0.9"/>
<ellipse cx="1086.8" cy="258.4" rx="1.6" ry="1" fill="#fbe7b0" opacity="0.8"/>
<ellipse cx="1071.2" cy="335.5" rx="4.8" ry="4.1" fill="#f7d98a" stroke="#e2a23a" stroke-width="0.9"/>
<ellipse cx="1070.1" cy="334.2" rx="1.8" ry="1.1" fill="#fbe7b0" opacity="0.8"/>
<ellipse cx="1103.7" cy="223" rx="6.5" ry="5.5" fill="#f0bd5a" stroke="#e2a23a" stroke-width="0.9"/>
<ellipse cx="1102.2" cy="221.2" rx="2.4" ry="1.5" fill="#fbe7b0" opacity="0.8"/>
<ellipse cx="1106.7" cy="308.3" rx="4.9" ry="4.2" fill="#f6d684" stroke="#e2a23a" stroke-width="0.9"/>
<ellipse cx="1105.6" cy="307" rx="1.8" ry="1.1" fill="#fbe7b0" opacity="0.8"/>
<ellipse cx="1081.1" cy="337.2" rx="4.2" ry="3.6" fill="#f9e09c" stroke="#e2a23a" stroke-width="0.9"/>
<ellipse cx="1080.2" cy="336" rx="1.5" ry="1" fill="#fbe7b0" opacity="0.8"/>
<ellipse cx="1070.4" cy="305.4" rx="4.6" ry="3.9" fill="#f5d27c" stroke="#e2a23a" stroke-width="0.9"/>
<ellipse cx="1069.4" cy="304.2" rx="1.7" ry="1.1" fill="#fbe7b0" opacity="0.8"/>
<ellipse cx="1097.8" cy="276.5" rx="4.2" ry="3.6" fill="#f4cc74" stroke="#e2a23a" stroke-width="0.9"/>
<ellipse cx="1096.9" cy="275.4" rx="1.6" ry="1" fill="#fbe7b0" opacity="0.8"/>
<ellipse cx="1072.1" cy="408.7" rx="6.5" ry="5.5" fill="#f5d27c" stroke="#e2a23a" stroke-width="0.9"/>
<ellipse cx="1070.6" cy="407" rx="2.4" ry="1.5" fill="#fbe7b0" opacity="0.8"/>
<ellipse cx="1083.1" cy="228.5" rx="4.2" ry="3.6" fill="#f0bd5a" stroke="#e2a23a" stroke-width="0.9"/>
<ellipse cx="1082.2" cy="227.3" rx="1.5" ry="1" fill="#fbe7b0" opacity="0.8"/>
<ellipse cx="1113.1" cy="389.7" rx="5.9" ry="5" fill="#f9e09c" stroke="#e2a23a" stroke-width="0.9"/>
<ellipse cx="1111.8" cy="388" rx="2.2" ry="1.4" fill="#fbe7b0" opacity="0.8"/>
<ellipse cx="1126.3" cy="263" rx="5.6" ry="4.8" fill="#f2c465" stroke="#e2a23a" stroke-width="0.9"/>
<ellipse cx="1125" cy="261.5" rx="2.1" ry="1.3" fill="#fbe7b0" opacity="0.8"/>
<ellipse cx="1106.1" cy="346.3" rx="4.4" ry="3.8" fill="#f9e09c" stroke="#e2a23a" stroke-width="0.9"/>
<ellipse cx="1105.1" cy="345.1" rx="1.6" ry="1" fill="#fbe7b0" opacity="0.8"/>
<ellipse cx="1114.9" cy="294.3" rx="4.6" ry="4" fill="#f7d98a" stroke="#e2a23a" stroke-width="0.9"/>
<ellipse cx="1113.8" cy="293" rx="1.7" ry="1.1" fill="#fbe7b0" opacity="0.8"/>
<ellipse cx="1092.6" cy="419.4" rx="5.9" ry="5" fill="#f9e09c" stroke="#e2a23a" stroke-width="0.9"/>
<ellipse cx="1091.3" cy="417.7" rx="2.2" ry="1.4" fill="#fbe7b0" opacity="0.8"/>
<ellipse cx="1122" cy="353.9" rx="5.8" ry="4.9" fill="#f5d27c" stroke="#e2a23a" stroke-width="0.9"/>
<ellipse cx="1120.7" cy="352.3" rx="2.1" ry="1.3" fill="#fbe7b0" opacity="0.8"/>
<ellipse cx="1119.8" cy="402.2" rx="5.9" ry="5.1" fill="#f5d27c" stroke="#e2a23a" stroke-width="0.9"/>
<ellipse cx="1118.4" cy="400.6" rx="2.2" ry="1.4" fill="#fbe7b0" opacity="0.8"/>
<ellipse cx="1069.6" cy="273" rx="4.5" ry="3.8" fill="#f0bd5a" stroke="#e2a23a" stroke-width="0.9"/>
<ellipse cx="1068.5" cy="271.8" rx="1.7" ry="1" fill="#fbe7b0" opacity="0.8"/>
<ellipse cx="1071.5" cy="241.9" rx="5.1" ry="4.3" fill="#f0bd5a" stroke="#e2a23a" stroke-width="0.9"/>
<ellipse cx="1070.3" cy="240.5" rx="1.9" ry="1.2" fill="#fbe7b0" opacity="0.8"/>
<ellipse cx="1114.4" cy="224.3" rx="6.4" ry="5.4" fill="#f4cc74" stroke="#e2a23a" stroke-width="0.9"/>
<ellipse cx="1112.9" cy="222.5" rx="2.4" ry="1.5" fill="#fbe7b0" opacity="0.8"/>
<ellipse cx="1108.3" cy="419.4" rx="6.1" ry="5.2" fill="#f7d98a" stroke="#e2a23a" stroke-width="0.9"/>
<ellipse cx="1106.9" cy="417.7" rx="2.3" ry="1.4" fill="#fbe7b0" opacity="0.8"/>
<ellipse cx="1069.1" cy="317.8" rx="5.6" ry="4.8" fill="#f7d98a" stroke="#e2a23a" stroke-width="0.9"/>
<ellipse cx="1067.8" cy="316.3" rx="2.1" ry="1.3" fill="#fbe7b0" opacity="0.8"/>
<ellipse cx="1107.3" cy="287.2" rx="5.1" ry="4.4" fill="#f2c465" stroke="#e2a23a" stroke-width="0.9"/>
<ellipse cx="1106.1" cy="285.8" rx="1.9" ry="1.2" fill="#fbe7b0" opacity="0.8"/>
<ellipse cx="1126.8" cy="384.6" rx="4" ry="3.4" fill="#f7d98a" stroke="#e2a23a" stroke-width="0.9"/>
<ellipse cx="1125.9" cy="383.5" rx="1.5" ry="0.9" fill="#fbe7b0" opacity="0.8"/>
<ellipse cx="1128.9" cy="407.7" rx="4.9" ry="4.2" fill="#f6d684" stroke="#e2a23a" stroke-width="0.9"/>
<ellipse cx="1127.8" cy="406.4" rx="1.8" ry="1.1" fill="#fbe7b0" opacity="0.8"/>
<ellipse cx="1092.7" cy="382.4" rx="4.3" ry="3.7" fill="#f7d98a" stroke="#e2a23a" stroke-width="0.9"/>
<ellipse cx="1091.7" cy="381.2" rx="1.6" ry="1" fill="#fbe7b0" opacity="0.8"/>
<ellipse cx="1080.4" cy="285.4" rx="4.4" ry="3.8" fill="#f0bd5a" stroke="#e2a23a" stroke-width="0.9"/>
<ellipse cx="1079.4" cy="284.1" rx="1.6" ry="1" fill="#fbe7b0" opacity="0.8"/>
<ellipse cx="1101.5" cy="361.9" rx="4.7" ry="4" fill="#f7d98a" stroke="#e2a23a" stroke-width="0.9"/>
<ellipse cx="1100.4" cy="360.6" rx="1.7" ry="1.1" fill="#fbe7b0" opacity="0.8"/>
<ellipse cx="1116.5" cy="281.1" rx="4.2" ry="3.6" fill="#f0bd5a" stroke="#e2a23a" stroke-width="0.9"/>
<ellipse cx="1115.6" cy="279.9" rx="1.6" ry="1" fill="#fbe7b0" opacity="0.8"/>
<ellipse cx="1069.4" cy="385.4" rx="4.8" ry="4" fill="#f5d27c" stroke="#e2a23a" stroke-width="0.9"/>
<ellipse cx="1068.3" cy="384.1" rx="1.8" ry="1.1" fill="#fbe7b0" opacity="0.8"/>
<ellipse cx="1081" cy="251.1" rx="5.1" ry="4.3" fill="#f2c465" stroke="#e2a23a" stroke-width="0.9"/>
<ellipse cx="1079.8" cy="249.7" rx="1.9" ry="1.2" fill="#fbe7b0" opacity="0.8"/>
<ellipse cx="1100.3" cy="233.3" rx="5.2" ry="4.4" fill="#f4cc74" stroke="#e2a23a" stroke-width="0.9"/>
<ellipse cx="1099.1" cy="231.9" rx="1.9" ry="1.2" fill="#fbe7b0" opacity="0.8"/>
<ellipse cx="1120.7" cy="311.8" rx="4" ry="3.4" fill="#f7d98a" stroke="#e2a23a" stroke-width="0.9"/>
<ellipse cx="1119.8" cy="310.7" rx="1.5" ry="0.9" fill="#fbe7b0" opacity="0.8"/>
<ellipse cx="1087.7" cy="315.6" rx="5.7" ry="4.9" fill="#f5d27c" stroke="#e2a23a" stroke-width="0.9"/>
<ellipse cx="1086.4" cy="314.1" rx="2.1" ry="1.3" fill="#fbe7b0" opacity="0.8"/>
<ellipse cx="1076.6" cy="277" rx="5" ry="4.2" fill="#f0bd5a" stroke="#e2a23a" stroke-width="0.9"/>
<ellipse cx="1075.5" cy="275.6" rx="1.8" ry="1.1" fill="#fbe7b0" opacity="0.8"/>
<ellipse cx="1097.3" cy="321.5" rx="4.4" ry="3.8" fill="#f7d98a" stroke="#e2a23a" stroke-width="0.9"/>
<ellipse cx="1096.3" cy="320.3" rx="1.6" ry="1" fill="#fbe7b0" opacity="0.8"/>
<ellipse cx="1093.4" cy="410.6" rx="4.7" ry="4" fill="#f5d27c" stroke="#e2a23a" stroke-width="0.9"/>
<ellipse cx="1092.4" cy="409.3" rx="1.7" ry="1.1" fill="#fbe7b0" opacity="0.8"/>
<ellipse cx="1096.6" cy="392.6" rx="5.6" ry="4.7" fill="#f9e09c" stroke="#e2a23a" stroke-width="0.9"/>
<ellipse cx="1095.3" cy="391" rx="2.1" ry="1.3" fill="#fbe7b0" opacity="0.8"/>
<ellipse cx="1069.3" cy="347.9" rx="6.2" ry="5.3" fill="#f5d27c" stroke="#e2a23a" stroke-width="0.9"/>
<ellipse cx="1067.8" cy="346.2" rx="2.3" ry="1.4" fill="#fbe7b0" opacity="0.8"/>
<ellipse cx="1117.5" cy="238.9" rx="4.6" ry="3.9" fill="#f2c465" stroke="#e2a23a" stroke-width="0.9"/>
<ellipse cx="1116.5" cy="237.6" rx="1.7" ry="1.1" fill="#fbe7b0" opacity="0.8"/>
<ellipse cx="1128.8" cy="371.6" rx="4.4" ry="3.8" fill="#f5d27c" stroke="#e2a23a" stroke-width="0.9"/>
<ellipse cx="1127.8" cy="370.4" rx="1.6" ry="1" fill="#fbe7b0" opacity="0.8"/>
<ellipse cx="1111.5" cy="368.8" rx="4.3" ry="3.7" fill="#f9e09c" stroke="#e2a23a" stroke-width="0.9"/>
<ellipse cx="1110.5" cy="367.6" rx="1.6" ry="1" fill="#fbe7b0" opacity="0.8"/>
<ellipse cx="1071" cy="358.9" rx="5.7" ry="4.8" fill="#f6d684" stroke="#e2a23a" stroke-width="0.9"/>
<ellipse cx="1069.7" cy="357.3" rx="2.1" ry="1.3" fill="#fbe7b0" opacity="0.8"/>
<ellipse cx="1112.3" cy="338.6" rx="5" ry="4.2" fill="#f9e09c" stroke="#e2a23a" stroke-width="0.9"/>
<ellipse cx="1111.1" cy="337.2" rx="1.8" ry="1.1" fill="#fbe7b0" opacity="0.8"/>
<ellipse cx="1093" cy="267.3" rx="4.9" ry="4.2" fill="#f0bd5a" stroke="#e2a23a" stroke-width="0.9"/>
<ellipse cx="1091.8" cy="266" rx="1.8" ry="1.1" fill="#fbe7b0" opacity="0.8"/>
<ellipse cx="1114.4" cy="330.8" rx="4.5" ry="3.9" fill="#f6d684" stroke="#e2a23a" stroke-width="0.9"/>
<ellipse cx="1113.3" cy="329.6" rx="1.7" ry="1" fill="#fbe7b0" opacity="0.8"/>
<ellipse cx="1124.9" cy="223.9" rx="5.2" ry="4.4" fill="#f4cc74" stroke="#e2a23a" stroke-width="0.9"/>
<ellipse cx="1123.7" cy="222.5" rx="1.9" ry="1.2" fill="#fbe7b0" opacity="0.8"/>
<ellipse cx="1078.2" cy="415.7" rx="4.9" ry="4.2" fill="#f7d98a" stroke="#e2a23a" stroke-width="0.9"/>
<ellipse cx="1077.1" cy="414.4" rx="1.8" ry="1.1" fill="#fbe7b0" opacity="0.8"/>
<ellipse cx="1117.1" cy="360.7" rx="4" ry="3.4" fill="#f7d98a" stroke="#e2a23a" stroke-width="0.9"/>
<ellipse cx="1116.2" cy="359.6" rx="1.5" ry="0.9" fill="#fbe7b0" opacity="0.8"/>
<ellipse cx="1115.7" cy="321" rx="5.1" ry="4.3" fill="#f7d98a" stroke="#e2a23a" stroke-width="0.9"/>
<ellipse cx="1114.5" cy="319.6" rx="1.9" ry="1.2" fill="#fbe7b0" opacity="0.8"/>
<ellipse cx="1070.4" cy="261.4" rx="3.9" ry="3.3" fill="#f2c465" stroke="#e2a23a" stroke-width="0.9"/>
<ellipse cx="1069.5" cy="260.3" rx="1.4" ry="0.9" fill="#fbe7b0" opacity="0.8"/>
<ellipse cx="1092.1" cy="222.4" rx="5.4" ry="4.6" fill="#f4cc74" stroke="#e2a23a" stroke-width="0.9"/>
<ellipse cx="1090.8" cy="220.9" rx="2" ry="1.3" fill="#fbe7b0" opacity="0.8"/>
<ellipse cx="1129.7" cy="346.7" rx="4" ry="3.4" fill="#f5d27c" stroke="#e2a23a" stroke-width="0.9"/>
<ellipse cx="1128.8" cy="345.6" rx="1.5" ry="0.9" fill="#fbe7b0" opacity="0.8"/>
<ellipse cx="1099.8" cy="374.5" rx="4.3" ry="3.7" fill="#f7d98a" stroke="#e2a23a" stroke-width="0.9"/>
<ellipse cx="1098.8" cy="373.3" rx="1.6" ry="1" fill="#fbe7b0" opacity="0.8"/>
<ellipse cx="1077.2" cy="317.7" rx="4.3" ry="3.7" fill="#f6d684" stroke="#e2a23a" stroke-width="0.9"/>
<ellipse cx="1076.2" cy="316.5" rx="1.6" ry="1" fill="#fbe7b0" opacity="0.8"/>
<ellipse cx="1128.4" cy="291.1" rx="4.2" ry="3.6" fill="#f9e09c" stroke="#e2a23a" stroke-width="0.9"/>
<ellipse cx="1127.4" cy="290" rx="1.6" ry="1" fill="#fbe7b0" opacity="0.8"/>
<ellipse cx="1121.8" cy="271.8" rx="4.2" ry="3.6" fill="#f0bd5a" stroke="#e2a23a" stroke-width="0.9"/>
<ellipse cx="1120.8" cy="270.7" rx="1.5" ry="1" fill="#fbe7b0" opacity="0.8"/>
<ellipse cx="1100.4" cy="351.3" rx="4.1" ry="3.5" fill="#f6d684" stroke="#e2a23a" stroke-width="0.9"/>
<ellipse cx="1099.4" cy="350.2" rx="1.5" ry="1" fill="#fbe7b0" opacity="0.8"/>
<ellipse cx="1081.2" cy="382.1" rx="4.3" ry="3.6" fill="#f9e09c" stroke="#e2a23a" stroke-width="0.9"/>
<ellipse cx="1080.2" cy="380.9" rx="1.6" ry="1" fill="#fbe7b0" opacity="0.8"/>
<ellipse cx="1113.2" cy="350.4" rx="4" ry="3.4" fill="#f6d684" stroke="#e2a23a" stroke-width="0.9"/>
<ellipse cx="1112.3" cy="349.3" rx="1.5" ry="0.9" fill="#fbe7b0" opacity="0.8"/>
<ellipse cx="1129.9" cy="271.4" rx="4.2" ry="3.6" fill="#f2c465" stroke="#e2a23a" stroke-width="0.9"/>
<ellipse cx="1129" cy="270.2" rx="1.6" ry="1" fill="#fbe7b0" opacity="0.8"/>
<ellipse cx="1104.2" cy="253.9" rx="5.2" ry="4.4" fill="#f2c465" stroke="#e2a23a" stroke-width="0.9"/>
<ellipse cx="1103.1" cy="252.4" rx="1.9" ry="1.2" fill="#fbe7b0" opacity="0.8"/>
<ellipse cx="1088.9" cy="338.4" rx="4" ry="3.4" fill="#f9e09c" stroke="#e2a23a" stroke-width="0.9"/>
<ellipse cx="1087.9" cy="337.3" rx="1.5" ry="0.9" fill="#fbe7b0" opacity="0.8"/>
<ellipse cx="1129.1" cy="417.7" rx="4.9" ry="4.2" fill="#f7d98a" stroke="#e2a23a" stroke-width="0.9"/>
<ellipse cx="1128" cy="416.3" rx="1.8" ry="1.1" fill="#fbe7b0" opacity="0.8"/>
<ellipse cx="1093" cy="240.6" rx="4.2" ry="3.6" fill="#f2c465" stroke="#e2a23a" stroke-width="0.9"/>
<ellipse cx="1092" cy="239.5" rx="1.6" ry="1" fill="#fbe7b0" opacity="0.8"/>
</g>
<clipPath id="cOut"><path d="M763.5,223C764.6,219.3 766.4,213 770,201C773.6,189 781.2,163.3 785,151C788.8,138.7 789.4,135.3 792.5,127C795.6,118.7 799.4,110.3 803.8,101C808.2,91.7 814.1,79.7 818.8,71C823.5,62.3 827.3,55.3 832,48.8C836.7,42.3 841.7,36.7 847,32C852.3,27.3 857.9,23.5 863.8,20.6C869.7,17.7 876.4,15.5 882.6,14.6C888.8,13.7 895.8,14.5 901,15C906.2,15.5 909.5,17.5 914,17.8C918.5,18.1 922,17.2 928,16.6C934,16 945.3,14.5 950,14C954.7,13.5 951.2,12.7 956,13.5C960.8,14.3 972.1,15.7 979,18.8C985.9,21.9 991.9,27 997.5,32C1003.1,37 1007.6,41.6 1012.6,48.8C1017.6,56 1022.6,65.6 1027.6,75C1032.6,84.4 1038.9,96.8 1042.6,105C1046.3,113.2 1046.8,116.4 1050,124C1053.2,131.6 1056.3,137.9 1061.6,150.7C1066.9,163.5 1077.7,188.9 1081.7,201C1085.7,213.1 1084.9,219.3 1085.5,223L1085.5,223C1086.6,231.7 1090.2,258.8 1092,275C1093.8,291.2 1096,306.7 1096,320C1096,333.3 1094.2,344.2 1092,355C1089.8,365.8 1086.7,375.2 1083,385C1079.3,394.8 1072.2,409.2 1070,414L1069,411C1069.3,417.6 1072,440 1071,450.6C1070,461.2 1066.2,466.1 1063,474.5C1059.8,482.9 1056,492.1 1052,501C1048,509.9 1044.2,518.9 1039,527.7C1033.8,536.5 1027.2,546.5 1020.5,554C1013.8,561.5 1005.6,568.1 999,573C992.4,577.9 987.1,580.3 980.6,583.5C974.1,586.7 963.4,590.6 960,592L885,590C881.8,588.5 872.2,584.3 866,581C859.8,577.7 853.9,574.9 847.7,570C841.5,565.1 834.8,558.6 829,551.6C823.2,544.6 817.8,536.1 813,527.7C808.2,519.3 804,509.9 800,501C796,492.1 791.9,482.9 789,474.5C786.1,466.1 784.3,460.7 782.6,450.6C780.9,440.5 779.6,420.1 779,414L779,414C776.8,409.2 769.7,394.8 766,385C762.3,375.2 759.2,365.8 757,355C754.8,344.2 753,333.3 753,320C753,306.7 755.2,291.2 757,275C758.8,258.8 762.4,231.7 763.5,223Z"/></clipPath>
<path d="M763.5,223C764.6,219.3 766.4,213 770,201C773.6,189 781.2,163.3 785,151C788.8,138.7 789.4,135.3 792.5,127C795.6,118.7 799.4,110.3 803.8,101C808.2,91.7 814.1,79.7 818.8,71C823.5,62.3 827.3,55.3 832,48.8C836.7,42.3 841.7,36.7 847,32C852.3,27.3 857.9,23.5 863.8,20.6C869.7,17.7 876.4,15.5 882.6,14.6C888.8,13.7 895.8,14.5 901,15C906.2,15.5 909.5,17.5 914,17.8C918.5,18.1 922,17.2 928,16.6C934,16 945.3,14.5 950,14C954.7,13.5 951.2,12.7 956,13.5C960.8,14.3 972.1,15.7 979,18.8C985.9,21.9 991.9,27 997.5,32C1003.1,37 1007.6,41.6 1012.6,48.8C1017.6,56 1022.6,65.6 1027.6,75C1032.6,84.4 1038.9,96.8 1042.6,105C1046.3,113.2 1046.8,116.4 1050,124C1053.2,131.6 1056.3,137.9 1061.6,150.7C1066.9,163.5 1077.7,188.9 1081.7,201C1085.7,213.1 1084.9,219.3 1085.5,223L1085.5,223C1086.6,231.7 1090.2,258.8 1092,275C1093.8,291.2 1096,306.7 1096,320C1096,333.3 1094.2,344.2 1092,355C1089.8,365.8 1086.7,375.2 1083,385C1079.3,394.8 1072.2,409.2 1070,414L1069,411C1069.3,417.6 1072,440 1071,450.6C1070,461.2 1066.2,466.1 1063,474.5C1059.8,482.9 1056,492.1 1052,501C1048,509.9 1044.2,518.9 1039,527.7C1033.8,536.5 1027.2,546.5 1020.5,554C1013.8,561.5 1005.6,568.1 999,573C992.4,577.9 987.1,580.3 980.6,583.5C974.1,586.7 963.4,590.6 960,592L885,590C881.8,588.5 872.2,584.3 866,581C859.8,577.7 853.9,574.9 847.7,570C841.5,565.1 834.8,558.6 829,551.6C823.2,544.6 817.8,536.1 813,527.7C808.2,519.3 804,509.9 800,501C796,492.1 791.9,482.9 789,474.5C786.1,466.1 784.3,460.7 782.6,450.6C780.9,440.5 779.6,420.1 779,414L779,414C776.8,409.2 769.7,394.8 766,385C762.3,375.2 759.2,365.8 757,355C754.8,344.2 753,333.3 753,320C753,306.7 755.2,291.2 757,275C758.8,258.8 762.4,231.7 763.5,223Z" fill="#f6a892"/>
<g clip-path="url(#cOut)">
<path d="M800,150C802.5,141.7 808.3,115 815,100C821.7,85 830,70.7 840,60C850,49.3 861.5,41 875,36C888.5,31 905.5,30 921,30C936.5,30 954.3,31 968,36C981.7,41 993,49.3 1003,60C1013,70.7 1021.3,85 1028,100C1034.7,115 1040.5,141.7 1043,150" fill="none" stroke="#f9bba8" stroke-width="9" opacity="0.7"/>
<path d="M770,250C772.5,240 780,208.3 785,190C790,171.7 795,153 800,140C805,127 808.2,122.8 815,112C821.8,101.2 830.3,84.9 841,75C851.7,65.1 868,57.2 879,52.5C890,47.8 900,47.8 907,47C914,46.2 916.2,47.5 921,47.5C925.8,47.5 928.8,46.2 936,47C943.2,47.8 953,47.8 964,52.5C975,57.2 991.3,65.1 1002,75C1012.7,84.9 1021.2,101.2 1028,112C1034.8,122.8 1038,127 1043,140C1048,153 1053,171.7 1058,190C1063,208.3 1070.5,240 1073,250L1073,330L770,330Z" fill="#f29983"/>
<path d="M770,250C772.5,240 780,208.3 785,190C790,171.7 795,153 800,140C805,127 808.2,122.8 815,112C821.8,101.2 830.3,84.9 841,75C851.7,65.1 868,57.2 879,52.5C890,47.8 900,47.8 907,47C914,46.2 916.2,47.5 921,47.5C925.8,47.5 928.8,46.2 936,47C943.2,47.8 953,47.8 964,52.5C975,57.2 991.3,65.1 1002,75C1012.7,84.9 1021.2,101.2 1028,112C1034.8,122.8 1038,127 1043,140C1048,153 1053,171.7 1058,190C1063,208.3 1070.5,240 1073,250" fill="none" stroke="#ea856e" stroke-width="1.2" opacity="0.7"/>
<path d="M770,254C772.5,244 780,212.3 785,194C790,175.7 795,157 800,144C805,131 808.2,126.8 815,116C821.8,105.2 830.3,88.9 841,79C851.7,69.1 868,61.2 879,56.5C890,51.8 900,51.8 907,51C914,50.2 916.2,51.5 921,51.5C925.8,51.5 928.8,50.2 936,51C943.2,51.8 953,51.8 964,56.5C975,61.2 991.3,69.1 1002,79C1012.7,88.9 1021.2,105.2 1028,116C1034.8,126.8 1038,131 1043,144C1048,157 1053,175.7 1058,194C1063,212.3 1070.5,244 1073,254" fill="none" stroke="#ef8f79" stroke-width="6" opacity="0.5"/>
<path d="M900,56L902,76" fill="none" stroke="#f9c2b1" stroke-width="7" stroke-linecap="round" opacity="0.75"/>
<path d="M942,56L940,76" fill="none" stroke="#f9c2b1" stroke-width="7" stroke-linecap="round" opacity="0.75"/>
<path d="M868,62L872,84" fill="none" stroke="#f9c2b1" stroke-width="7" stroke-linecap="round" opacity="0.75"/>
<path d="M974,62L970,84" fill="none" stroke="#f9c2b1" stroke-width="7" stroke-linecap="round" opacity="0.75"/>
<path d="M842,78L848,96" fill="none" stroke="#f9c2b1" stroke-width="7" stroke-linecap="round" opacity="0.75"/>
<path d="M1000,78L994,96" fill="none" stroke="#f9c2b1" stroke-width="7" stroke-linecap="round" opacity="0.75"/>
<path d="M822,100L830,116" fill="none" stroke="#f9c2b1" stroke-width="7" stroke-linecap="round" opacity="0.75"/>
<path d="M1020,100L1012,116" fill="none" stroke="#f9c2b1" stroke-width="7" stroke-linecap="round" opacity="0.75"/>
<path d="M808,128L818,140" fill="none" stroke="#f9c2b1" stroke-width="7" stroke-linecap="round" opacity="0.75"/>
<path d="M1034,128L1024,140" fill="none" stroke="#f9c2b1" stroke-width="7" stroke-linecap="round" opacity="0.75"/>
<path d="M764,226L757,275L753,320L757,355L766,385L779,414L790,414L790,226Z" fill="#f19680"/>
<path d="M767,228C765.7,235.8 760.8,259.7 759,275C757.2,290.3 755.8,306.7 756,320C756.2,333.3 757.8,344.2 760,355C762.2,365.8 765.5,375.2 769,385C772.5,394.8 779,409.2 781,414" fill="none" stroke="#e57a64" stroke-width="1.1"/>
<path d="M769.6,228C768.3,235.8 763.4,259.7 761.6,275C759.8,290.3 758.4,306.7 758.6,320C758.8,333.3 760.4,344.2 762.6,355C764.8,365.8 768.1,375.2 771.6,385C775.1,394.8 781.6,409.2 783.6,414" fill="none" stroke="#f8b9a6" stroke-width="1.1"/>
<path d="M772.2,228C770.9,235.8 766,259.7 764.2,275C762.4,290.3 761,306.7 761.2,320C761.4,333.3 763,344.2 765.2,355C767.4,365.8 770.7,375.2 774.2,385C777.7,394.8 784.2,409.2 786.2,414" fill="none" stroke="#e57a64" stroke-width="1.1"/>
<path d="M774.8,228C773.5,235.8 768.6,259.7 766.8,275C765,290.3 763.6,306.7 763.8,320C764,333.3 765.6,344.2 767.8,355C770,365.8 773.3,375.2 776.8,385C780.3,394.8 786.8,409.2 788.8,414" fill="none" stroke="#f8b9a6" stroke-width="1.1"/>
<path d="M790,230C786,235.3 782.9,274 782,290C781.1,306 781.3,332.7 783,350C784.7,367.3 790.7,404 795,420C799.3,436 808.3,454 815,470C821.7,486 841,546.7 845,540C849,533.3 847,452 845,420C843,388 834.4,322.7 830,300C825.6,277.3 817.3,259.3 812,250C806.7,240.7 794,224.7 790,230Z" fill="#f7b19d" opacity="0.8"/>
<path d="M800,260C799.2,270 794.2,296.7 795,320C795.8,343.3 800,375 805,400C810,425 821.7,458.3 825,470" fill="none" stroke="#fbcdbd" stroke-width="6" opacity="0.6" stroke-linecap="round"/>
<path d="M815,250C816.2,263.3 821.5,301.7 822,330C822.5,358.3 815.8,391.7 818,420C820.2,448.3 832.2,486.7 835,500" fill="none" stroke="#ec8c76" stroke-width="3" opacity="0.6"/>
<path d="M1081.3,226L1088.3,275L1092.3,320L1088.3,355L1079.3,385L1066.3,414L1055.3,414L1055.3,226Z" fill="#f19680"/>
<path d="M1078.3,228C1079.6,235.8 1084.5,259.7 1086.3,275C1088.1,290.3 1089.5,306.7 1089.3,320C1089.1,333.3 1087.5,344.2 1085.3,355C1083.1,365.8 1079.8,375.2 1076.3,385C1072.8,394.8 1066.3,409.2 1064.3,414" fill="none" stroke="#e57a64" stroke-width="1.1"/>
<path d="M1075.7,228C1077,235.8 1081.9,259.7 1083.7,275C1085.5,290.3 1086.9,306.7 1086.7,320C1086.5,333.3 1084.9,344.2 1082.7,355C1080.5,365.8 1077.2,375.2 1073.7,385C1070.2,394.8 1063.7,409.2 1061.7,414" fill="none" stroke="#f8b9a6" stroke-width="1.1"/>
<path d="M1073.1,228C1074.4,235.8 1079.3,259.7 1081.1,275C1082.9,290.3 1084.3,306.7 1084.1,320C1083.9,333.3 1082.3,344.2 1080.1,355C1077.9,365.8 1074.6,375.2 1071.1,385C1067.6,394.8 1061.1,409.2 1059.1,414" fill="none" stroke="#e57a64" stroke-width="1.1"/>
<path d="M1070.5,228C1071.8,235.8 1076.7,259.7 1078.5,275C1080.3,290.3 1081.7,306.7 1081.5,320C1081.3,333.3 1079.7,344.2 1077.5,355C1075.3,365.8 1072,375.2 1068.5,385C1065,394.8 1058.5,409.2 1056.5,414" fill="none" stroke="#f8b9a6" stroke-width="1.1"/>
<path d="M1055.3,230C1059.3,235.3 1062.4,274 1063.3,290C1064.2,306 1064,332.7 1062.3,350C1060.6,367.3 1054.6,404 1050.3,420C1046,436 1037,454 1030.3,470C1023.6,486 1004.3,546.7 1000.3,540C996.3,533.3 998.3,452 1000.3,420C1002.3,388 1010.9,322.7 1015.3,300C1019.7,277.3 1028,259.3 1033.3,250C1038.6,240.7 1051.3,224.7 1055.3,230Z" fill="#f7b19d" opacity="0.8"/>
<path d="M1045.3,260C1046.1,270 1051.1,296.7 1050.3,320C1049.5,343.3 1045.3,375 1040.3,400C1035.3,425 1023.6,458.3 1020.3,470" fill="none" stroke="#fbcdbd" stroke-width="6" opacity="0.6" stroke-linecap="round"/>
<path d="M1030.3,250C1029.1,263.3 1023.8,301.7 1023.3,330C1022.8,358.3 1029.5,391.7 1027.3,420C1025.1,448.3 1013.1,486.7 1010.3,500" fill="none" stroke="#ec8c76" stroke-width="3" opacity="0.6"/>
</g>
<path d="M763.5,223C764.6,219.3 766.4,213 770,201C773.6,189 781.2,163.3 785,151C788.8,138.7 789.4,135.3 792.5,127C795.6,118.7 799.4,110.3 803.8,101C808.2,91.7 814.1,79.7 818.8,71C823.5,62.3 827.3,55.3 832,48.8C836.7,42.3 841.7,36.7 847,32C852.3,27.3 857.9,23.5 863.8,20.6C869.7,17.7 876.4,15.5 882.6,14.6C888.8,13.7 895.8,14.5 901,15C906.2,15.5 909.5,17.5 914,17.8C918.5,18.1 922,17.2 928,16.6C934,16 945.3,14.5 950,14C954.7,13.5 951.2,12.7 956,13.5C960.8,14.3 972.1,15.7 979,18.8C985.9,21.9 991.9,27 997.5,32C1003.1,37 1007.6,41.6 1012.6,48.8C1017.6,56 1022.6,65.6 1027.6,75C1032.6,84.4 1038.9,96.8 1042.6,105C1046.3,113.2 1046.8,116.4 1050,124C1053.2,131.6 1056.3,137.9 1061.6,150.7C1066.9,163.5 1077.7,188.9 1081.7,201C1085.7,213.1 1084.9,219.3 1085.5,223" fill="none" stroke="#e2553f" stroke-width="1.6"/>
<path d="M779,414C779.6,420.1 780.9,440.5 782.6,450.6C784.3,460.7 786.1,466.1 789,474.5C791.9,482.9 796,492.1 800,501C804,509.9 808.2,519.3 813,527.7C817.8,536.1 823.2,544.6 829,551.6C834.8,558.6 841.5,565.1 847.7,570C853.9,574.9 859.8,577.7 866,581C872.2,584.3 881.8,588.5 885,590" fill="none" stroke="#e2553f" stroke-width="1.4"/>
<path d="M1069,411C1069.3,417.6 1072,440 1071,450.6C1070,461.2 1066.2,466.1 1063,474.5C1059.8,482.9 1056,492.1 1052,501C1048,509.9 1044.2,518.9 1039,527.7C1033.8,536.5 1027.2,546.5 1020.5,554C1013.8,561.5 1005.6,568.1 999,573C992.4,577.9 987.1,580.3 980.6,583.5C974.1,586.7 963.4,590.6 960,592" fill="none" stroke="#e2553f" stroke-width="1.4"/>
<path d="M790,450C787.3,456.7 795.7,478.7 800,490C804.3,501.3 815.3,524.9 822,535C828.7,545.1 842.3,559.5 850,566C857.7,572.5 873.3,584.8 880,584C886.7,583.2 904,571.2 900,560C896,548.8 860.7,516 850,500C839.3,484 828,446.7 820,440C812,433.3 792.7,443.3 790,450Z" fill="#f8b5a2" opacity="0.7"/>
<path d="M1058,450C1060.7,456.7 1052.3,478.7 1048,490C1043.7,501.3 1032.7,524.9 1026,535C1019.3,545.1 1005.7,559.5 998,566C990.3,572.5 974.7,584.8 968,584C961.3,583.2 944,571.2 948,560C952,548.8 987.3,516 998,500C1008.7,484 1020,446.7 1028,440C1036,433.3 1055.3,443.3 1058,450Z" fill="#f8b5a2" opacity="0.7"/>
<clipPath id="cPal"><path d="M808,250C810.1,241.8 816.2,215.2 820.5,201C824.8,186.8 829.1,176 834,165C838.9,154 844,142.8 850,135C856,127.2 862.5,121.8 870,118C877.5,114.2 886.5,112.7 895,112C903.5,111.3 912.3,114 921,114C929.7,114 938.5,111.3 947,112C955.5,112.7 964.5,114.2 972,118C979.5,121.8 986,127.2 992,135C998,142.8 1003.1,154 1008,165C1012.9,176 1016.9,186.8 1021.4,201C1025.9,215.2 1032.7,241.8 1035,250L1042,300L1046,352L800,352L804,300Z"/></clipPath>
<path d="M808,250C810.1,241.8 816.2,215.2 820.5,201C824.8,186.8 829.1,176 834,165C838.9,154 844,142.8 850,135C856,127.2 862.5,121.8 870,118C877.5,114.2 886.5,112.7 895,112C903.5,111.3 912.3,114 921,114C929.7,114 938.5,111.3 947,112C955.5,112.7 964.5,114.2 972,118C979.5,121.8 986,127.2 992,135C998,142.8 1003.1,154 1008,165C1012.9,176 1016.9,186.8 1021.4,201C1025.9,215.2 1032.7,241.8 1035,250L1042,300L1046,352L800,352L804,300Z" fill="url(#gPal)"/>
<g clip-path="url(#cPal)">
<path d="M808,250C810.1,241.8 816.2,215.2 820.5,201C824.8,186.8 829.1,176 834,165C838.9,154 844,142.8 850,135C856,127.2 862.5,121.8 870,118C877.5,114.2 886.5,112.7 895,112C903.5,111.3 912.3,114 921,114C929.7,114 938.5,111.3 947,112C955.5,112.7 964.5,114.2 972,118C979.5,121.8 986,127.2 992,135C998,142.8 1003.1,154 1008,165C1012.9,176 1016.9,186.8 1021.4,201C1025.9,215.2 1032.7,241.8 1035,250" fill="none" stroke="#ea866f" stroke-width="14" opacity="0.4"/>
<path d="M922,112L929,112L934,235L918,235Z" fill="#f9bba9" opacity="0.85"/>
<path d="M926,112L927,235" fill="none" stroke="#ec8a74" stroke-width="1"/>
<path d="M912,143C909.1,141.7 900.9,136.5 894.6,135C888.3,133.5 881.1,132.8 874.3,134C867.5,135.2 857.4,140.7 854,142" fill="none" stroke="#fbcbbb" stroke-width="2" opacity="0.8" stroke-linecap="round"/>
<path d="M940,143C942.9,141.7 951.1,136.5 957.4,135C963.7,133.5 970.9,132.8 977.7,134C984.5,135.2 994.6,140.7 998,142" fill="none" stroke="#fbcbbb" stroke-width="2" opacity="0.8" stroke-linecap="round"/>
<path d="M912,166C908.5,164.7 898.6,159.3 891,158C883.4,156.7 874.7,156.3 866.5,158C858.3,159.7 846.1,166.3 842,168" fill="none" stroke="#fbcbbb" stroke-width="2" opacity="0.8" stroke-linecap="round"/>
<path d="M940,166C943.5,164.7 953.4,159.3 961,158C968.6,156.7 977.3,156.3 985.5,158C993.7,159.7 1005.9,166.3 1010,168" fill="none" stroke="#fbcbbb" stroke-width="2" opacity="0.8" stroke-linecap="round"/>
<path d="M912,191C908.4,189.7 898.2,184.2 890.4,183C882.6,181.8 873.6,181.8 865.2,184C856.8,186.2 844.2,194 840,196" fill="none" stroke="#fbcbbb" stroke-width="2" opacity="0.8" stroke-linecap="round"/>
<path d="M940,191C943.6,189.7 953.8,184.2 961.6,183C969.4,181.8 978.4,181.8 986.8,184C995.2,186.2 1007.8,194 1012,196" fill="none" stroke="#fbcbbb" stroke-width="2" opacity="0.8" stroke-linecap="round"/>
<path d="M912,215C909,213.7 900.5,208 894,207C887.5,206 880,206.3 873,209C866,211.7 855.5,220.7 852,223" fill="none" stroke="#fbcbbb" stroke-width="2" opacity="0.8" stroke-linecap="round"/>
<path d="M940,215C943,213.7 951.5,208 958,207C964.5,206 972,206.3 979,209C986,211.7 996.5,220.7 1000,223" fill="none" stroke="#fbcbbb" stroke-width="2" opacity="0.8" stroke-linecap="round"/>
<path d="M818,352C818.3,343.3 818.7,316 820,300C821.3,284 822.5,268 826,256C829.5,244 835.3,235.2 841,228C846.7,220.8 850.6,217 860,213C869.4,209 886.6,205.8 897.6,204C908.6,202.2 916.4,202 926,202C935.6,202 944,202.2 955,204C966,205.8 982.7,209 992,213C1001.3,217 1005.3,220.8 1011,228C1016.7,235.2 1022.5,244 1026,256C1029.5,268 1030.7,284 1032,300C1033.3,316 1033.7,343.3 1034,352Z" fill="#f7b09c"/>
<path d="M818,352C818.3,343.3 818.7,316 820,300C821.3,284 822.5,268 826,256C829.5,244 835.3,235.2 841,228C846.7,220.8 850.6,217 860,213C869.4,209 886.6,205.8 897.6,204C908.6,202.2 916.4,202 926,202C935.6,202 944,202.2 955,204C966,205.8 982.7,209 992,213C1001.3,217 1005.3,220.8 1011,228C1016.7,235.2 1022.5,244 1026,256C1029.5,268 1030.7,284 1032,300C1033.3,316 1033.7,343.3 1034,352" fill="none" stroke="#fbd0c2" stroke-width="1.6" opacity="0.55"/>
</g>
<path d="M846,330C846.3,325 847,310.3 848,300C849,289.7 849.7,277.3 852,268C854.3,258.7 857.7,249 862,244C866.3,239 871.7,239.3 878,238C884.3,236.7 892,236.3 900,236C908,235.7 917.3,236 926,236C934.7,236 944,236.2 952,236C960,235.8 967.3,234.5 974,235C980.7,235.5 987,236.5 992,239C997,241.5 1001,244.8 1004,250C1007,255.2 1008.5,261.7 1010,270C1011.5,278.3 1012.2,290 1013,300C1013.8,310 1014.7,325 1015,330Z" fill="#ef8d76"/>
<path d="M850,262C851.7,257.3 854,254 856,254C858,254 860.7,257.7 862,262C863.3,266.3 864,274 864,280C864,286 864.3,294.7 862,298C859.7,301.3 852.7,302.7 850,300C847.3,297.3 846,288.3 846,282C846,275.7 848.3,266.7 850,262Z" fill="#f6a595" stroke="#e8806e" stroke-width="0.8"/>
<path d="M866,300C866.3,296 866.2,283 868,276C869.8,269 873,262.3 877,258C881,253.7 889.5,251.3 892,250" fill="none" stroke="#f4a28d" stroke-width="6" stroke-linecap="round"/>
<path d="M869,300C869.3,296.3 869.2,284.3 871,278C872.8,271.7 876.2,266 880,262C883.8,258 891.7,255.3 894,254" fill="none" stroke="#e67d66" stroke-width="1.2"/>
<path d="M1007,262C1005.3,257.3 1003,254 1001,254C999,254 996.3,257.7 995,262C993.7,266.3 993,274 993,280C993,286 992.7,294.7 995,298C997.3,301.3 1004.3,302.7 1007,300C1009.7,297.3 1011,288.3 1011,282C1011,275.7 1008.7,266.7 1007,262Z" fill="#f6a595" stroke="#e8806e" stroke-width="0.8"/>
<path d="M991,300C990.7,296 990.8,283 989,276C987.2,269 984,262.3 980,258C976,253.7 967.5,251.3 965,250" fill="none" stroke="#f4a28d" stroke-width="6" stroke-linecap="round"/>
<path d="M988,300C987.7,296.3 987.8,284.3 986,278C984.2,271.7 980.8,266 977,262C973.2,258 965.3,255.3 963,254" fill="none" stroke="#e67d66" stroke-width="1.2"/>
<path d="M872,296C872.7,292 873.6,278 876,272C878.4,266 881.9,263.2 886.6,260C891.3,256.8 897.4,254.4 904,252.7C910.6,251 918.6,250 926,250C933.4,250 941.9,251 948.6,252.7C955.3,254.4 960.9,256.4 966,260C971.1,263.6 976,268 979,274C982,280 983.2,292.3 984,296Z" fill="url(#gPh)"/>
<path d="M904,296C905.8,295.2 911,292 915,291C919,290 923.5,290 928,290C932.5,290 938.2,290 942,291C945.8,292 949.5,295.2 951,296Z" fill="#111"/>
<path d="M860,240C863,239.2 871.8,236.2 877.7,235C883.6,233.8 891.1,232.4 895.5,233C899.9,233.6 901.9,235.5 904,238.5C906.1,241.5 906.5,246 908,251C909.5,256 911,263.6 913,268.6C915,273.6 917.3,278.3 920,281C922.7,283.7 926,284.6 929,284.6C932,284.6 935.3,283.9 938,281C940.7,278.1 943.5,272 945,267C946.5,262 946.1,255.5 947,251C947.9,246.5 948.4,243 950.4,240C952.4,237 954.9,234.4 959,233C963.1,231.6 969.3,231.1 975,231.4C980.7,231.7 990,234.4 993,235L993,220L860,220Z" fill="#f7b4a1"/>
<path d="M850,270C851.7,265 855.4,245.8 860,240C864.6,234.2 871.8,236.2 877.7,235C883.6,233.8 891.1,232.4 895.5,233C899.9,233.6 901.9,235.5 904,238.5C906.1,241.5 906.5,246 908,251C909.5,256 911,263.6 913,268.6C915,273.6 917.3,278.3 920,281C922.7,283.7 926,284.6 929,284.6C932,284.6 935.3,283.9 938,281C940.7,278.1 943.5,272 945,267C946.5,262 946.1,255.5 947,251C947.9,246.5 948.4,243 950.4,240C952.4,237 954.9,234.4 959,233C963.1,231.6 969.3,231.1 975,231.4C980.7,231.7 987.7,232.3 993,235C998.3,237.7 1003.7,241.6 1007,247.4C1010.3,253.2 1012,266.2 1013,270" fill="none" stroke="#fcd9cd" stroke-width="2.2"/>
<path d="M852,272C853.7,267.2 857.7,248.7 862,243C866.3,237.3 872.4,239.3 878,238C883.6,236.7 891.2,234.8 895.5,235.2C899.8,235.6 901.9,237.7 904,240.7C906.1,243.7 906.5,248.2 908,253.2C909.5,258.2 911,265.8 913,270.8C915,275.8 917.3,280.5 920,283.2C922.7,285.9 926,286.8 929,286.8C932,286.8 935.3,286.1 938,283.2C940.7,280.3 943.5,274.2 945,269.2C946.5,264.2 946.1,257.7 947,253.2C947.9,248.7 948.4,245.2 950.4,242.2C952.4,239.2 954.9,236.6 959,235.2C963.1,233.8 969.5,233.5 975,234C980.5,234.5 987,235.3 992,238C997,240.7 1001.8,244.3 1005,250C1008.2,255.7 1010,268.3 1011,272" fill="none" stroke="#e57a64" stroke-width="1"/>
<path d="M922,215C922.3,220.8 922.8,239.8 924,250C925.2,260.2 928.2,271.7 929,276" fill="none" stroke="#fcd5c8" stroke-width="3" stroke-linecap="round" opacity="0.8"/>
<path d="M784,232C787.2,229.3 794.7,228 800,228C805.3,228 812.5,229.7 816,232C819.5,234.3 821,238.5 821,242C821,245.5 819,250.7 816,253C813,255.3 807.5,256 803,256C798.5,256 792.7,255 789,253C785.3,251 781.8,247.5 781,244C780.2,240.5 780.8,234.7 784,232Z" fill="#ffffff" stroke="#6a7078" stroke-width="1.1"/>
<path d="M790,240C791.7,241 796.3,246 800,246C803.7,246 810,241 812,240" fill="none" stroke="#d5d9e2" stroke-width="3.2" stroke-linecap="round"/>
<path d="M800,246C800,247.2 800,251.8 800,253" fill="none" stroke="#d5d9e2" stroke-width="3.2" stroke-linecap="round"/>
<path d="M790,240C791.7,241 796.3,246 800,246C803.7,246 810,241 812,240" fill="none" stroke="#7f858f" stroke-width="1" stroke-linecap="round"/>
<path d="M800,246C800,247.2 800,251.8 800,253" fill="none" stroke="#7f858f" stroke-width="1" stroke-linecap="round"/>
<path d="M785,204C788.3,201 795.2,200 801,200C806.8,200 816,201.3 820,204C824,206.7 824.8,211.8 825,216C825.2,220.2 824.2,226 821,229C817.8,232 811.3,233.7 806,234C800.7,234.3 793.2,233.7 789,231C784.8,228.3 781.7,222.5 781,218C780.3,213.5 781.7,207 785,204Z" fill="#ffffff" stroke="#6a7078" stroke-width="1.1"/>
<path d="M806,226C808.3,224.2 817.7,221.5 820,222C822.3,222.5 822.3,227.2 820,229C817.7,230.8 808.3,233.5 806,233C803.7,232.5 803.7,227.8 806,226Z" fill="#e4e7ef"/>
<path d="M791,212C793,213.3 798.7,220 803,220C807.3,220 814.7,213.3 817,212" fill="none" stroke="#d5d9e2" stroke-width="3.2" stroke-linecap="round"/>
<path d="M803,220C802.8,221.7 802.2,228.3 802,230" fill="none" stroke="#d5d9e2" stroke-width="3.2" stroke-linecap="round"/>
<path d="M791,212C793,213.3 798.7,220 803,220C807.3,220 814.7,213.3 817,212" fill="none" stroke="#7f858f" stroke-width="1" stroke-linecap="round"/>
<path d="M803,220C802.8,221.7 802.2,228.3 802,230" fill="none" stroke="#7f858f" stroke-width="1" stroke-linecap="round"/>
<path d="M793,172C796.7,168.7 804.2,167.7 810,168C815.8,168.3 824.2,170.8 828,174C831.8,177.2 833,182.7 833,187C833,191.3 831.5,196.8 828,200C824.5,203.2 817.5,205.5 812,206C806.5,206.5 799,206 795,203C791,200 788.3,193.2 788,188C787.7,182.8 789.3,175.3 793,172Z" fill="#ffffff" stroke="#6a7078" stroke-width="1.1"/>
<path d="M814,197C816.5,194.8 825.7,191.5 828,192C830.3,192.5 830.5,197.8 828,200C825.5,202.2 815.3,205.5 813,205C810.7,204.5 811.5,199.2 814,197Z" fill="#e4e7ef"/>
<path d="M798,181C800.2,182.5 806.5,189.8 811,190C815.5,190.2 822.7,183.3 825,182" fill="none" stroke="#d5d9e2" stroke-width="3.2" stroke-linecap="round"/>
<path d="M811,190C810.7,191.8 809.3,199.2 809,201" fill="none" stroke="#d5d9e2" stroke-width="3.2" stroke-linecap="round"/>
<path d="M798,181C800.2,182.5 806.5,189.8 811,190C815.5,190.2 822.7,183.3 825,182" fill="none" stroke="#7f858f" stroke-width="1" stroke-linecap="round"/>
<path d="M811,190C810.7,191.8 809.3,199.2 809,201" fill="none" stroke="#7f858f" stroke-width="1" stroke-linecap="round"/>
<path d="M806,141C809.2,138.2 816.3,136.7 821,137C825.7,137.3 831.3,139.8 834,143C836.7,146.2 837.5,151.8 837,156C836.5,160.2 834.2,165.2 831,168C827.8,170.8 822.2,173 818,173C813.8,173 808.7,171.2 806,168C803.3,164.8 802,158.5 802,154C802,149.5 802.8,143.8 806,141Z" fill="#ffffff" stroke="#6a7078" stroke-width="1.1"/>
<path d="M820,165C822.2,163 830.3,159.5 832,160C833.7,160.5 832.2,166 830,168C827.8,170 820.7,172.5 819,172C817.3,171.5 817.8,167 820,165Z" fill="#e4e7ef"/>
<path d="M811,150C812.5,151 816.8,156 820,156C823.2,156 828.3,151 830,150" fill="none" stroke="#d5d9e2" stroke-width="3.2" stroke-linecap="round"/>
<path d="M811,150C812.5,151 816.8,156 820,156C823.2,156 828.3,151 830,150" fill="none" stroke="#7f858f" stroke-width="1" stroke-linecap="round"/>
<path d="M818,122C821,119.3 827.8,118.5 832,119C836.2,119.5 840.7,122 843,125C845.3,128 846.5,133 846,137C845.5,141 843,146.2 840,149C837,151.8 831.8,154 828,154C824.2,154 819.3,152.2 817,149C814.7,145.8 813.8,139.5 814,135C814.2,130.5 815,124.7 818,122Z" fill="#ffffff" stroke="#6a7078" stroke-width="1.1"/>
<path d="M829,147C831.2,145 839.3,140.7 841,141C842.7,141.3 841.2,147 839,149C836.8,151 829.7,153.3 828,153C826.3,152.7 826.8,149 829,147Z" fill="#e4e7ef"/>
<path d="M822,131C823.3,131.8 827,136 830,136C833,136 838.3,131.8 840,131" fill="none" stroke="#d5d9e2" stroke-width="3.2" stroke-linecap="round"/>
<path d="M822,131C823.3,131.8 827,136 830,136C833,136 838.3,131.8 840,131" fill="none" stroke="#7f858f" stroke-width="1" stroke-linecap="round"/>
<path d="M829,108C829.3,102.8 831.7,101 834,99C836.3,97 840,95.8 843,96C846,96.2 849.8,97.3 852,100C854.2,102.7 855.7,107.7 856,112C856.3,116.3 855.5,122.2 854,126C852.5,129.8 849.5,133 847,135C844.5,137 841.5,138.8 839,138C836.5,137.2 833.7,135 832,130C830.3,125 828.7,113.2 829,108Z" fill="#ffffff" stroke="#6a7078" stroke-width="1.1"/>
<path d="M838,128C840.2,125.2 849.5,120.2 852,120C854.5,119.8 854,124.7 853,127C852,129.3 848.3,132.3 846,134C843.7,135.7 840.3,138 839,137C837.7,136 835.8,130.8 838,128Z" fill="#e4e7ef"/>
<path d="M854,97C855.2,93.2 858.2,90.7 861,89C863.8,87.3 867.8,86.7 871,87C874.2,87.3 878,88.2 880,91C882,93.8 882.5,99.5 883,104C883.5,108.5 883.5,114.7 883,118C882.5,121.3 882.5,122.7 880,124C877.5,125.3 871.8,126.2 868,126C864.2,125.8 859.3,125.3 857,123C854.7,120.7 854.5,116.3 854,112C853.5,107.7 852.8,100.8 854,97Z" fill="#ffffff" stroke="#6a7078" stroke-width="1.1"/>
<path d="M857,118C858.8,117.7 864.2,120.8 868,121C871.8,121.2 878,118.5 880,119C882,119.5 882,122.8 880,124C878,125.2 871.8,126.2 868,126C864.2,125.8 858.8,124.3 857,123C855.2,121.7 855.2,118.3 857,118Z" fill="#e4e7ef"/>
<path d="M883,92C884.2,88.2 886.8,84.9 890,83C893.2,81.1 898.2,80.5 902,80.5C905.8,80.5 910,81.1 913,83C916,84.9 918.8,87.8 920,92C921.2,96.2 920.7,103.2 920.5,108C920.3,112.8 920.8,118.3 919,121C917.2,123.7 914.5,123.5 910,124C905.5,124.5 896.3,124.7 892,124C887.7,123.3 885.6,123 884,120C882.4,117 882.8,110.7 882.6,106C882.4,101.3 881.8,95.8 883,92Z" fill="#ffffff" stroke="#6a7078" stroke-width="1.1"/>
<path d="M886,117C888.5,117 894.7,120 900,120C905.3,120 915,116.8 918,117C921,117.2 919.3,119.8 918,121C916.7,122.2 914.3,123.5 910,124C905.7,124.5 896.2,124.7 892,124C887.8,123.3 886,121.2 885,120C884,118.8 883.5,117 886,117Z" fill="#e4e7ef"/>
<path d="M1063.1,232C1059.8,229.3 1052,228 1046.4,228C1040.8,228 1033.4,229.7 1029.7,232C1026,234.3 1024.5,238.5 1024.5,242C1024.5,245.5 1026.6,250.7 1029.7,253C1032.8,255.3 1038.6,256 1043.3,256C1048,256 1054.1,255 1057.9,253C1061.7,251 1065.4,247.5 1066.3,244C1067.1,240.5 1066.5,234.7 1063.1,232Z" fill="#ffffff" stroke="#6a7078" stroke-width="1.1"/>
<path d="M1056.9,240C1055.1,241 1050.3,246 1046.4,246C1042.6,246 1036,241 1033.9,240" fill="none" stroke="#d5d9e2" stroke-width="3.2" stroke-linecap="round"/>
<path d="M1046.4,246C1046.4,247.2 1046.4,251.8 1046.4,253" fill="none" stroke="#d5d9e2" stroke-width="3.2" stroke-linecap="round"/>
<path d="M1056.9,240C1055.1,241 1050.3,246 1046.4,246C1042.6,246 1036,241 1033.9,240" fill="none" stroke="#7f858f" stroke-width="1" stroke-linecap="round"/>
<path d="M1046.4,246C1046.4,247.2 1046.4,251.8 1046.4,253" fill="none" stroke="#7f858f" stroke-width="1" stroke-linecap="round"/>
<path d="M1062.1,204C1058.6,201 1051.5,200 1045.4,200C1039.3,200 1029.7,201.3 1025.5,204C1021.3,206.7 1020.5,211.8 1020.3,216C1020.1,220.2 1021.2,226 1024.5,229C1027.8,232 1034.6,233.7 1040.2,234C1045.7,234.3 1053.6,233.7 1057.9,231C1062.3,228.3 1065.6,222.5 1066.3,218C1067,213.5 1065.6,207 1062.1,204Z" fill="#ffffff" stroke="#6a7078" stroke-width="1.1"/>
<path d="M1040.2,226C1037.7,224.2 1028,221.5 1025.5,222C1023.1,222.5 1023.1,227.2 1025.5,229C1028,230.8 1037.7,233.5 1040.2,233C1042.6,232.5 1042.6,227.8 1040.2,226Z" fill="#e4e7ef"/>
<path d="M1055.8,212C1053.7,213.3 1047.8,220 1043.3,220C1038.8,220 1031.1,213.3 1028.7,212" fill="none" stroke="#d5d9e2" stroke-width="3.2" stroke-linecap="round"/>
<path d="M1043.3,220C1043.5,221.7 1044.2,228.3 1044.3,230" fill="none" stroke="#d5d9e2" stroke-width="3.2" stroke-linecap="round"/>
<path d="M1055.8,212C1053.7,213.3 1047.8,220 1043.3,220C1038.8,220 1031.1,213.3 1028.7,212" fill="none" stroke="#7f858f" stroke-width="1" stroke-linecap="round"/>
<path d="M1043.3,220C1043.5,221.7 1044.2,228.3 1044.3,230" fill="none" stroke="#7f858f" stroke-width="1" stroke-linecap="round"/>
<path d="M1053.7,172C1049.9,168.7 1042.1,167.7 1036,168C1029.9,168.3 1021.2,170.8 1017.2,174C1013.2,177.2 1011.9,182.7 1011.9,187C1011.9,191.3 1013.5,196.8 1017.2,200C1020.8,203.2 1028.1,205.5 1033.9,206C1039.6,206.5 1047.5,206 1051.6,203C1055.8,200 1058.6,193.2 1059,188C1059.3,182.8 1057.6,175.3 1053.7,172Z" fill="#ffffff" stroke="#6a7078" stroke-width="1.1"/>
<path d="M1031.8,197C1029.2,194.8 1019.6,191.5 1017.2,192C1014.7,192.5 1014.5,197.8 1017.2,200C1019.8,202.2 1030.4,205.5 1032.8,205C1035.3,204.5 1034.4,199.2 1031.8,197Z" fill="#e4e7ef"/>
<path d="M1048.5,181C1046.2,182.5 1039.6,189.8 1034.9,190C1030.2,190.2 1022.7,183.3 1020.3,182" fill="none" stroke="#d5d9e2" stroke-width="3.2" stroke-linecap="round"/>
<path d="M1034.9,190C1035.3,191.8 1036.7,199.2 1037,201" fill="none" stroke="#d5d9e2" stroke-width="3.2" stroke-linecap="round"/>
<path d="M1048.5,181C1046.2,182.5 1039.6,189.8 1034.9,190C1030.2,190.2 1022.7,183.3 1020.3,182" fill="none" stroke="#7f858f" stroke-width="1" stroke-linecap="round"/>
<path d="M1034.9,190C1035.3,191.8 1036.7,199.2 1037,201" fill="none" stroke="#7f858f" stroke-width="1" stroke-linecap="round"/>
<path d="M1040.2,141C1036.8,138.2 1029.4,136.7 1024.5,137C1019.6,137.3 1013.7,139.8 1010.9,143C1008.1,146.2 1007.2,151.8 1007.8,156C1008.3,160.2 1010.7,165.2 1014,168C1017.3,170.8 1023.3,173 1027.6,173C1032,173 1037.4,171.2 1040.2,168C1042.9,164.8 1044.3,158.5 1044.3,154C1044.3,149.5 1043.5,143.8 1040.2,141Z" fill="#ffffff" stroke="#6a7078" stroke-width="1.1"/>
<path d="M1025.5,165C1023.3,163 1014.7,159.5 1013,160C1011.2,160.5 1012.8,166 1015.1,168C1017.3,170 1024.8,172.5 1026.6,172C1028.3,171.5 1027.8,167 1025.5,165Z" fill="#e4e7ef"/>
<path d="M1034.9,150C1033.4,151 1028.8,156 1025.5,156C1022.2,156 1016.8,151 1015.1,150" fill="none" stroke="#d5d9e2" stroke-width="3.2" stroke-linecap="round"/>
<path d="M1034.9,150C1033.4,151 1028.8,156 1025.5,156C1022.2,156 1016.8,151 1015.1,150" fill="none" stroke="#7f858f" stroke-width="1" stroke-linecap="round"/>
<path d="M1027.6,122C1024.5,119.3 1017.3,118.5 1013,119C1008.6,119.5 1003.9,122 1001.5,125C999,128 997.8,133 998.4,137C998.9,141 1001.5,146.2 1004.6,149C1007.8,151.8 1013.2,154 1017.2,154C1021.2,154 1026.2,152.2 1028.7,149C1031.1,145.8 1032,139.5 1031.8,135C1031.6,130.5 1030.7,124.7 1027.6,122Z" fill="#ffffff" stroke="#6a7078" stroke-width="1.1"/>
<path d="M1016.1,147C1013.9,145 1005.3,140.7 1003.6,141C1001.8,141.3 1003.4,147 1005.7,149C1007.9,151 1015.4,153.3 1017.2,153C1018.9,152.7 1018.4,149 1016.1,147Z" fill="#e4e7ef"/>
<path d="M1023.4,131C1022,131.8 1018.2,136 1015.1,136C1011.9,136 1006.4,131.8 1004.6,131" fill="none" stroke="#d5d9e2" stroke-width="3.2" stroke-linecap="round"/>
<path d="M1023.4,131C1022,131.8 1018.2,136 1015.1,136C1011.9,136 1006.4,131.8 1004.6,131" fill="none" stroke="#7f858f" stroke-width="1" stroke-linecap="round"/>
<path d="M1016.1,108C1015.8,102.8 1013.3,101 1010.9,99C1008.5,97 1004.6,95.8 1001.5,96C998.4,96.2 994.3,97.3 992.1,100C989.8,102.7 988.3,107.7 987.9,112C987.6,116.3 988.4,122.2 990,126C991.6,129.8 994.7,133 997.3,135C999.9,137 1003.1,138.8 1005.7,138C1008.3,137.2 1011.2,135 1013,130C1014.7,125 1016.5,113.2 1016.1,108Z" fill="#ffffff" stroke="#6a7078" stroke-width="1.1"/>
<path d="M1006.7,128C1004.4,125.2 994.7,120.2 992.1,120C989.5,119.8 990,124.7 991,127C992.1,129.3 995.9,132.3 998.4,134C1000.8,135.7 1004.3,138 1005.7,137C1007.1,136 1009,130.8 1006.7,128Z" fill="#e4e7ef"/>
<path d="M990,97C988.8,93.2 985.6,90.7 982.7,89C979.7,87.3 975.5,86.7 972.2,87C968.9,87.3 964.9,88.2 962.8,91C960.7,93.8 960.2,99.5 959.7,104C959.2,108.5 959.2,114.7 959.7,118C960.2,121.3 960.2,122.7 962.8,124C965.4,125.3 971.4,126.2 975.4,126C979.4,125.8 984.4,125.3 986.9,123C989.3,120.7 989.5,116.3 990,112C990.5,107.7 991.2,100.8 990,97Z" fill="#ffffff" stroke="#6a7078" stroke-width="1.1"/>
<path d="M986.9,118C984.9,117.7 979.4,120.8 975.4,121C971.4,121.2 964.9,118.5 962.8,119C960.7,119.5 960.7,122.8 962.8,124C964.9,125.2 971.4,126.2 975.4,126C979.4,125.8 984.9,124.3 986.9,123C988.8,121.7 988.8,118.3 986.9,118Z" fill="#e4e7ef"/>
<path d="M959.7,92C958.4,88.2 955.7,84.9 952.4,83C949.1,81.1 943.8,80.5 939.8,80.5C935.8,80.5 931.5,81.1 928.3,83C925.2,84.9 922.3,87.8 921,92C919.7,96.2 920.3,103.2 920.5,108C920.7,112.8 920.2,118.3 922.1,121C923.9,123.7 926.8,123.5 931.5,124C936.2,124.5 945.8,124.7 950.3,124C954.8,123.3 957,123 958.6,120C960.3,117 959.9,110.7 960.1,106C960.3,101.3 961,95.8 959.7,92Z" fill="#ffffff" stroke="#6a7078" stroke-width="1.1"/>
<path d="M956.6,117C953.9,117 947.5,120 941.9,120C936.3,120 926.2,116.8 923.1,117C920,117.2 921.7,119.8 923.1,121C924.5,122.2 926.9,123.5 931.5,124C936,124.5 945.9,124.7 950.3,124C954.6,123.3 956.6,121.2 957.6,120C958.6,118.8 959.2,117 956.6,117Z" fill="#e4e7ef"/>
<path d="M789,380C790.7,376.8 796.7,376.5 800,377C803.3,377.5 807,379.2 809,383C811,386.8 811.2,393 812,400C812.8,407 813.5,418 814,425C814.5,432 815.5,439.5 815,442C814.5,444.5 812.8,442.7 811,440C809.2,437.3 806.5,431 804,426C801.5,421 798.3,415 796,410C793.7,405 791.2,401 790,396C788.8,391 787.3,383.2 789,380Z" fill="#ffffff" stroke="#6a7078" stroke-width="1.1"/>
<path d="M779,353C781,350.3 785.8,349.2 790,349C794.2,348.8 800.8,349.5 804,352C807.2,354.5 808.7,359.8 809,364C809.3,368.2 808.5,374 806,377C803.5,380 798,381.8 794,382C790,382.2 784.7,380.8 782,378C779.3,375.2 778.5,369.2 778,365C777.5,360.8 777,355.7 779,353Z" fill="#ffffff" stroke="#6a7078" stroke-width="1.1"/>
<path d="M784,362C786,362.7 792.3,366 796,366C799.7,366 804.3,362.7 806,362" fill="none" stroke="#d5d9e2" stroke-width="3.2" stroke-linecap="round"/>
<path d="M784,362C786,362.7 792.3,366 796,366C799.7,366 804.3,362.7 806,362" fill="none" stroke="#7f858f" stroke-width="1" stroke-linecap="round"/>
<path d="M777,330C779.3,327.5 785.2,326.2 790,326C794.8,325.8 802.5,326.7 806,329C809.5,331.3 810.7,336.2 811,340C811.3,343.8 810.7,349.3 808,352C805.3,354.7 799.5,355.8 795,356C790.5,356.2 784.2,355.5 781,353C777.8,350.5 776.7,344.8 776,341C775.3,337.2 774.7,332.5 777,330Z" fill="#ffffff" stroke="#6a7078" stroke-width="1.1"/>
<path d="M782,338C784.2,338.8 791,343.2 795,343C799,342.8 804.2,338 806,337" fill="none" stroke="#d5d9e2" stroke-width="3.2" stroke-linecap="round"/>
<path d="M795,343C795,344.5 795,350.5 795,352" fill="none" stroke="#d5d9e2" stroke-width="3.2" stroke-linecap="round"/>
<path d="M782,338C784.2,338.8 791,343.2 795,343C799,342.8 804.2,338 806,337" fill="none" stroke="#7f858f" stroke-width="1" stroke-linecap="round"/>
<path d="M795,343C795,344.5 795,350.5 795,352" fill="none" stroke="#7f858f" stroke-width="1" stroke-linecap="round"/>
<path d="M1063,380C1061.3,376.8 1055.3,376.5 1052,377C1048.7,377.5 1045,379.2 1043,383C1041,386.8 1040.8,393 1040,400C1039.2,407 1038.5,418 1038,425C1037.5,432 1036.5,439.5 1037,442C1037.5,444.5 1039.2,442.7 1041,440C1042.8,437.3 1045.5,431 1048,426C1050.5,421 1053.7,415 1056,410C1058.3,405 1060.8,401 1062,396C1063.2,391 1064.7,383.2 1063,380Z" fill="#ffffff" stroke="#6a7078" stroke-width="1.1"/>
<path d="M1073,353C1071,350.3 1066.2,349.2 1062,349C1057.8,348.8 1051.2,349.5 1048,352C1044.8,354.5 1043.3,359.8 1043,364C1042.7,368.2 1043.5,374 1046,377C1048.5,380 1054,381.8 1058,382C1062,382.2 1067.3,380.8 1070,378C1072.7,375.2 1073.5,369.2 1074,365C1074.5,360.8 1075,355.7 1073,353Z" fill="#ffffff" stroke="#6a7078" stroke-width="1.1"/>
<path d="M1068,362C1066,362.7 1059.7,366 1056,366C1052.3,366 1047.7,362.7 1046,362" fill="none" stroke="#d5d9e2" stroke-width="3.2" stroke-linecap="round"/>
<path d="M1068,362C1066,362.7 1059.7,366 1056,366C1052.3,366 1047.7,362.7 1046,362" fill="none" stroke="#7f858f" stroke-width="1" stroke-linecap="round"/>
<path d="M1075,330C1072.7,327.5 1066.8,326.2 1062,326C1057.2,325.8 1049.5,326.7 1046,329C1042.5,331.3 1041.3,336.2 1041,340C1040.7,343.8 1041.3,349.3 1044,352C1046.7,354.7 1052.5,355.8 1057,356C1061.5,356.2 1067.8,355.5 1071,353C1074.2,350.5 1075.3,344.8 1076,341C1076.7,337.2 1077.3,332.5 1075,330Z" fill="#ffffff" stroke="#6a7078" stroke-width="1.1"/>
<path d="M1070,338C1067.8,338.8 1061,343.2 1057,343C1053,342.8 1047.8,338 1046,337" fill="none" stroke="#d5d9e2" stroke-width="3.2" stroke-linecap="round"/>
<path d="M1057,343C1057,344.5 1057,350.5 1057,352" fill="none" stroke="#d5d9e2" stroke-width="3.2" stroke-linecap="round"/>
<path d="M1070,338C1067.8,338.8 1061,343.2 1057,343C1053,342.8 1047.8,338 1046,337" fill="none" stroke="#7f858f" stroke-width="1" stroke-linecap="round"/>
<path d="M1057,343C1057,344.5 1057,350.5 1057,352" fill="none" stroke="#7f858f" stroke-width="1" stroke-linecap="round"/>
<clipPath id="cTg"><path d="M820.5,321.5C825,317.5 830,311.4 835,308C840,304.6 844,303 850.7,301C857.4,299 866.6,297.2 875,296C883.4,294.8 892.5,294.5 901,294C909.5,293.5 917.7,293 926,293C934.3,293 942.8,293.5 951,294C959.2,294.5 966.7,294.8 975,296C983.3,297.2 994.2,299 1001,301C1007.8,303 1011.8,304.6 1016,308C1020.2,311.4 1022.5,317 1026.5,321.5C1030.5,326 1036.4,330.2 1040,335C1043.6,339.8 1046.2,343.8 1048,350C1049.8,356.2 1050.6,364.5 1050.6,372C1050.6,379.5 1049.4,388.5 1048,395C1046.6,401.5 1043.8,403.5 1042,411C1040.2,418.5 1037.9,433 1037,440C1036.1,447 1037.8,446.3 1036.4,453C1035,459.7 1031.6,470.7 1028.5,480C1025.4,489.3 1021.8,498.8 1017.8,509C1013.8,519.2 1009,531.2 1004.5,541C1000,550.8 995.4,560.1 991,567.6C986.6,575.1 982.8,581.1 978,586C973.2,590.9 967.3,594.3 962,597C956.7,599.7 952.2,600.9 946,602C939.8,603.1 931.9,603.7 924.8,603.5C917.7,603.3 909.7,602.4 903.5,600.8C897.3,599.2 892.5,597.3 887.6,594C882.7,590.7 878.4,587.2 874,581C869.6,574.8 865.4,565.5 861,557C856.6,548.5 852.1,539.3 847.7,530C843.3,520.7 838.4,510.2 834.4,501C830.4,491.8 826.7,482.9 823.8,474.5C820.9,466.1 819,458 817,450.6C815,443.2 813.5,437.3 812,430C810.5,422.7 809.7,414.5 808,407C806.3,399.5 803.3,390.8 802,385C800.7,379.2 799.8,378.8 800,372C800.2,365.2 801.7,351.2 803,344.5C804.3,337.8 805.1,335.8 808,332C810.9,328.2 816,325.5 820.5,321.5Z"/></clipPath>
<path d="M820.5,321.5C825,317.5 830,311.4 835,308C840,304.6 844,303 850.7,301C857.4,299 866.6,297.2 875,296C883.4,294.8 892.5,294.5 901,294C909.5,293.5 917.7,293 926,293C934.3,293 942.8,293.5 951,294C959.2,294.5 966.7,294.8 975,296C983.3,297.2 994.2,299 1001,301C1007.8,303 1011.8,304.6 1016,308C1020.2,311.4 1022.5,317 1026.5,321.5C1030.5,326 1036.4,330.2 1040,335C1043.6,339.8 1046.2,343.8 1048,350C1049.8,356.2 1050.6,364.5 1050.6,372C1050.6,379.5 1049.4,388.5 1048,395C1046.6,401.5 1043.8,403.5 1042,411C1040.2,418.5 1037.9,433 1037,440C1036.1,447 1037.8,446.3 1036.4,453C1035,459.7 1031.6,470.7 1028.5,480C1025.4,489.3 1021.8,498.8 1017.8,509C1013.8,519.2 1009,531.2 1004.5,541C1000,550.8 995.4,560.1 991,567.6C986.6,575.1 982.8,581.1 978,586C973.2,590.9 967.3,594.3 962,597C956.7,599.7 952.2,600.9 946,602C939.8,603.1 931.9,603.7 924.8,603.5C917.7,603.3 909.7,602.4 903.5,600.8C897.3,599.2 892.5,597.3 887.6,594C882.7,590.7 878.4,587.2 874,581C869.6,574.8 865.4,565.5 861,557C856.6,548.5 852.1,539.3 847.7,530C843.3,520.7 838.4,510.2 834.4,501C830.4,491.8 826.7,482.9 823.8,474.5C820.9,466.1 819,458 817,450.6C815,443.2 813.5,437.3 812,430C810.5,422.7 809.7,414.5 808,407C806.3,399.5 803.3,390.8 802,385C800.7,379.2 799.8,378.8 800,372C800.2,365.2 801.7,351.2 803,344.5C804.3,337.8 805.1,335.8 808,332C810.9,328.2 816,325.5 820.5,321.5Z" fill="url(#gTg)"/>
<g clip-path="url(#cTg)">
<path d="M808,407C809.5,414.3 812.6,434.9 817,450.6C821.4,466.3 827.1,483.3 834.4,501C841.7,518.7 852.1,541.5 861,557C869.9,572.5 877,586.2 887.6,594C898.2,601.8 918.6,601.9 924.8,603.5" fill="none" stroke="#e67a64" stroke-width="14" opacity="0.55"/>
<path d="M1042,411C1041.1,418 1040.4,436.7 1036.4,453C1032.4,469.3 1025.4,489.9 1017.8,509C1010.2,528.1 1000.3,552.9 991,567.6C981.7,582.3 973,591 962,597C951,603 931,602.4 924.8,603.5" fill="none" stroke="#e67a64" stroke-width="14" opacity="0.55"/>
<path d="M921,392C921.2,401.7 921.5,428.7 922,450C922.5,471.3 923.7,495 924,520C924.3,545 924,586.7 924,600" fill="none" stroke="#f8b7a5" stroke-width="3.5" opacity="0.9"/>
<path d="M923,392C923.2,401.7 923.5,428.7 924,450C924.5,471.3 925.7,495 926,520C926.3,545 926,586.7 926,600" fill="none" stroke="#e47862" stroke-width="1" opacity="0.9"/>
<clipPath id="cPr"><path d="M796,383C798.8,385.2 805.7,394.5 813,396C820.3,397.5 831.2,394.7 840,392C848.8,389.3 857.2,383.7 866,380C874.8,376.3 885.8,372.3 893,370C900.2,367.7 902.8,367.2 909,366C915.2,364.8 923,362.8 930,363C937,363.2 943.9,364.6 951,367C958.1,369.4 964.6,375 972.6,377.7C980.6,380.4 990.1,380.8 999,383C1007.9,385.2 1017.8,389.2 1025.8,391C1033.8,392.8 1042,395.5 1047,393.7C1052,391.9 1054.5,382.3 1056,380L1060,280L790,280Z"/></clipPath>
<path d="M796,383C798.8,385.2 805.7,394.5 813,396C820.3,397.5 831.2,394.7 840,392C848.8,389.3 857.2,383.7 866,380C874.8,376.3 885.8,372.3 893,370C900.2,367.7 902.8,367.2 909,366C915.2,364.8 923,362.8 930,363C937,363.2 943.9,364.6 951,367C958.1,369.4 964.6,375 972.6,377.7C980.6,380.4 990.1,380.8 999,383C1007.9,385.2 1017.8,389.2 1025.8,391C1033.8,392.8 1042,395.5 1047,393.7C1052,391.9 1054.5,382.3 1056,380L1060,280L790,280Z" fill="#ec786c"/>
<g clip-path="url(#cPr)">
<ellipse cx="857.1" cy="394.1" rx="7.4" ry="6" fill="#f3958a" stroke="#e5625a" stroke-width="1"/>
<ellipse cx="855.7" cy="392.3" rx="3.5" ry="2.5" fill="#f7ab9e" opacity="0.7"/>
<circle cx="857.1" cy="394.1" r="0.8" fill="#e2584e"/>
<ellipse cx="977.6" cy="302.9" rx="8" ry="6.5" fill="#f3958a" stroke="#e5625a" stroke-width="1"/>
<ellipse cx="976.1" cy="301" rx="3.8" ry="2.7" fill="#f7ab9e" opacity="0.7"/>
<circle cx="977.6" cy="302.9" r="0.8" fill="#e2584e"/>
<ellipse cx="1051.8" cy="315.8" rx="9.9" ry="8" fill="#f3958a" stroke="#e5625a" stroke-width="1"/>
<ellipse cx="1049.9" cy="313.4" rx="4.7" ry="3.3" fill="#f7ab9e" opacity="0.7"/>
<circle cx="1051.8" cy="315.8" r="0.8" fill="#e2584e"/>
<ellipse cx="915.7" cy="341.1" rx="9.2" ry="7.4" fill="#f3958a" stroke="#e5625a" stroke-width="1"/>
<ellipse cx="914" cy="338.9" rx="4.4" ry="3.1" fill="#f7ab9e" opacity="0.7"/>
<circle cx="915.7" cy="341.1" r="0.8" fill="#e2584e"/>
<ellipse cx="848.4" cy="380.4" rx="7.2" ry="5.9" fill="#f3958a" stroke="#e5625a" stroke-width="1"/>
<ellipse cx="847.1" cy="378.6" rx="3.5" ry="2.4" fill="#f7ab9e" opacity="0.7"/>
<circle cx="848.4" cy="380.4" r="0.8" fill="#e2584e"/>
<ellipse cx="859" cy="296.1" rx="8.1" ry="6.5" fill="#f3958a" stroke="#e5625a" stroke-width="1"/>
<ellipse cx="857.5" cy="294.2" rx="3.9" ry="2.7" fill="#f7ab9e" opacity="0.7"/>
<circle cx="859" cy="296.1" r="0.8" fill="#e2584e"/>
<ellipse cx="902.7" cy="387.8" rx="8.6" ry="7" fill="#f3958a" stroke="#e5625a" stroke-width="1"/>
<ellipse cx="901.1" cy="385.8" rx="4.1" ry="2.9" fill="#f7ab9e" opacity="0.7"/>
<circle cx="902.7" cy="387.8" r="0.8" fill="#e2584e"/>
<ellipse cx="828.7" cy="320.9" rx="11.5" ry="9.3" fill="#f3958a" stroke="#e5625a" stroke-width="1"/>
<ellipse cx="826.5" cy="318.1" rx="5.5" ry="3.8" fill="#f7ab9e" opacity="0.7"/>
<circle cx="828.7" cy="320.9" r="0.8" fill="#e2584e"/>
<ellipse cx="815.9" cy="358.5" rx="8.6" ry="7" fill="#f3958a" stroke="#e5625a" stroke-width="1"/>
<ellipse cx="814.3" cy="356.4" rx="4.1" ry="2.9" fill="#f7ab9e" opacity="0.7"/>
<circle cx="815.9" cy="358.5" r="0.8" fill="#e2584e"/>
<ellipse cx="966.5" cy="329.2" rx="10.1" ry="8.2" fill="#f3958a" stroke="#e5625a" stroke-width="1"/>
<ellipse cx="964.6" cy="326.8" rx="4.8" ry="3.4" fill="#f7ab9e" opacity="0.7"/>
<circle cx="966.5" cy="329.2" r="0.8" fill="#e2584e"/>
<ellipse cx="925.4" cy="361.6" rx="11.1" ry="9" fill="#f3958a" stroke="#e5625a" stroke-width="1"/>
<ellipse cx="923.3" cy="358.9" rx="5.3" ry="3.7" fill="#f7ab9e" opacity="0.7"/>
<circle cx="925.4" cy="361.6" r="0.8" fill="#e2584e"/>
<ellipse cx="946.5" cy="308.8" rx="7.1" ry="5.8" fill="#f3958a" stroke="#e5625a" stroke-width="1"/>
<ellipse cx="945.2" cy="307.1" rx="3.4" ry="2.4" fill="#f7ab9e" opacity="0.7"/>
<circle cx="946.5" cy="308.8" r="0.8" fill="#e2584e"/>
<ellipse cx="1038.4" cy="344.8" rx="7.7" ry="6.3" fill="#f3958a" stroke="#e5625a" stroke-width="1"/>
<ellipse cx="1036.9" cy="343" rx="3.7" ry="2.6" fill="#f7ab9e" opacity="0.7"/>
<circle cx="1038.4" cy="344.8" r="0.8" fill="#e2584e"/>
<ellipse cx="1022" cy="323.7" rx="8.5" ry="6.9" fill="#f3958a" stroke="#e5625a" stroke-width="1"/>
<ellipse cx="1020.4" cy="321.7" rx="4.1" ry="2.8" fill="#f7ab9e" opacity="0.7"/>
<circle cx="1022" cy="323.7" r="0.8" fill="#e2584e"/>
<ellipse cx="1021.3" cy="308" rx="10.4" ry="8.4" fill="#f3958a" stroke="#e5625a" stroke-width="1"/>
<ellipse cx="1019.3" cy="305.6" rx="5" ry="3.5" fill="#f7ab9e" opacity="0.7"/>
<circle cx="1021.3" cy="308" r="0.8" fill="#e2584e"/>
<ellipse cx="1039.4" cy="381.7" rx="9.2" ry="7.5" fill="#f3958a" stroke="#e5625a" stroke-width="1"/>
<ellipse cx="1037.6" cy="379.5" rx="4.4" ry="3.1" fill="#f7ab9e" opacity="0.7"/>
<circle cx="1039.4" cy="381.7" r="0.8" fill="#e2584e"/>
<ellipse cx="849.8" cy="309.6" rx="9.3" ry="7.5" fill="#f3958a" stroke="#e5625a" stroke-width="1"/>
<ellipse cx="848" cy="307.4" rx="4.4" ry="3.1" fill="#f7ab9e" opacity="0.7"/>
<circle cx="849.8" cy="309.6" r="0.8" fill="#e2584e"/>
<ellipse cx="928.5" cy="301.4" rx="11.1" ry="9" fill="#f3958a" stroke="#e5625a" stroke-width="1"/>
<ellipse cx="926.4" cy="298.8" rx="5.3" ry="3.7" fill="#f7ab9e" opacity="0.7"/>
<circle cx="928.5" cy="301.4" r="0.8" fill="#e2584e"/>
<ellipse cx="867.2" cy="338" rx="8.6" ry="7" fill="#f3958a" stroke="#e5625a" stroke-width="1"/>
<ellipse cx="865.6" cy="336" rx="4.1" ry="2.9" fill="#f7ab9e" opacity="0.7"/>
<circle cx="867.2" cy="338" r="0.8" fill="#e2584e"/>
<ellipse cx="1010.2" cy="386.7" rx="7.7" ry="6.2" fill="#f3958a" stroke="#e5625a" stroke-width="1"/>
<ellipse cx="1008.8" cy="384.9" rx="3.6" ry="2.6" fill="#f7ab9e" opacity="0.7"/>
<circle cx="1010.2" cy="386.7" r="0.8" fill="#e2584e"/>
<ellipse cx="899.9" cy="311.3" rx="10" ry="8.1" fill="#f3958a" stroke="#e5625a" stroke-width="1"/>
<ellipse cx="898" cy="308.9" rx="4.7" ry="3.3" fill="#f7ab9e" opacity="0.7"/>
<circle cx="899.9" cy="311.3" r="0.8" fill="#e2584e"/>
<ellipse cx="875.6" cy="295.4" rx="10.4" ry="8.4" fill="#f3958a" stroke="#e5625a" stroke-width="1"/>
<ellipse cx="873.6" cy="292.9" rx="5" ry="3.5" fill="#f7ab9e" opacity="0.7"/>
<circle cx="875.6" cy="295.4" r="0.8" fill="#e2584e"/>
<ellipse cx="905.3" cy="355.2" rx="8.2" ry="6.6" fill="#f3958a" stroke="#e5625a" stroke-width="1"/>
<ellipse cx="903.8" cy="353.3" rx="3.9" ry="2.7" fill="#f7ab9e" opacity="0.7"/>
<circle cx="905.3" cy="355.2" r="0.8" fill="#e2584e"/>
<ellipse cx="824" cy="302.9" rx="7.3" ry="5.9" fill="#f3958a" stroke="#e5625a" stroke-width="1"/>
<ellipse cx="822.6" cy="301.1" rx="3.5" ry="2.4" fill="#f7ab9e" opacity="0.7"/>
<circle cx="824" cy="302.9" r="0.8" fill="#e2584e"/>
<ellipse cx="931.3" cy="331.5" rx="10.6" ry="8.6" fill="#f3958a" stroke="#e5625a" stroke-width="1"/>
<ellipse cx="929.3" cy="328.9" rx="5.1" ry="3.5" fill="#f7ab9e" opacity="0.7"/>
<circle cx="931.3" cy="331.5" r="0.8" fill="#e2584e"/>
<ellipse cx="888.6" cy="394.4" rx="6.8" ry="5.5" fill="#f3958a" stroke="#e5625a" stroke-width="1"/>
<ellipse cx="887.3" cy="392.7" rx="3.3" ry="2.3" fill="#f7ab9e" opacity="0.7"/>
<circle cx="888.6" cy="394.4" r="0.8" fill="#e2584e"/>
<ellipse cx="808.3" cy="394.4" rx="10.4" ry="8.4" fill="#f3958a" stroke="#e5625a" stroke-width="1"/>
<ellipse cx="806.4" cy="391.9" rx="5" ry="3.5" fill="#f7ab9e" opacity="0.7"/>
<circle cx="808.3" cy="394.4" r="0.8" fill="#e2584e"/>
<ellipse cx="1049.6" cy="354.3" rx="7.7" ry="6.2" fill="#f3958a" stroke="#e5625a" stroke-width="1"/>
<ellipse cx="1048.1" cy="352.5" rx="3.7" ry="2.6" fill="#f7ab9e" opacity="0.7"/>
<circle cx="1049.6" cy="354.3" r="0.8" fill="#e2584e"/>
<ellipse cx="952.6" cy="345.7" rx="9.1" ry="7.3" fill="#f3958a" stroke="#e5625a" stroke-width="1"/>
<ellipse cx="950.8" cy="343.6" rx="4.3" ry="3" fill="#f7ab9e" opacity="0.7"/>
<circle cx="952.6" cy="345.7" r="0.8" fill="#e2584e"/>
<ellipse cx="982.8" cy="368.4" rx="9.1" ry="7.3" fill="#f3958a" stroke="#e5625a" stroke-width="1"/>
<ellipse cx="981.1" cy="366.3" rx="4.3" ry="3" fill="#f7ab9e" opacity="0.7"/>
<circle cx="982.8" cy="368.4" r="0.8" fill="#e2584e"/>
<ellipse cx="899.2" cy="331.5" rx="7.9" ry="6.4" fill="#f3958a" stroke="#e5625a" stroke-width="1"/>
<ellipse cx="897.7" cy="329.6" rx="3.8" ry="2.6" fill="#f7ab9e" opacity="0.7"/>
<circle cx="899.2" cy="331.5" r="0.8" fill="#e2584e"/>
<ellipse cx="849.8" cy="340.4" rx="7.3" ry="5.9" fill="#f3958a" stroke="#e5625a" stroke-width="1"/>
<ellipse cx="848.4" cy="338.7" rx="3.5" ry="2.4" fill="#f7ab9e" opacity="0.7"/>
<circle cx="849.8" cy="340.4" r="0.8" fill="#e2584e"/>
<ellipse cx="805.7" cy="331.9" rx="8.9" ry="7.2" fill="#f3958a" stroke="#e5625a" stroke-width="1"/>
<ellipse cx="804" cy="329.8" rx="4.2" ry="3" fill="#f7ab9e" opacity="0.7"/>
<circle cx="805.7" cy="331.9" r="0.8" fill="#e2584e"/>
<ellipse cx="963.1" cy="294.7" rx="9.7" ry="7.9" fill="#f3958a" stroke="#e5625a" stroke-width="1"/>
<ellipse cx="961.3" cy="292.4" rx="4.6" ry="3.2" fill="#f7ab9e" opacity="0.7"/>
<circle cx="963.1" cy="294.7" r="0.8" fill="#e2584e"/>
<ellipse cx="937.9" cy="395.6" rx="8.6" ry="6.9" fill="#f3958a" stroke="#e5625a" stroke-width="1"/>
<ellipse cx="936.3" cy="393.5" rx="4.1" ry="2.9" fill="#f7ab9e" opacity="0.7"/>
<circle cx="937.9" cy="395.6" r="0.8" fill="#e2584e"/>
<ellipse cx="957.5" cy="393.5" rx="10.5" ry="8.5" fill="#f3958a" stroke="#e5625a" stroke-width="1"/>
<ellipse cx="955.5" cy="391" rx="5" ry="3.5" fill="#f7ab9e" opacity="0.7"/>
<circle cx="957.5" cy="393.5" r="0.8" fill="#e2584e"/>
<ellipse cx="874.5" cy="382" rx="7.7" ry="6.3" fill="#f3958a" stroke="#e5625a" stroke-width="1"/>
<ellipse cx="873.1" cy="380.1" rx="3.7" ry="2.6" fill="#f7ab9e" opacity="0.7"/>
<circle cx="874.5" cy="382" r="0.8" fill="#e2584e"/>
<ellipse cx="878.6" cy="324.2" rx="9.7" ry="7.9" fill="#f3958a" stroke="#e5625a" stroke-width="1"/>
<ellipse cx="876.8" cy="321.9" rx="4.6" ry="3.2" fill="#f7ab9e" opacity="0.7"/>
<circle cx="878.6" cy="324.2" r="0.8" fill="#e2584e"/>
<ellipse cx="1012.3" cy="365.2" rx="11.2" ry="9.1" fill="#f3958a" stroke="#e5625a" stroke-width="1"/>
<ellipse cx="1010.2" cy="362.5" rx="5.4" ry="3.7" fill="#f7ab9e" opacity="0.7"/>
<circle cx="1012.3" cy="365.2" r="0.8" fill="#e2584e"/>
<ellipse cx="933.3" cy="381.2" rx="8.1" ry="6.6" fill="#f3958a" stroke="#e5625a" stroke-width="1"/>
<ellipse cx="931.7" cy="379.2" rx="3.9" ry="2.7" fill="#f7ab9e" opacity="0.7"/>
<circle cx="933.3" cy="381.2" r="0.8" fill="#e2584e"/>
<ellipse cx="817.3" cy="370.2" rx="8.1" ry="6.6" fill="#f3958a" stroke="#e5625a" stroke-width="1"/>
<ellipse cx="815.8" cy="368.3" rx="3.9" ry="2.7" fill="#f7ab9e" opacity="0.7"/>
<circle cx="817.3" cy="370.2" r="0.8" fill="#e2584e"/>
<ellipse cx="892.7" cy="375.2" rx="10.6" ry="8.6" fill="#f3958a" stroke="#e5625a" stroke-width="1"/>
<ellipse cx="890.7" cy="372.7" rx="5" ry="3.5" fill="#f7ab9e" opacity="0.7"/>
<circle cx="892.7" cy="375.2" r="0.8" fill="#e2584e"/>
<ellipse cx="834.5" cy="357.5" rx="10.1" ry="8.1" fill="#f3958a" stroke="#e5625a" stroke-width="1"/>
<ellipse cx="832.6" cy="355.1" rx="4.8" ry="3.4" fill="#f7ab9e" opacity="0.7"/>
<circle cx="834.5" cy="357.5" r="0.8" fill="#e2584e"/>
<ellipse cx="821.9" cy="342.1" rx="10.9" ry="8.8" fill="#f3958a" stroke="#e5625a" stroke-width="1"/>
<ellipse cx="819.9" cy="339.5" rx="5.2" ry="3.6" fill="#f7ab9e" opacity="0.7"/>
<circle cx="821.9" cy="342.1" r="0.8" fill="#e2584e"/>
<ellipse cx="1028.2" cy="390.2" rx="7.3" ry="5.9" fill="#f3958a" stroke="#e5625a" stroke-width="1"/>
<ellipse cx="1026.8" cy="388.5" rx="3.5" ry="2.4" fill="#f7ab9e" opacity="0.7"/>
<circle cx="1028.2" cy="390.2" r="0.8" fill="#e2584e"/>
<ellipse cx="951.1" cy="327.2" rx="8.2" ry="6.7" fill="#f3958a" stroke="#e5625a" stroke-width="1"/>
<ellipse cx="949.6" cy="325.2" rx="3.9" ry="2.7" fill="#f7ab9e" opacity="0.7"/>
<circle cx="951.1" cy="327.2" r="0.8" fill="#e2584e"/>
<ellipse cx="908.7" cy="375.3" rx="7.3" ry="5.9" fill="#f3958a" stroke="#e5625a" stroke-width="1"/>
<ellipse cx="907.3" cy="373.6" rx="3.5" ry="2.4" fill="#f7ab9e" opacity="0.7"/>
<circle cx="908.7" cy="375.3" r="0.8" fill="#e2584e"/>
<ellipse cx="856.1" cy="324.5" rx="7.7" ry="6.2" fill="#f3958a" stroke="#e5625a" stroke-width="1"/>
<ellipse cx="854.6" cy="322.7" rx="3.6" ry="2.6" fill="#f7ab9e" opacity="0.7"/>
<circle cx="856.1" cy="324.5" r="0.8" fill="#e2584e"/>
<ellipse cx="985.5" cy="343.8" rx="9.5" ry="7.7" fill="#f3958a" stroke="#e5625a" stroke-width="1"/>
<ellipse cx="983.7" cy="341.5" rx="4.5" ry="3.2" fill="#f7ab9e" opacity="0.7"/>
<circle cx="985.5" cy="343.8" r="0.8" fill="#e2584e"/>
<ellipse cx="1012.7" cy="348.9" rx="8.3" ry="6.7" fill="#f3958a" stroke="#e5625a" stroke-width="1"/>
<ellipse cx="1011.1" cy="346.9" rx="3.9" ry="2.8" fill="#f7ab9e" opacity="0.7"/>
<circle cx="1012.7" cy="348.9" r="0.8" fill="#e2584e"/>
<ellipse cx="971.4" cy="343.5" rx="7.4" ry="6" fill="#f3958a" stroke="#e5625a" stroke-width="1"/>
<ellipse cx="970" cy="341.7" rx="3.5" ry="2.5" fill="#f7ab9e" opacity="0.7"/>
<circle cx="971.4" cy="343.5" r="0.8" fill="#e2584e"/>
<ellipse cx="899.3" cy="297.6" rx="8.6" ry="6.9" fill="#f3958a" stroke="#e5625a" stroke-width="1"/>
<ellipse cx="897.7" cy="295.6" rx="4.1" ry="2.9" fill="#f7ab9e" opacity="0.7"/>
<circle cx="899.3" cy="297.6" r="0.8" fill="#e2584e"/>
<ellipse cx="1038.1" cy="330.1" rx="10.1" ry="8.2" fill="#f3958a" stroke="#e5625a" stroke-width="1"/>
<ellipse cx="1036.1" cy="327.7" rx="4.8" ry="3.4" fill="#f7ab9e" opacity="0.7"/>
<circle cx="1038.1" cy="330.1" r="0.8" fill="#e2584e"/>
<ellipse cx="832.1" cy="394.3" rx="8.8" ry="7.2" fill="#f3958a" stroke="#e5625a" stroke-width="1"/>
<ellipse cx="830.4" cy="392.2" rx="4.2" ry="2.9" fill="#f7ab9e" opacity="0.7"/>
<circle cx="832.1" cy="394.3" r="0.8" fill="#e2584e"/>
<ellipse cx="1051.8" cy="298.1" rx="9.7" ry="7.8" fill="#f3958a" stroke="#e5625a" stroke-width="1"/>
<ellipse cx="1049.9" cy="295.8" rx="4.6" ry="3.2" fill="#f7ab9e" opacity="0.7"/>
<circle cx="1051.8" cy="298.1" r="0.8" fill="#e2584e"/>
<ellipse cx="1038.6" cy="361.6" rx="9.1" ry="7.3" fill="#f3958a" stroke="#e5625a" stroke-width="1"/>
<ellipse cx="1036.9" cy="359.5" rx="4.3" ry="3" fill="#f7ab9e" opacity="0.7"/>
<circle cx="1038.6" cy="361.6" r="0.8" fill="#e2584e"/>
<ellipse cx="876" cy="361.3" rx="10.5" ry="8.5" fill="#f3958a" stroke="#e5625a" stroke-width="1"/>
<ellipse cx="874" cy="358.8" rx="5" ry="3.5" fill="#f7ab9e" opacity="0.7"/>
<circle cx="876" cy="361.3" r="0.8" fill="#e2584e"/>
<ellipse cx="945.8" cy="370.6" rx="8.5" ry="6.9" fill="#f3958a" stroke="#e5625a" stroke-width="1"/>
<ellipse cx="944.1" cy="368.6" rx="4.1" ry="2.8" fill="#f7ab9e" opacity="0.7"/>
<circle cx="945.8" cy="370.6" r="0.8" fill="#e2584e"/>
<ellipse cx="854.8" cy="360.1" rx="8" ry="6.5" fill="#f3958a" stroke="#e5625a" stroke-width="1"/>
<ellipse cx="853.3" cy="358.2" rx="3.8" ry="2.7" fill="#f7ab9e" opacity="0.7"/>
<circle cx="854.8" cy="360.1" r="0.8" fill="#e2584e"/>
<ellipse cx="802.8" cy="378.5" rx="8.4" ry="6.8" fill="#f3958a" stroke="#e5625a" stroke-width="1"/>
<ellipse cx="801.2" cy="376.5" rx="4" ry="2.8" fill="#f7ab9e" opacity="0.7"/>
<circle cx="802.8" cy="378.5" r="0.8" fill="#e2584e"/>
<ellipse cx="980.6" cy="396.1" rx="11.1" ry="9" fill="#f3958a" stroke="#e5625a" stroke-width="1"/>
<ellipse cx="978.5" cy="393.5" rx="5.3" ry="3.7" fill="#f7ab9e" opacity="0.7"/>
<circle cx="980.6" cy="396.1" r="0.8" fill="#e2584e"/>
<ellipse cx="807" cy="300.7" rx="9.1" ry="7.4" fill="#f3958a" stroke="#e5625a" stroke-width="1"/>
<ellipse cx="805.3" cy="298.5" rx="4.3" ry="3" fill="#f7ab9e" opacity="0.7"/>
<circle cx="807" cy="300.7" r="0.8" fill="#e2584e"/>
<ellipse cx="975.4" cy="317.5" rx="8.7" ry="7" fill="#f3958a" stroke="#e5625a" stroke-width="1"/>
<ellipse cx="973.7" cy="315.4" rx="4.1" ry="2.9" fill="#f7ab9e" opacity="0.7"/>
<circle cx="975.4" cy="317.5" r="0.8" fill="#e2584e"/>
<ellipse cx="887.2" cy="346.6" rx="11" ry="8.9" fill="#f3958a" stroke="#e5625a" stroke-width="1"/>
<ellipse cx="885.1" cy="344" rx="5.2" ry="3.7" fill="#f7ab9e" opacity="0.7"/>
<circle cx="887.2" cy="346.6" r="0.8" fill="#e2584e"/>
<ellipse cx="918.2" cy="317" rx="10.6" ry="8.6" fill="#f3958a" stroke="#e5625a" stroke-width="1"/>
<ellipse cx="916.1" cy="314.5" rx="5" ry="3.5" fill="#f7ab9e" opacity="0.7"/>
<circle cx="918.2" cy="317" r="0.8" fill="#e2584e"/>
<ellipse cx="993.8" cy="306.3" rx="8.6" ry="7" fill="#f3958a" stroke="#e5625a" stroke-width="1"/>
<ellipse cx="992.1" cy="304.3" rx="4.1" ry="2.9" fill="#f7ab9e" opacity="0.7"/>
<circle cx="993.8" cy="306.3" r="0.8" fill="#e2584e"/>
<ellipse cx="946.3" cy="357.6" rx="7.4" ry="6" fill="#f3958a" stroke="#e5625a" stroke-width="1"/>
<ellipse cx="944.9" cy="355.8" rx="3.5" ry="2.5" fill="#f7ab9e" opacity="0.7"/>
<circle cx="946.3" cy="357.6" r="0.8" fill="#e2584e"/>
<ellipse cx="992.1" cy="385.5" rx="9.4" ry="7.6" fill="#f3958a" stroke="#e5625a" stroke-width="1"/>
<ellipse cx="990.4" cy="383.3" rx="4.5" ry="3.1" fill="#f7ab9e" opacity="0.7"/>
<circle cx="992.1" cy="385.5" r="0.8" fill="#e2584e"/>
<ellipse cx="968.2" cy="365.8" rx="9.3" ry="7.5" fill="#f3958a" stroke="#e5625a" stroke-width="1"/>
<ellipse cx="966.4" cy="363.6" rx="4.4" ry="3.1" fill="#f7ab9e" opacity="0.7"/>
<circle cx="968.2" cy="365.8" r="0.8" fill="#e2584e"/>
<ellipse cx="991.8" cy="294.1" rx="8.2" ry="6.6" fill="#f3958a" stroke="#e5625a" stroke-width="1"/>
<ellipse cx="990.2" cy="292.2" rx="3.9" ry="2.7" fill="#f7ab9e" opacity="0.7"/>
<circle cx="991.8" cy="294.1" r="0.8" fill="#e2584e"/>
<ellipse cx="819.9" cy="382.7" rx="9.7" ry="7.9" fill="#f3958a" stroke="#e5625a" stroke-width="1"/>
<ellipse cx="818.1" cy="380.4" rx="4.6" ry="3.2" fill="#f7ab9e" opacity="0.7"/>
<circle cx="819.9" cy="382.7" r="0.8" fill="#e2584e"/>
<ellipse cx="1035.6" cy="298.4" rx="9" ry="7.3" fill="#f3958a" stroke="#e5625a" stroke-width="1"/>
<ellipse cx="1033.9" cy="296.2" rx="4.3" ry="3" fill="#f7ab9e" opacity="0.7"/>
<circle cx="1035.6" cy="298.4" r="0.8" fill="#e2584e"/>
<ellipse cx="840.8" cy="295.8" rx="8.3" ry="6.8" fill="#f3958a" stroke="#e5625a" stroke-width="1"/>
<ellipse cx="839.2" cy="293.9" rx="4" ry="2.8" fill="#f7ab9e" opacity="0.7"/>
<circle cx="840.8" cy="295.8" r="0.8" fill="#e2584e"/>
<ellipse cx="1012.7" cy="336.6" rx="7.5" ry="6.1" fill="#f3958a" stroke="#e5625a" stroke-width="1"/>
<ellipse cx="1011.3" cy="334.8" rx="3.6" ry="2.5" fill="#f7ab9e" opacity="0.7"/>
<circle cx="1012.7" cy="336.6" r="0.8" fill="#e2584e"/>
<ellipse cx="935.8" cy="315.1" rx="7.1" ry="5.7" fill="#f3958a" stroke="#e5625a" stroke-width="1"/>
<ellipse cx="934.4" cy="313.4" rx="3.4" ry="2.4" fill="#f7ab9e" opacity="0.7"/>
<circle cx="935.8" cy="315.1" r="0.8" fill="#e2584e"/>
<ellipse cx="985" cy="330.1" rx="9.7" ry="7.9" fill="#f3958a" stroke="#e5625a" stroke-width="1"/>
<ellipse cx="983.1" cy="327.8" rx="4.6" ry="3.2" fill="#f7ab9e" opacity="0.7"/>
<circle cx="985" cy="330.1" r="0.8" fill="#e2584e"/>
<ellipse cx="951.1" cy="381.7" rx="7.9" ry="6.4" fill="#f3958a" stroke="#e5625a" stroke-width="1"/>
<ellipse cx="949.6" cy="379.9" rx="3.8" ry="2.6" fill="#f7ab9e" opacity="0.7"/>
<circle cx="951.1" cy="381.7" r="0.8" fill="#e2584e"/>
<ellipse cx="810" cy="316.2" rx="7.1" ry="5.8" fill="#f3958a" stroke="#e5625a" stroke-width="1"/>
<ellipse cx="808.6" cy="314.5" rx="3.4" ry="2.4" fill="#f7ab9e" opacity="0.7"/>
<circle cx="810" cy="316.2" r="0.8" fill="#e2584e"/>
<ellipse cx="1050.8" cy="391.8" rx="7.2" ry="5.9" fill="#f3958a" stroke="#e5625a" stroke-width="1"/>
<ellipse cx="1049.4" cy="390" rx="3.4" ry="2.4" fill="#f7ab9e" opacity="0.7"/>
<circle cx="1050.8" cy="391.8" r="0.8" fill="#e2584e"/>
<ellipse cx="875.5" cy="309" rx="7.3" ry="5.9" fill="#f3958a" stroke="#e5625a" stroke-width="1"/>
<ellipse cx="874.1" cy="307.3" rx="3.5" ry="2.4" fill="#f7ab9e" opacity="0.7"/>
<circle cx="875.5" cy="309" r="0.8" fill="#e2584e"/>
<ellipse cx="975.2" cy="379" rx="7.1" ry="5.8" fill="#f3958a" stroke="#e5625a" stroke-width="1"/>
<ellipse cx="973.8" cy="377.3" rx="3.4" ry="2.4" fill="#f7ab9e" opacity="0.7"/>
<circle cx="975.2" cy="379" r="0.8" fill="#e2584e"/>
<ellipse cx="871.3" cy="349.3" rx="6.8" ry="5.5" fill="#f3958a" stroke="#e5625a" stroke-width="1"/>
<ellipse cx="870" cy="347.7" rx="3.3" ry="2.3" fill="#f7ab9e" opacity="0.7"/>
<circle cx="871.3" cy="349.3" r="0.8" fill="#e2584e"/>
<ellipse cx="946" cy="296.7" rx="7.4" ry="6" fill="#f3958a" stroke="#e5625a" stroke-width="1"/>
<ellipse cx="944.6" cy="294.9" rx="3.5" ry="2.5" fill="#f7ab9e" opacity="0.7"/>
<circle cx="946" cy="296.7" r="0.8" fill="#e2584e"/>
<ellipse cx="1024.1" cy="356.8" rx="7.1" ry="5.8" fill="#f3958a" stroke="#e5625a" stroke-width="1"/>
<ellipse cx="1022.7" cy="355.1" rx="3.4" ry="2.4" fill="#f7ab9e" opacity="0.7"/>
<circle cx="1024.1" cy="356.8" r="0.8" fill="#e2584e"/>
<ellipse cx="1020.5" cy="378.6" rx="7.5" ry="6.1" fill="#f3958a" stroke="#e5625a" stroke-width="1"/>
<ellipse cx="1019.1" cy="376.8" rx="3.6" ry="2.5" fill="#f7ab9e" opacity="0.7"/>
<circle cx="1020.5" cy="378.6" r="0.8" fill="#e2584e"/>
<ellipse cx="1007.8" cy="298.2" rx="10.6" ry="8.6" fill="#f3958a" stroke="#e5625a" stroke-width="1"/>
<ellipse cx="1005.8" cy="295.7" rx="5.1" ry="3.5" fill="#f7ab9e" opacity="0.7"/>
<circle cx="1007.8" cy="298.2" r="0.8" fill="#e2584e"/>
<ellipse cx="916.1" cy="393.2" rx="7.5" ry="6.1" fill="#f3958a" stroke="#e5625a" stroke-width="1"/>
<ellipse cx="914.6" cy="391.4" rx="3.6" ry="2.5" fill="#f7ab9e" opacity="0.7"/>
<circle cx="916.1" cy="393.2" r="0.8" fill="#e2584e"/>
<ellipse cx="1002.2" cy="317.4" rx="10.4" ry="8.4" fill="#f3958a" stroke="#e5625a" stroke-width="1"/>
<ellipse cx="1000.2" cy="314.9" rx="5" ry="3.5" fill="#f7ab9e" opacity="0.7"/>
<circle cx="1002.2" cy="317.4" r="0.8" fill="#e2584e"/>
<ellipse cx="835.6" cy="375.2" rx="9.1" ry="7.4" fill="#f3958a" stroke="#e5625a" stroke-width="1"/>
<ellipse cx="833.8" cy="373" rx="4.4" ry="3" fill="#f7ab9e" opacity="0.7"/>
<circle cx="835.6" cy="375.2" r="0.8" fill="#e2584e"/>
<ellipse cx="860.8" cy="372.1" rx="10.7" ry="8.6" fill="#f3958a" stroke="#e5625a" stroke-width="1"/>
<ellipse cx="858.7" cy="369.6" rx="5.1" ry="3.6" fill="#f7ab9e" opacity="0.7"/>
<circle cx="860.8" cy="372.1" r="0.8" fill="#e2584e"/>
<ellipse cx="981" cy="356" rx="8.9" ry="7.2" fill="#f3958a" stroke="#e5625a" stroke-width="1"/>
<ellipse cx="979.3" cy="353.9" rx="4.2" ry="3" fill="#f7ab9e" opacity="0.7"/>
<circle cx="981" cy="356" r="0.8" fill="#e2584e"/>
<ellipse cx="838.2" cy="336.5" rx="7.5" ry="6.1" fill="#f3958a" stroke="#e5625a" stroke-width="1"/>
<ellipse cx="836.7" cy="334.7" rx="3.6" ry="2.5" fill="#f7ab9e" opacity="0.7"/>
<circle cx="838.2" cy="336.5" r="0.8" fill="#e2584e"/>
<ellipse cx="871.4" cy="395.9" rx="10" ry="8.1" fill="#f3958a" stroke="#e5625a" stroke-width="1"/>
<ellipse cx="869.5" cy="393.5" rx="4.8" ry="3.3" fill="#f7ab9e" opacity="0.7"/>
<circle cx="871.4" cy="395.9" r="0.8" fill="#e2584e"/>
<ellipse cx="962.2" cy="316.7" rx="7" ry="5.6" fill="#f3958a" stroke="#e5625a" stroke-width="1"/>
<ellipse cx="960.9" cy="315" rx="3.3" ry="2.3" fill="#f7ab9e" opacity="0.7"/>
<circle cx="962.2" cy="316.7" r="0.8" fill="#e2584e"/>
<ellipse cx="999.6" cy="355.5" rx="8" ry="6.5" fill="#f3958a" stroke="#e5625a" stroke-width="1"/>
<ellipse cx="998.1" cy="353.6" rx="3.8" ry="2.7" fill="#f7ab9e" opacity="0.7"/>
<circle cx="999.6" cy="355.5" r="0.8" fill="#e2584e"/>
<ellipse cx="1050.9" cy="337" rx="7.8" ry="6.3" fill="#f3958a" stroke="#e5625a" stroke-width="1"/>
<ellipse cx="1049.4" cy="335.2" rx="3.7" ry="2.6" fill="#f7ab9e" opacity="0.7"/>
<circle cx="1050.9" cy="337" r="0.8" fill="#e2584e"/>
<ellipse cx="933.2" cy="346.8" rx="9.3" ry="7.5" fill="#f3958a" stroke="#e5625a" stroke-width="1"/>
<ellipse cx="931.5" cy="344.6" rx="4.4" ry="3.1" fill="#f7ab9e" opacity="0.7"/>
<circle cx="933.2" cy="346.8" r="0.8" fill="#e2584e"/>
<ellipse cx="961.1" cy="355.6" rx="7.6" ry="6.1" fill="#f3958a" stroke="#e5625a" stroke-width="1"/>
<ellipse cx="959.6" cy="353.8" rx="3.6" ry="2.5" fill="#f7ab9e" opacity="0.7"/>
<circle cx="961.1" cy="355.6" r="0.8" fill="#e2584e"/>
<ellipse cx="803.4" cy="352.6" rx="8.2" ry="6.7" fill="#f3958a" stroke="#e5625a" stroke-width="1"/>
<ellipse cx="801.8" cy="350.6" rx="3.9" ry="2.7" fill="#f7ab9e" opacity="0.7"/>
<circle cx="803.4" cy="352.6" r="0.8" fill="#e2584e"/>
<ellipse cx="1051" cy="369.8" rx="7.5" ry="6.1" fill="#f3958a" stroke="#e5625a" stroke-width="1"/>
<ellipse cx="1049.6" cy="368" rx="3.6" ry="2.5" fill="#f7ab9e" opacity="0.7"/>
<circle cx="1051" cy="369.8" r="0.8" fill="#e2584e"/>
<ellipse cx="1000.8" cy="395.8" rx="8.7" ry="7" fill="#f3958a" stroke="#e5625a" stroke-width="1"/>
<ellipse cx="999.1" cy="393.7" rx="4.1" ry="2.9" fill="#f7ab9e" opacity="0.7"/>
<circle cx="1000.8" cy="395.8" r="0.8" fill="#e2584e"/>
<ellipse cx="997.2" cy="372.8" rx="7" ry="5.7" fill="#f3958a" stroke="#e5625a" stroke-width="1"/>
<ellipse cx="995.8" cy="371.1" rx="3.3" ry="2.3" fill="#f7ab9e" opacity="0.7"/>
<circle cx="997.2" cy="372.8" r="0.8" fill="#e2584e"/>
<ellipse cx="1037.8" cy="310.1" rx="7.6" ry="6.2" fill="#f3958a" stroke="#e5625a" stroke-width="1"/>
<ellipse cx="1036.4" cy="308.3" rx="3.6" ry="2.5" fill="#f7ab9e" opacity="0.7"/>
<circle cx="1037.8" cy="310.1" r="0.8" fill="#e2584e"/>
<ellipse cx="1017.8" cy="394.7" rx="6.9" ry="5.6" fill="#f3958a" stroke="#e5625a" stroke-width="1"/>
<ellipse cx="1016.4" cy="393.1" rx="3.3" ry="2.3" fill="#f7ab9e" opacity="0.7"/>
<circle cx="1017.8" cy="394.7" r="0.8" fill="#e2584e"/>
<ellipse cx="859.1" cy="347.7" rx="7.1" ry="5.7" fill="#f3958a" stroke="#e5625a" stroke-width="1"/>
<ellipse cx="857.7" cy="346" rx="3.4" ry="2.4" fill="#f7ab9e" opacity="0.7"/>
<circle cx="859.1" cy="347.7" r="0.8" fill="#e2584e"/>
<ellipse cx="921.8" cy="375.3" rx="6.9" ry="5.6" fill="#f3958a" stroke="#e5625a" stroke-width="1"/>
<ellipse cx="920.5" cy="373.6" rx="3.3" ry="2.3" fill="#f7ab9e" opacity="0.7"/>
<circle cx="921.8" cy="375.3" r="0.8" fill="#e2584e"/>
<ellipse cx="963" cy="377.5" rx="7" ry="5.6" fill="#f3958a" stroke="#e5625a" stroke-width="1"/>
<ellipse cx="961.7" cy="375.8" rx="3.3" ry="2.3" fill="#f7ab9e" opacity="0.7"/>
<circle cx="963" cy="377.5" r="0.8" fill="#e2584e"/>
<ellipse cx="1001.3" cy="332.3" rx="7.3" ry="5.9" fill="#f3958a" stroke="#e5625a" stroke-width="1"/>
<ellipse cx="1000" cy="330.6" rx="3.5" ry="2.4" fill="#f7ab9e" opacity="0.7"/>
<circle cx="1001.3" cy="332.3" r="0.8" fill="#e2584e"/>
<ellipse cx="914.9" cy="296" rx="7.3" ry="5.9" fill="#f3958a" stroke="#e5625a" stroke-width="1"/>
<ellipse cx="913.5" cy="294.3" rx="3.5" ry="2.4" fill="#f7ab9e" opacity="0.7"/>
<circle cx="914.9" cy="296" r="0.8" fill="#e2584e"/>
<ellipse cx="1027" cy="339.5" rx="6.9" ry="5.6" fill="#f3958a" stroke="#e5625a" stroke-width="1"/>
<ellipse cx="1025.7" cy="337.9" rx="3.3" ry="2.3" fill="#f7ab9e" opacity="0.7"/>
<circle cx="1027" cy="339.5" r="0.8" fill="#e2584e"/>
</g>
<ellipse cx="830" cy="407" rx="6.8" ry="6" fill="#f6a795" stroke="#e4745f" stroke-width="1.1"/>
<ellipse cx="830" cy="406.5" rx="4" ry="3.4" fill="#f9bfb0" stroke="#e88572" stroke-width="0.8"/>
<ellipse cx="854" cy="404" rx="6.8" ry="6" fill="#f6a795" stroke="#e4745f" stroke-width="1.1"/>
<ellipse cx="854" cy="403.5" rx="4" ry="3.4" fill="#f9bfb0" stroke="#e88572" stroke-width="0.8"/>
<ellipse cx="877" cy="397.6" rx="6.8" ry="6" fill="#f6a795" stroke="#e4745f" stroke-width="1.1"/>
<ellipse cx="877" cy="397.1" rx="4" ry="3.4" fill="#f9bfb0" stroke="#e88572" stroke-width="0.8"/>
<ellipse cx="898" cy="391" rx="6.8" ry="6" fill="#f6a795" stroke="#e4745f" stroke-width="1.1"/>
<ellipse cx="898" cy="390.5" rx="4" ry="3.4" fill="#f9bfb0" stroke="#e88572" stroke-width="0.8"/>
<ellipse cx="919.5" cy="384" rx="6.8" ry="6" fill="#f6a795" stroke="#e4745f" stroke-width="1.1"/>
<ellipse cx="919.5" cy="383.5" rx="4" ry="3.4" fill="#f9bfb0" stroke="#e88572" stroke-width="0.8"/>
<ellipse cx="917" cy="371" rx="6.8" ry="6" fill="#f6a795" stroke="#e4745f" stroke-width="1.1"/>
<ellipse cx="917" cy="370.5" rx="4" ry="3.4" fill="#f9bfb0" stroke="#e88572" stroke-width="0.8"/>
<ellipse cx="939.4" cy="373.7" rx="6.8" ry="6" fill="#f6a795" stroke="#e4745f" stroke-width="1.1"/>
<ellipse cx="939.4" cy="373.2" rx="4" ry="3.4" fill="#f9bfb0" stroke="#e88572" stroke-width="0.8"/>
<ellipse cx="948.7" cy="387" rx="6.8" ry="6" fill="#f6a795" stroke="#e4745f" stroke-width="1.1"/>
<ellipse cx="948.7" cy="386.5" rx="4" ry="3.4" fill="#f9bfb0" stroke="#e88572" stroke-width="0.8"/>
<ellipse cx="971" cy="391" rx="6.8" ry="6" fill="#f6a795" stroke="#e4745f" stroke-width="1.1"/>
<ellipse cx="971" cy="390.5" rx="4" ry="3.4" fill="#f9bfb0" stroke="#e88572" stroke-width="0.8"/>
<ellipse cx="988.6" cy="397.7" rx="6.8" ry="6" fill="#f6a795" stroke="#e4745f" stroke-width="1.1"/>
<ellipse cx="988.6" cy="397.2" rx="4" ry="3.4" fill="#f9bfb0" stroke="#e88572" stroke-width="0.8"/>
<ellipse cx="1004.5" cy="403" rx="6.8" ry="6" fill="#f6a795" stroke="#e4745f" stroke-width="1.1"/>
<ellipse cx="1004.5" cy="402.5" rx="4" ry="3.4" fill="#f9bfb0" stroke="#e88572" stroke-width="0.8"/>
<ellipse cx="1024.5" cy="404" rx="6.8" ry="6" fill="#f6a795" stroke="#e4745f" stroke-width="1.1"/>
<ellipse cx="1024.5" cy="403.5" rx="4" ry="3.4" fill="#f9bfb0" stroke="#e88572" stroke-width="0.8"/>
<circle cx="869" cy="421" r="1.9" fill="#f8b3a2" stroke="#dd6853" stroke-width="0.8"/>
<circle cx="958" cy="410" r="1.9" fill="#f8b3a2" stroke="#dd6853" stroke-width="0.8"/>
<circle cx="1008" cy="413" r="1.9" fill="#f8b3a2" stroke="#dd6853" stroke-width="0.8"/>
<circle cx="1010" cy="420" r="1.9" fill="#f8b3a2" stroke="#dd6853" stroke-width="0.8"/>
<circle cx="970" cy="429" r="1.9" fill="#f8b3a2" stroke="#dd6853" stroke-width="0.8"/>
<circle cx="996" cy="452" r="1.9" fill="#f8b3a2" stroke="#dd6853" stroke-width="0.8"/>
<circle cx="930" cy="452" r="1.9" fill="#f8b3a2" stroke="#dd6853" stroke-width="0.8"/>
<circle cx="866" cy="463" r="1.9" fill="#f8b3a2" stroke="#dd6853" stroke-width="0.8"/>
<circle cx="865" cy="468" r="1.9" fill="#f8b3a2" stroke="#dd6853" stroke-width="0.8"/>
<circle cx="912" cy="467" r="1.9" fill="#f8b3a2" stroke="#dd6853" stroke-width="0.8"/>
<circle cx="892" cy="474" r="1.9" fill="#f8b3a2" stroke="#dd6853" stroke-width="0.8"/>
<circle cx="849" cy="495" r="1.9" fill="#f8b3a2" stroke="#dd6853" stroke-width="0.8"/>
<circle cx="852" cy="510" r="1.9" fill="#f8b3a2" stroke="#dd6853" stroke-width="0.8"/>
<circle cx="865" cy="514" r="1.9" fill="#f8b3a2" stroke="#dd6853" stroke-width="0.8"/>
<circle cx="961" cy="491" r="1.9" fill="#f8b3a2" stroke="#dd6853" stroke-width="0.8"/>
<circle cx="940" cy="498" r="1.9" fill="#f8b3a2" stroke="#dd6853" stroke-width="0.8"/>
<circle cx="992" cy="470" r="1.9" fill="#f8b3a2" stroke="#dd6853" stroke-width="0.8"/>
<circle cx="992" cy="477" r="1.9" fill="#f8b3a2" stroke="#dd6853" stroke-width="0.8"/>
<circle cx="993" cy="528" r="1.9" fill="#f8b3a2" stroke="#dd6853" stroke-width="0.8"/>
<circle cx="912" cy="533" r="1.9" fill="#f8b3a2" stroke="#dd6853" stroke-width="0.8"/>
<circle cx="892" cy="541" r="1.9" fill="#f8b3a2" stroke="#dd6853" stroke-width="0.8"/>
<circle cx="862" cy="546" r="1.9" fill="#f8b3a2" stroke="#dd6853" stroke-width="0.8"/>
<circle cx="884" cy="567" r="1.9" fill="#f8b3a2" stroke="#dd6853" stroke-width="0.8"/>
<circle cx="948" cy="572" r="1.9" fill="#f8b3a2" stroke="#dd6853" stroke-width="0.8"/>
<circle cx="972" cy="575" r="1.9" fill="#f8b3a2" stroke="#dd6853" stroke-width="0.8"/>
<circle cx="1020" cy="423" r="1.9" fill="#f8b3a2" stroke="#dd6853" stroke-width="0.8"/>
<circle cx="936" cy="625" r="1.9" fill="#f8b3a2" stroke="#dd6853" stroke-width="0.8"/>
</g>
<path d="M1042,411C1041.2,415.8 1037.9,433 1037,440C1036.1,447 1037.8,446.3 1036.4,453C1035,459.7 1031.6,470.7 1028.5,480C1025.4,489.3 1021.8,498.8 1017.8,509C1013.8,519.2 1009,531.2 1004.5,541C1000,550.8 995.4,560.1 991,567.6C986.6,575.1 982.8,581.1 978,586C973.2,590.9 967.3,594.3 962,597C956.7,599.7 952.2,600.9 946,602C939.8,603.1 931.9,603.7 924.8,603.5C917.7,603.3 909.7,602.4 903.5,600.8C897.3,599.2 892.5,597.3 887.6,594C882.7,590.7 878.4,587.2 874,581C869.6,574.8 865.4,565.5 861,557C856.6,548.5 852.1,539.3 847.7,530C843.3,520.7 838.4,510.2 834.4,501C830.4,491.8 826.7,482.9 823.8,474.5C820.9,466.1 819,458 817,450.6C815,443.2 813.5,437.3 812,430C810.5,422.7 809.7,414.5 808,407C806.3,399.5 803.3,390.8 802,385C800.7,379.2 800.3,374.2 800,372" fill="none" stroke="#b0442f" stroke-width="1.1"/>
<g opacity="0.999"><path d="M263.4,180.6L268.5,183.8" fill="none" stroke="#ffffff" stroke-width="3.6" stroke-linecap="round" opacity="0.5"/>
<path d="M123.2,92L268.5,183.8" fill="none" stroke="#0a0a0a" stroke-width="2.2" stroke-linejoin="miter"/>
<path d="M401.5,217.8L405.4,222.3" fill="none" stroke="#ffffff" stroke-width="3.6" stroke-linecap="round" opacity="0.5"/>
<path d="M256,48.7L405.4,222.3" fill="none" stroke="#0a0a0a" stroke-width="2.2" stroke-linejoin="miter"/>
<path d="M364.5,319L358.8,321" fill="none" stroke="#ffffff" stroke-width="3.6" stroke-linecap="round" opacity="0.5"/>
<path d="M568.4,247.5L358.8,321" fill="none" stroke="#0a0a0a" stroke-width="2.2" stroke-linejoin="miter"/>
<path d="M138.7,395.7L141.6,390.4" fill="none" stroke="#ffffff" stroke-width="3.6" stroke-linecap="round" opacity="0.5"/>
<path d="M97.5,472L141.6,390.4" fill="none" stroke="#0a0a0a" stroke-width="2.2" stroke-linejoin="miter"/>
<path d="M247.3,379.1L249.5,373.5" fill="none" stroke="#ffffff" stroke-width="3.6" stroke-linecap="round" opacity="0.5"/>
<path d="M186,538L249.5,373.5" fill="none" stroke="#0a0a0a" stroke-width="2.2" stroke-linejoin="miter"/>
<text x="193.5" y="38.7">Styloglossus</text>
<text x="15" y="77.6">Dorsal surface</text>
<text x="15.5" y="100.4">of tongue</text>
<text x="573.5" y="253">Hyoglossus</text>
<text x="11.3" y="498">Mandible bone</text>
<text x="114.5" y="565">Genioglossus</text>
<text x="227" y="661.8">(a) Extrinsic tongue muscles</text>
<path d="M977,241.3L975,247" fill="none" stroke="#ffffff" stroke-width="3.6" stroke-linecap="round" opacity="0.5"/>
<path d="M1051,26L975,247" fill="none" stroke="#0a0a0a" stroke-width="2.2" stroke-linejoin="miter"/>
<path d="M1009.3,276.1L1007,281.6" fill="none" stroke="#ffffff" stroke-width="3.6" stroke-linecap="round" opacity="0.5"/>
<path d="M1090.2,83.9L1007,281.6" fill="none" stroke="#0a0a0a" stroke-width="2.2" stroke-linejoin="miter"/>
<path d="M1039,288.8L1036,294" fill="none" stroke="#ffffff" stroke-width="3.6" stroke-linecap="round" opacity="0.5"/>
<path d="M1129.5,135.2L1036,294" fill="none" stroke="#0a0a0a" stroke-width="2.2" stroke-linejoin="miter"/>
<path d="M1094.6,320.3L1092,325.7" fill="none" stroke="#ffffff" stroke-width="3.6" stroke-linecap="round" opacity="0.5"/>
<path d="M1142,222.9L1092,325.7" fill="none" stroke="#0a0a0a" stroke-width="2.2" stroke-linejoin="miter"/>
<path d="M872,338.7L875.6,333.9" fill="none" stroke="#ffffff" stroke-width="3.6" stroke-linecap="round" opacity="0.5"/>
<path d="M727.7,443.7L794,443.7L875.6,333.9" fill="none" stroke="#0a0a0a" stroke-width="2.2" stroke-linejoin="miter"/>
<path d="M934.6,336.1L939.4,332.5" fill="none" stroke="#ffffff" stroke-width="3.6" stroke-linecap="round" opacity="0.5"/>
<path d="M794,443.7L939.4,332.5" fill="none" stroke="#0a0a0a" stroke-width="2.2" stroke-linejoin="miter"/>
<path d="M971.7,454.8L966,456.5" fill="none" stroke="#ffffff" stroke-width="3.6" stroke-linecap="round" opacity="0.5"/>
<path d="M1150,416L1099,416L966,456.5" fill="none" stroke="#0a0a0a" stroke-width="2.2" stroke-linejoin="miter"/>
<path d="M954.8,526.4L950,530" fill="none" stroke="#ffffff" stroke-width="3.6" stroke-linecap="round" opacity="0.5"/>
<path d="M1099,416L950,530" fill="none" stroke="#0a0a0a" stroke-width="2.2" stroke-linejoin="miter"/>
<text x="1057.5" y="31">Pharyngopalatine arch</text>
<text x="1097.5" y="86.8">Palatine tonsil</text>
<text x="1136" y="138">Palatoglossus</text>
<text x="1147.7" y="225.8">Buccinator</text>
<text x="658.3" y="450.3">Valate</text>
<text x="657.3" y="472.8">papilla</text>
<text x="1155.7" y="423">Fungiform</text>
<text x="1155" y="446">papilla</text>
<text x="735.3" y="662.2">(b) Palatoglossus and surface of tongue</text></g>
</svg>
</body></html>
